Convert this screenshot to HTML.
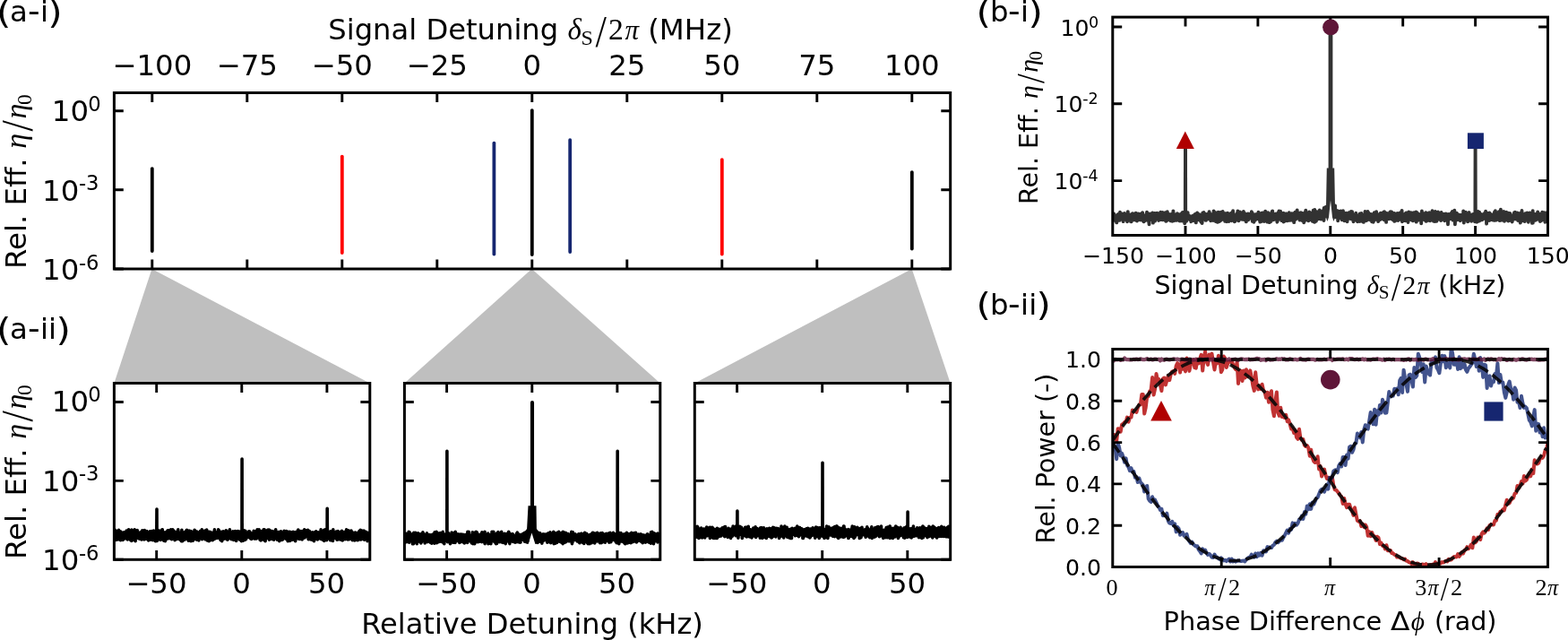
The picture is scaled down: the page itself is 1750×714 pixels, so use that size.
<!DOCTYPE html>
<html><head><meta charset="utf-8"><title>Figure</title><style>html,body{margin:0;padding:0;background:#fff}svg{display:block}</style></head><body>
<svg width="1750" height="714" viewBox="0 0 1750 714">
<rect width="1750" height="714" fill="#fff"/>
<defs><filter id="soft" x="0" y="0" width="1750" height="714" filterUnits="userSpaceOnUse"><feGaussianBlur stdDeviation="0.75"/></filter></defs>
<g filter="url(#soft)">
<rect width="1750" height="714" fill="#fff"/>
<polygon points="169.5,300 127.4,427.5 412.8,427.5" fill="#bfbfbf"/>
<polygon points="593.5,300 451.4,427.5 736.8,427.5" fill="#bfbfbf"/>
<polygon points="1017.7,300 775.3,427.5 1060.7,427.5" fill="#bfbfbf"/>
<path d="M169.8 188.1V280" stroke="#000" stroke-width="3.8" stroke-linecap="round" fill="none"/>
<path d="M381.8 174.6V282" stroke="#ff0000" stroke-width="3.8" stroke-linecap="round" fill="none"/>
<path d="M551.4 159.6V283.5" stroke="#142870" stroke-width="3.8" stroke-linecap="round" fill="none"/>
<path d="M593.8 123.1V284" stroke="#000" stroke-width="3.8" stroke-linecap="round" fill="none"/>
<path d="M636.2 156.1V281" stroke="#142870" stroke-width="3.8" stroke-linecap="round" fill="none"/>
<path d="M805.8 178.1V283.5" stroke="#ff0000" stroke-width="3.8" stroke-linecap="round" fill="none"/>
<path d="M1017.8 192.1V277.5" stroke="#000" stroke-width="3.8" stroke-linecap="round" fill="none"/>
<path d="M169.8 103.5v10.4M169.8 300v-10.4M275.8 103.5v10.4M275.8 300v-10.4M381.8 103.5v10.4M381.8 300v-10.4M487.8 103.5v10.4M487.8 300v-10.4M593.8 103.5v10.4M593.8 300v-10.4M699.8 103.5v10.4M699.8 300v-10.4M805.8 103.5v10.4M805.8 300v-10.4M911.8 103.5v10.4M911.8 300v-10.4M1017.8 103.5v10.4M1017.8 300v-10.4M127.4 123.7h10.4M1060.7 123.7h-10.4M127.4 211.7h10.4M1060.7 211.7h-10.4M127.4 300h10.4M1060.7 300h-10.4" fill="none" stroke="#000" stroke-width="2.9"/>
<rect x="127.4" y="103.5" width="933.3" height="196.5" fill="none" stroke="#000" stroke-width="3.0"/>
<text x="169.8" y="84" font-size="32.4" text-anchor="middle" font-family='"DejaVu Sans","Liberation Sans",sans-serif'>−100</text>
<text x="275.8" y="84" font-size="32.4" text-anchor="middle" font-family='"DejaVu Sans","Liberation Sans",sans-serif'>−75</text>
<text x="381.8" y="84" font-size="32.4" text-anchor="middle" font-family='"DejaVu Sans","Liberation Sans",sans-serif'>−50</text>
<text x="487.8" y="84" font-size="32.4" text-anchor="middle" font-family='"DejaVu Sans","Liberation Sans",sans-serif'>−25</text>
<text x="593.8" y="84" font-size="32.4" text-anchor="middle" font-family='"DejaVu Sans","Liberation Sans",sans-serif'>0</text>
<text x="699.8" y="84" font-size="32.4" text-anchor="middle" font-family='"DejaVu Sans","Liberation Sans",sans-serif'>25</text>
<text x="805.8" y="84" font-size="32.4" text-anchor="middle" font-family='"DejaVu Sans","Liberation Sans",sans-serif'>50</text>
<text x="911.8" y="84" font-size="32.4" text-anchor="middle" font-family='"DejaVu Sans","Liberation Sans",sans-serif'>75</text>
<text x="1017.8" y="84" font-size="32.4" text-anchor="middle" font-family='"DejaVu Sans","Liberation Sans",sans-serif'>100</text>
<text><tspan x="57.8" y="135" font-size="32.4" font-family='"DejaVu Sans","Liberation Sans",sans-serif'>10</tspan><tspan x="98.3" y="123.8" font-size="22.7" font-family='"DejaVu Sans","Liberation Sans",sans-serif'>0</tspan></text>
<text><tspan x="47.1" y="223.9" font-size="32.4" font-family='"DejaVu Sans","Liberation Sans",sans-serif'>10</tspan><tspan x="87.9" y="212.2" font-size="22.7" font-family='"DejaVu Sans","Liberation Sans",sans-serif'>-3</tspan></text>
<text><tspan x="47.1" y="312.2" font-size="32.4" font-family='"DejaVu Sans","Liberation Sans",sans-serif'>10</tspan><tspan x="87.9" y="300.5" font-size="22.7" font-family='"DejaVu Sans","Liberation Sans",sans-serif'>-6</tspan></text>
<text><tspan x="366.3" y="44.3" font-size="32.2" font-family='"DejaVu Sans","Liberation Sans",sans-serif'>Signal Detuning </tspan><tspan x="633.6" y="44.3" font-size="33" font-family='"Liberation Serif","DejaVu Serif",serif' font-style="italic">δ</tspan><tspan x="648.6" y="49.6" font-size="24" font-family='"Liberation Serif","DejaVu Serif",serif'>S</tspan><tspan x="664" y="48.9" font-size="40" font-family='"DejaVu Sans Light","DejaVu Sans","Liberation Sans",sans-serif' font-weight="200">/</tspan><tspan x="679" y="44.3" font-size="33.7" font-family='"Liberation Serif","DejaVu Serif",serif'>2</tspan><tspan x="697.6" y="44.3" font-size="31.1" font-family='"Liberation Serif","DejaVu Serif",serif' font-style="italic">π </tspan><tspan x="723.2" y="44.3" font-size="32.4" font-family='"DejaVu Sans","Liberation Sans",sans-serif'>(MHz)</tspan></text>
<text transform="translate(28.6 297) rotate(-90)"><tspan x="-3" y="0" font-size="32.4" font-family='"DejaVu Sans","Liberation Sans",sans-serif'>Rel. Eff. </tspan><tspan x="131.3" y="0" font-size="34" font-family='"Liberation Serif","DejaVu Serif",serif' font-style="italic">η</tspan><tspan x="150" y="4.6" font-size="40" font-family='"DejaVu Sans Light","DejaVu Sans","Liberation Sans",sans-serif' font-weight="200">/</tspan><tspan x="164.4" y="0" font-size="34" font-family='"Liberation Serif","DejaVu Serif",serif' font-style="italic">η</tspan><tspan x="179.9" y="5.9" font-size="23.3" font-family='"Liberation Serif","DejaVu Serif",serif'>0</tspan></text>
<text><tspan x="-4" y="25.8" font-size="34.7" font-family='"DejaVu Sans","Liberation Sans",sans-serif' textLength="16.43" lengthAdjust="spacingAndGlyphs">(</tspan><tspan x="11" y="24.2" font-size="32.4" font-family='"DejaVu Sans","Liberation Sans",sans-serif'>a</tspan><tspan x="30.9" y="24.2" font-size="35" font-family='"DejaVu Sans","Liberation Sans",sans-serif' textLength="13.68" lengthAdjust="spacingAndGlyphs">-</tspan><tspan x="45" y="24.2" font-size="32.4" font-family='"DejaVu Sans","Liberation Sans",sans-serif'>i</tspan><tspan x="53.3" y="25.8" font-size="34.7" font-family='"DejaVu Sans","Liberation Sans",sans-serif' textLength="16.43" lengthAdjust="spacingAndGlyphs">)</tspan></text>
<text><tspan x="-4" y="379.6" font-size="34.7" font-family='"DejaVu Sans","Liberation Sans",sans-serif' textLength="16.43" lengthAdjust="spacingAndGlyphs">(</tspan><tspan x="11" y="378" font-size="32.4" font-family='"DejaVu Sans","Liberation Sans",sans-serif'>a</tspan><tspan x="30.9" y="378" font-size="35" font-family='"DejaVu Sans","Liberation Sans",sans-serif' textLength="13.68" lengthAdjust="spacingAndGlyphs">-</tspan><tspan x="45" y="378" font-size="32.4" font-family='"DejaVu Sans","Liberation Sans",sans-serif'>i</tspan><tspan x="54.1" y="378" font-size="32.4" font-family='"DejaVu Sans","Liberation Sans",sans-serif'>i</tspan><tspan x="62.4" y="379.6" font-size="34.7" font-family='"DejaVu Sans","Liberation Sans",sans-serif' textLength="16.43" lengthAdjust="spacingAndGlyphs">)</tspan></text>
<clipPath id="c0"><rect x="127.4" y="427.5" width="285.4" height="196.8"/></clipPath>
<polyline points="127.4,600.5 127.5,596.6 127.6,595.2 127.8,595.9 127.9,599.9 128,594.5 128.1,595.5 128.2,595.4 128.4,595.3 128.5,594.4 128.6,591.3 128.7,599 128.8,597.2 128.9,592.6 129.1,601 129.2,596.5 129.3,599.2 129.4,597.4 129.5,596.1 129.7,602.5 129.8,600 129.9,601.1 130,598 130.1,599.2 130.3,593.3 130.4,599 130.5,592.7 130.6,598.4 130.7,596.6 130.8,597.2 131,597.3 131.1,600.4 131.2,596.4 131.3,596.3 131.4,596.7 131.6,595.7 131.7,599.6 131.8,598.1 131.9,599.1 132,601.9 132.2,596.4 132.3,599.1 132.4,597.6 132.5,591.3 132.6,596.7 132.8,597.1 132.9,594.4 133,594 133.1,592.5 133.2,598.7 133.3,592.5 133.5,597.7 133.6,600.5 133.7,599.8 133.8,594.4 133.9,595.3 134.1,593.9 134.2,599.8 134.3,598.3 134.4,600.6 134.5,602.7 134.7,597.4 134.8,593.1 134.9,594.3 135,599.4 135.1,594.2 135.2,598.9 135.4,596.5 135.5,595.1 135.6,598.4 135.7,599.7 135.8,595.6 136,597.8 136.1,598.8 136.2,595.6 136.3,597.9 136.4,596.3 136.6,599.9 136.7,595.4 136.8,599.9 136.9,598.4 137,602.4 137.2,594.2 137.3,597.1 137.4,596.1 137.5,601.9 137.6,596.9 137.7,598.4 137.9,594.1 138,601.6 138.1,596.4 138.2,594.5 138.3,600.6 138.5,597 138.6,600.3 138.7,597.2 138.8,596.4 138.9,593.8 139.1,596.9 139.2,599.2 139.3,595.8 139.4,597.3 139.5,594.4 139.6,599 139.8,593.7 139.9,596.9 140,596.7 140.1,594.6 140.2,598.8 140.4,598.7 140.5,596 140.6,597.6 140.7,597.2 140.8,598.4 141,598.2 141.1,595 141.2,592.1 141.3,601.1 141.4,593.3 141.6,595.4 141.7,594.1 141.8,596.9 141.9,599.3 142,597.9 142.1,599.8 142.3,601.9 142.4,597.6 142.5,596.6 142.6,598.1 142.7,596.8 142.9,601.5 143,594.5 143.1,597.8 143.2,597.2 143.3,595.4 143.5,598.9 143.6,590.9 143.7,594 143.8,594 143.9,596.9 144,599.3 144.2,596 144.3,599.3 144.4,596.7 144.5,596.7 144.6,594 144.8,596.2 144.9,596.9 145,593.6 145.1,597.7 145.2,598.8 145.4,598.7 145.5,593.4 145.6,597.3 145.7,598.9 145.8,602.6 146,600.2 146.1,596.5 146.2,595.8 146.3,592.9 146.4,599.2 146.5,596 146.7,593.9 146.8,603.5 146.9,591.1 147,600.4 147.1,600.4 147.3,594.8 147.4,596.2 147.5,594.1 147.6,595.6 147.7,596.5 147.9,597.7 148,599.4 148.1,595.8 148.2,602.5 148.3,597.8 148.4,595.2 148.6,600.4 148.7,595.1 148.8,594.7 148.9,597.1 149,597.8 149.2,595.8 149.3,595.6 149.4,598 149.5,591.8 149.6,593.2 149.8,594.6 149.9,593.6 150,593.8 150.1,601.1 150.2,590.9 150.4,601.2 150.5,596.8 150.6,600.3 150.7,595.6 150.8,596.1 150.9,596.7 151.1,603.8 151.2,595.2 151.3,596.7 151.4,602.9 151.5,593.3 151.7,597.7 151.8,599.4 151.9,596.2 152,598.8 152.1,596.3 152.3,598.3 152.4,599.8 152.5,600.4 152.6,595.2 152.7,597.1 152.8,599.4 153,598.9 153.1,599.7 153.2,591.5 153.3,596.3 153.4,596.8 153.6,593.2 153.7,599.1 153.8,600.3 153.9,598.7 154,596.9 154.2,597.9 154.3,598.3 154.4,596.9 154.5,598.6 154.6,600.3 154.8,595.4 154.9,598.1 155,598.2 155.1,596 155.2,596.3 155.3,600.4 155.5,599.4 155.6,601.2 155.7,600.7 155.8,596.6 155.9,598.7 156.1,600 156.2,601 156.3,594 156.4,598.6 156.5,596.8 156.7,597.7 156.8,600 156.9,596.3 157,597.1 157.1,593.9 157.2,595.8 157.4,600.9 157.5,597.8 157.6,597.8 157.7,597.7 157.8,600.8 158,602 158.1,597.8 158.2,596.5 158.3,600.7 158.4,592.5 158.6,595.7 158.7,598.8 158.8,591.9 158.9,601.6 159,600.2 159.2,600.4 159.3,594.3 159.4,599.5 159.5,595.5 159.6,596.8 159.7,599.1 159.9,597.1 160,600.7 160.1,595.2 160.2,600.1 160.3,599.8 160.5,595.6 160.6,598.8 160.7,592.4 160.8,593.7 160.9,601.9 161.1,597 161.2,597.8 161.3,591.6 161.4,598.9 161.5,599.1 161.6,598 161.8,598 161.9,599.9 162,596.7 162.1,598.9 162.2,599.7 162.4,593.3 162.5,597 162.6,600.3 162.7,601.2 162.8,598.3 163,600.8 163.1,600.9 163.2,594.4 163.3,597.8 163.4,598.9 163.6,596.9 163.7,598.9 163.8,597.2 163.9,592.5 164,597.5 164.1,599.1 164.3,600.5 164.4,595.7 164.5,597.9 164.6,596.3 164.7,601.8 164.9,598.4 165,597.1 165.1,596 165.2,596.7 165.3,598.1 165.5,594 165.6,597.5 165.7,603 165.8,600.8 165.9,597.5 166,596.8 166.2,601 166.3,600.7 166.4,596.4 166.5,596.7 166.6,596.4 166.8,595.5 166.9,597.2 167,599.5 167.1,594 167.2,594.6 167.4,592.7 167.5,596.1 167.6,596.9 167.7,596.6 167.8,596.4 168,602.2 168.1,597.6 168.2,598.1 168.3,596.2 168.4,596.3 168.5,598 168.7,598.3 168.8,600.7 168.9,596.4 169,598.4 169.1,598.1 169.3,594.2 169.4,594.3 169.5,598 169.6,592.6 169.7,595.2 169.9,597.1 170,599.6 170.1,599.6 170.2,594.7 170.3,602.6 170.4,592.6 170.6,595.4 170.7,598.3 170.8,592.9 170.9,596.7 171,600.7 171.2,599.2 171.3,600.3 171.4,600.7 171.5,592.1 171.6,597.2 171.8,597.9 171.9,595.3 172,595.9 172.1,599.3 172.2,600.2 172.4,602.8 172.5,595 172.6,598.2 172.7,595.1 172.8,597.5 172.9,601.2 173.1,599.2 173.2,593.5 173.3,599.2 173.4,596.2 173.5,603.8 173.7,599.7 173.8,594.9 173.9,602.6 174,594.6 174.1,598.8 174.3,599.1 174.4,593.5 174.5,598.8 174.6,594.4 174.7,598.4 174.8,596.3 175,568 175.1,594.3 175.2,597.9 175.3,603.5 175.4,592.5 175.6,598.7 175.7,593.7 175.8,599.4 175.9,598.4 176,596.9 176.2,597.3 176.3,591.9 176.4,601.9 176.5,598.7 176.6,596.4 176.8,596 176.9,597.1 177,596.6 177.1,594.4 177.2,598.7 177.3,598.7 177.5,597.5 177.6,595.3 177.7,601.1 177.8,592.1 177.9,598.2 178.1,598.9 178.2,598.2 178.3,600.2 178.4,599.8 178.5,598.1 178.7,596 178.8,595.3 178.9,598.3 179,598.1 179.1,596 179.2,602.4 179.4,597.7 179.5,594.4 179.6,592.8 179.7,597.8 179.8,601 180,598.9 180.1,593.9 180.2,591.8 180.3,597.7 180.4,601.4 180.6,596.9 180.7,595.2 180.8,594.8 180.9,596.3 181,590.9 181.2,597.3 181.3,590.9 181.4,600.2 181.5,593.3 181.6,594.2 181.7,595 181.9,599.4 182,597.6 182.1,600.5 182.2,597.2 182.3,596.5 182.5,595.7 182.6,600.6 182.7,599.3 182.8,603.2 182.9,597.1 183.1,600.1 183.2,594.5 183.3,598.8 183.4,595.9 183.5,598.4 183.6,597.4 183.8,597.9 183.9,600.6 184,595 184.1,599.7 184.2,593.9 184.4,603.8 184.5,598.7 184.6,595.1 184.7,595.1 184.8,602.7 185,596.9 185.1,596.9 185.2,596.7 185.3,598.4 185.4,599.6 185.6,596.9 185.7,595.9 185.8,594.8 185.9,597.7 186,599.7 186.1,595.5 186.3,601.2 186.4,599.4 186.5,599.2 186.6,597.5 186.7,597 186.9,592.1 187,595.7 187.1,594.8 187.2,598.5 187.3,600.3 187.5,598.4 187.6,598.8 187.7,591.7 187.8,593.4 187.9,595 188,597.6 188.2,600.8 188.3,598.2 188.4,599 188.5,599.4 188.6,596.2 188.8,592.5 188.9,591.7 189,597.8 189.1,597 189.2,596.4 189.4,599 189.5,593.6 189.6,595.8 189.7,597 189.8,595.7 190,598.4 190.1,597.8 190.2,593.8 190.3,594.5 190.4,596.7 190.5,601 190.7,590.9 190.8,595.9 190.9,594.5 191,599.7 191.1,595.5 191.3,595.5 191.4,596.2 191.5,593.8 191.6,601.7 191.7,593.7 191.9,598.1 192,598.4 192.1,597.1 192.2,595.9 192.3,596.5 192.4,598 192.6,595.4 192.7,590.9 192.8,595.2 192.9,598 193,593.7 193.2,594.6 193.3,599.1 193.4,593.6 193.5,600.7 193.6,595.7 193.8,592 193.9,600.3 194,598.3 194.1,599.2 194.2,593.4 194.4,599 194.5,597.4 194.6,596 194.7,594.5 194.8,595.2 194.9,599.7 195.1,602.6 195.2,594.6 195.3,597.1 195.4,595.6 195.5,599 195.7,597.4 195.8,593.6 195.9,601.3 196,597.9 196.1,601.5 196.3,593.8 196.4,596.9 196.5,599.9 196.6,601.8 196.7,597.1 196.8,597 197,597.8 197.1,593.7 197.2,600 197.3,595.3 197.4,593.2 197.6,598.9 197.7,595 197.8,593.2 197.9,601 198,599 198.2,600.7 198.3,595.9 198.4,592.3 198.5,601.1 198.6,597.3 198.8,590.9 198.9,599 199,595.6 199.1,595.7 199.2,598.7 199.3,594.9 199.5,596.3 199.6,597.6 199.7,598.1 199.8,593.8 199.9,596.9 200.1,599.4 200.2,598.7 200.3,596.5 200.4,596.1 200.5,601.1 200.7,594.9 200.8,600.6 200.9,602.2 201,598.2 201.1,596.4 201.2,594.7 201.4,600.4 201.5,598.3 201.6,594.5 201.7,597.5 201.8,594.3 202,595.5 202.1,601.4 202.2,599.5 202.3,594.9 202.4,603.8 202.6,595 202.7,597.7 202.8,599.7 202.9,591.2 203,599.7 203.1,599.1 203.3,598.1 203.4,598.2 203.5,595.8 203.6,596.2 203.7,603.8 203.9,594.1 204,594.4 204.1,594.8 204.2,596 204.3,601.4 204.5,595.3 204.6,598.5 204.7,600.2 204.8,597.2 204.9,595.5 205.1,600 205.2,600.2 205.3,595.7 205.4,594.5 205.5,598.8 205.6,596.8 205.8,597.3 205.9,593.7 206,596.6 206.1,602.2 206.2,599.6 206.4,594 206.5,593.7 206.6,593.8 206.7,597.9 206.8,599.7 207,595.4 207.1,597.7 207.2,598 207.3,599.2 207.4,596.4 207.5,599.8 207.7,598.4 207.8,592 207.9,597.6 208,594 208.1,596.7 208.3,596.2 208.4,596.8 208.5,591.3 208.6,596.3 208.7,596.6 208.9,596.9 209,598.7 209.1,594.1 209.2,599.5 209.3,601.5 209.5,596.6 209.6,596.1 209.7,600.5 209.8,596.6 209.9,597.4 210,601.7 210.2,603.1 210.3,596.4 210.4,597.3 210.5,595.1 210.6,601 210.8,594.2 210.9,597 211,596.1 211.1,592.1 211.2,597.4 211.4,597.8 211.5,598.5 211.6,601.2 211.7,597.6 211.8,601.3 211.9,600.2 212.1,602.2 212.2,595.2 212.3,597.6 212.4,594 212.5,598.9 212.7,598.4 212.8,599.3 212.9,599.9 213,592.6 213.1,603.8 213.3,593.9 213.4,594.2 213.5,598.6 213.6,597 213.7,593.1 213.9,597.3 214,602.9 214.1,599.2 214.2,593.9 214.3,600 214.4,594 214.6,598.5 214.7,595.3 214.8,598.8 214.9,599.2 215,598.2 215.2,603.1 215.3,595.8 215.4,603.2 215.5,597.5 215.6,600.4 215.8,596.4 215.9,593.9 216,597.3 216.1,598.2 216.2,596.6 216.3,596.1 216.5,595 216.6,598.6 216.7,594.1 216.8,600.1 216.9,597.8 217.1,591.3 217.2,596.7 217.3,595.3 217.4,596.2 217.5,596.5 217.7,592 217.8,597.1 217.9,601.5 218,597.9 218.1,596.8 218.3,598.8 218.4,598.9 218.5,593.9 218.6,595.8 218.7,593 218.8,596.6 219,600.3 219.1,597.9 219.2,598.1 219.3,598.2 219.4,595.2 219.6,602.1 219.7,597.7 219.8,593 219.9,600.4 220,595.3 220.2,597.2 220.3,601.8 220.4,599.8 220.5,593.6 220.6,599.2 220.7,597.1 220.9,597.5 221,600.4 221.1,594.2 221.2,594.8 221.3,596.2 221.5,597.7 221.6,599.6 221.7,599.9 221.8,594.8 221.9,603 222.1,594.6 222.2,596.4 222.3,596 222.4,597.3 222.5,600 222.7,599.6 222.8,597.7 222.9,596.1 223,594 223.1,596.6 223.2,595.9 223.4,599.4 223.5,595 223.6,595.9 223.7,592.4 223.8,594.6 224,597.2 224.1,600.3 224.2,593 224.3,599.7 224.4,596.4 224.6,594.5 224.7,595.1 224.8,600.2 224.9,599.9 225,594.1 225.1,595.4 225.3,590.9 225.4,599.4 225.5,601.7 225.6,600.5 225.7,599.6 225.9,598.4 226,596.5 226.1,596.5 226.2,598.1 226.3,599.3 226.5,596.5 226.6,598.7 226.7,594.8 226.8,598.2 226.9,598.9 227.1,594 227.2,594 227.3,592.9 227.4,599.8 227.5,594.6 227.6,593.5 227.8,596.6 227.9,599.8 228,597.6 228.1,595.6 228.2,597 228.4,597 228.5,594.6 228.6,592.1 228.7,593.1 228.8,599.7 229,601.7 229.1,592.8 229.2,593.5 229.3,597.5 229.4,601.7 229.5,593.3 229.7,598.6 229.8,599.5 229.9,597.9 230,597 230.1,601.6 230.3,600.7 230.4,597.4 230.5,597.2 230.6,601.4 230.7,591.1 230.9,594.2 231,595.9 231.1,595.6 231.2,602.9 231.3,597.1 231.5,595.9 231.6,597 231.7,596.4 231.8,595.7 231.9,593.2 232,594.4 232.2,598.8 232.3,594.4 232.4,598.6 232.5,596.8 232.6,596.4 232.8,597.4 232.9,597.8 233,596.6 233.1,596.4 233.2,603.8 233.4,597.6 233.5,599.5 233.6,593.2 233.7,596.9 233.8,599.4 233.9,596.1 234.1,597 234.2,595.8 234.3,602.9 234.4,598.3 234.5,600 234.7,593.5 234.8,595.3 234.9,598 235,597.6 235.1,597.6 235.3,598.7 235.4,599.9 235.5,600.9 235.6,594.3 235.7,600.1 235.9,596.2 236,595.1 236.1,595.9 236.2,597.5 236.3,595.8 236.4,599 236.6,600.1 236.7,594.9 236.8,595.7 236.9,594.3 237,597.4 237.2,602.6 237.3,598.6 237.4,599.2 237.5,594.6 237.6,599.6 237.8,594.8 237.9,596.7 238,596.6 238.1,596.6 238.2,595.7 238.3,600.2 238.5,594.1 238.6,601.7 238.7,599.3 238.8,599.3 238.9,595.3 239.1,599.6 239.2,592.6 239.3,599.9 239.4,590.9 239.5,595.5 239.7,594.9 239.8,596.3 239.9,594.8 240,599.2 240.1,601 240.3,594.9 240.4,595.5 240.5,597.7 240.6,598 240.7,597.7 240.8,596.8 241,594.8 241.1,598.2 241.2,596.4 241.3,594 241.4,597.7 241.6,595.6 241.7,598.9 241.8,597.1 241.9,597.9 242,594.1 242.2,598.2 242.3,600.3 242.4,596.6 242.5,598.7 242.6,593.6 242.7,596.1 242.9,598.4 243,600.2 243.1,597.2 243.2,597.9 243.3,597.6 243.5,597 243.6,590.9 243.7,599.4 243.8,596.7 243.9,595 244.1,594 244.2,597.6 244.3,596.5 244.4,597.9 244.5,591.7 244.7,598.9 244.8,596.5 244.9,599.3 245,595.3 245.1,599.1 245.2,593 245.4,598.8 245.5,597.6 245.6,597.5 245.7,596.4 245.8,599 246,602.1 246.1,602.4 246.2,598 246.3,594.4 246.4,594.4 246.6,596.1 246.7,594.6 246.8,597.3 246.9,597.7 247,595.9 247.1,593.6 247.3,593.5 247.4,596.1 247.5,600.9 247.6,598.9 247.7,603.7 247.9,594.4 248,597.4 248.1,593.7 248.2,593.6 248.3,597.7 248.5,595.5 248.6,597.4 248.7,601.2 248.8,596.1 248.9,596.7 249.1,596.7 249.2,592.9 249.3,599.8 249.4,601.4 249.5,594.7 249.6,594 249.8,595.5 249.9,596.9 250,596.4 250.1,596.6 250.2,596.9 250.4,598 250.5,593.9 250.6,598.7 250.7,600.7 250.8,597.2 251,599.1 251.1,599.7 251.2,595.7 251.3,600.4 251.4,599.9 251.5,598.9 251.7,599.7 251.8,598.4 251.9,598.2 252,600.7 252.1,601 252.3,591.8 252.4,596.8 252.5,598.4 252.6,595.9 252.7,596.8 252.9,597 253,598.3 253.1,598 253.2,598.5 253.3,592.8 253.5,598.1 253.6,596.1 253.7,595.9 253.8,602.2 253.9,594.3 254,596.7 254.2,602.1 254.3,593.4 254.4,594.8 254.5,596.6 254.6,599.1 254.8,599.7 254.9,597.8 255,598.6 255.1,594.7 255.2,595.7 255.4,594.4 255.5,596.8 255.6,597.7 255.7,598 255.8,598.1 255.9,597.8 256.1,596.4 256.2,596.8 256.3,597.4 256.4,590.9 256.5,597 256.7,596.4 256.8,597.9 256.9,594.7 257,595 257.1,597.1 257.3,594.6 257.4,595.6 257.5,600.8 257.6,600.7 257.7,599.9 257.9,597 258,599.4 258.1,601.6 258.2,599 258.3,597.5 258.4,597.6 258.6,597 258.7,597.9 258.8,596.9 258.9,598 259,599.6 259.2,601 259.3,597.6 259.4,596 259.5,599.1 259.6,599 259.8,595.3 259.9,592.9 260,593.6 260.1,598.9 260.2,599.4 260.3,598.2 260.5,597 260.6,596.6 260.7,602.4 260.8,594.1 260.9,595.2 261.1,598.6 261.2,596.1 261.3,599.2 261.4,597.6 261.5,593.6 261.7,600.9 261.8,598.9 261.9,598.7 262,598.3 262.1,596.7 262.3,597.7 262.4,592.6 262.5,599.8 262.6,595.4 262.7,598.4 262.8,596.4 263,597.8 263.1,598.3 263.2,599 263.3,598.2 263.4,600.2 263.6,599.1 263.7,603.5 263.8,598.3 263.9,599.8 264,598.2 264.2,599.7 264.3,594.6 264.4,597.9 264.5,597.8 264.6,594.1 264.7,600.2 264.9,597 265,601 265.1,599.7 265.2,599.5 265.3,592.6 265.5,599.3 265.6,595.4 265.7,595.9 265.8,593.5 265.9,597.9 266.1,600.8 266.2,600.4 266.3,593.4 266.4,595.5 266.5,593.2 266.7,593 266.8,596.3 266.9,597.3 267,595.6 267.1,600.7 267.2,598.1 267.4,597.3 267.5,595.2 267.6,601.8 267.7,602.1 267.8,594.1 268,595.7 268.1,598.4 268.2,598.7 268.3,597.3 268.4,601.6 268.6,599.5 268.7,594.6 268.8,594.6 268.9,592.9 269,596 269.1,594 269.3,601.2 269.4,601.1 269.5,603.8 269.6,601.2 269.7,602.4 269.9,595.6 270,595.4 270.1,512.1 270.2,601.8 270.3,594.8 270.5,593.9 270.6,600.7 270.7,596.7 270.8,593.5 270.9,596.6 271.1,593.1 271.2,597.1 271.3,596.7 271.4,598.4 271.5,603.1 271.6,598.8 271.8,600.1 271.9,594.5 272,601.2 272.1,597.7 272.2,597.2 272.4,595.8 272.5,597.2 272.6,591.7 272.7,595.9 272.8,596.7 273,596.8 273.1,594.7 273.2,601.5 273.3,599.4 273.4,597.2 273.5,599.4 273.7,597 273.8,602.3 273.9,592.2 274,596.5 274.1,597.1 274.3,600.1 274.4,595.1 274.5,594.8 274.6,598.7 274.7,597.5 274.9,601.2 275,596.7 275.1,597.1 275.2,594.5 275.3,596 275.5,594 275.6,597.7 275.7,596.8 275.8,597.8 275.9,597.3 276,599.1 276.2,597.6 276.3,598.9 276.4,594.4 276.5,596.2 276.6,596.9 276.8,598.4 276.9,594.5 277,597 277.1,595.9 277.2,598.6 277.4,596.5 277.5,599.1 277.6,599.1 277.7,598.8 277.8,592.9 277.9,597 278.1,593.4 278.2,599.8 278.3,596.4 278.4,598.8 278.5,596.5 278.7,593 278.8,593.3 278.9,599.5 279,595.3 279.1,595.1 279.3,597.8 279.4,598.4 279.5,599.7 279.6,596.9 279.7,601 279.9,598 280,597.1 280.1,599.3 280.2,600.5 280.3,595.4 280.4,597.9 280.6,601.5 280.7,598 280.8,596.6 280.9,599.1 281,596.3 281.2,596.9 281.3,596.5 281.4,598.4 281.5,598.8 281.6,594.7 281.8,596.7 281.9,596.3 282,595.8 282.1,596.4 282.2,596.4 282.3,596.5 282.5,597.2 282.6,598.9 282.7,595.3 282.8,596.6 282.9,598.2 283.1,595.1 283.2,592.4 283.3,599.8 283.4,596.8 283.5,593.9 283.7,600.9 283.8,597.2 283.9,597.5 284,598.8 284.1,593 284.3,595.1 284.4,597.5 284.5,600.9 284.6,596.9 284.7,599.5 284.8,596 285,598.1 285.1,596.5 285.2,593.4 285.3,595.2 285.4,597.9 285.6,597.5 285.7,599.5 285.8,595.2 285.9,599.6 286,598.7 286.2,601 286.3,597 286.4,592.2 286.5,598.4 286.6,598.4 286.7,598.6 286.9,596.9 287,596.2 287.1,590.9 287.2,594 287.3,596.6 287.5,599.9 287.6,593.7 287.7,595.9 287.8,599.1 287.9,596.4 288.1,597 288.2,594.1 288.3,596 288.4,599.1 288.5,596.2 288.7,592.9 288.8,596.1 288.9,598.1 289,598.6 289.1,590.9 289.2,593.8 289.4,599.5 289.5,595.6 289.6,593.7 289.7,594.9 289.8,598.4 290,597.5 290.1,602.3 290.2,597.8 290.3,597.7 290.4,595 290.6,597.9 290.7,598.7 290.8,593.1 290.9,594.7 291,598.8 291.1,603 291.3,602 291.4,597.8 291.5,597.4 291.6,597.7 291.7,595.1 291.9,592.6 292,595.3 292.1,596.6 292.2,596.7 292.3,601.2 292.5,594.8 292.6,597.9 292.7,594.7 292.8,600.5 292.9,598.1 293.1,601.7 293.2,598.2 293.3,592.7 293.4,599.3 293.5,598.6 293.6,598.7 293.8,596.5 293.9,600.1 294,598.8 294.1,601.1 294.2,590.9 294.4,599.1 294.5,598 294.6,600.7 294.7,597.3 294.8,598.2 295,602.7 295.1,590.9 295.2,598.6 295.3,598.5 295.4,595.4 295.5,603.1 295.7,598 295.8,600.9 295.9,599.4 296,598.8 296.1,603.8 296.3,599 296.4,596.8 296.5,600.2 296.6,597 296.7,598.2 296.9,593.8 297,597.9 297.1,596.6 297.2,597.2 297.3,598.2 297.5,593 297.6,596.2 297.7,596.5 297.8,595.4 297.9,591.7 298,599.6 298.2,593.6 298.3,600.1 298.4,597.7 298.5,595.4 298.6,594 298.8,599.5 298.9,594.1 299,595.5 299.1,591 299.2,600.7 299.4,595.8 299.5,598.5 299.6,598.3 299.7,597.3 299.8,598.7 299.9,596 300.1,597 300.2,600 300.3,591.1 300.4,597.2 300.5,602.1 300.7,598 300.8,597.2 300.9,598.1 301,598.1 301.1,593.9 301.3,598.8 301.4,598.5 301.5,598.8 301.6,598.4 301.7,599.1 301.9,597 302,594.3 302.1,596.9 302.2,596.9 302.3,598.6 302.4,598.7 302.6,601.3 302.7,592.3 302.8,598 302.9,599.9 303,597.2 303.2,597.9 303.3,594.2 303.4,596.3 303.5,600.3 303.6,598.8 303.8,599.7 303.9,597.8 304,601.5 304.1,592.8 304.2,596.3 304.3,596.8 304.5,596.6 304.6,595.7 304.7,599.6 304.8,597 304.9,593 305.1,593.5 305.2,600.3 305.3,598.6 305.4,598.1 305.5,602.3 305.7,599 305.8,597.4 305.9,596 306,597.8 306.1,601.2 306.3,598 306.4,599.4 306.5,594.8 306.6,595 306.7,598.6 306.8,593.8 307,598.2 307.1,596.5 307.2,593.4 307.3,595.4 307.4,597.8 307.6,596.8 307.7,590.9 307.8,597.8 307.9,596.1 308,600 308.2,595.7 308.3,598.4 308.4,594.9 308.5,599.4 308.6,595.4 308.7,597 308.9,596.2 309,595.8 309.1,595 309.2,599.5 309.3,602.2 309.5,597.5 309.6,595.2 309.7,600.2 309.8,594.3 309.9,599.6 310.1,596.7 310.2,597.1 310.3,596.9 310.4,593.5 310.5,600.3 310.7,599.7 310.8,598.5 310.9,596.5 311,599.5 311.1,593.7 311.2,597.1 311.4,597.3 311.5,598.4 311.6,594.7 311.7,593.5 311.8,603.8 312,595.8 312.1,600.2 312.2,596.2 312.3,596.8 312.4,596.4 312.6,597.6 312.7,598.5 312.8,595.1 312.9,599.8 313,593.4 313.1,595.3 313.3,600.7 313.4,601.6 313.5,592.9 313.6,597.6 313.7,600.1 313.9,594.8 314,597 314.1,596 314.2,597.2 314.3,597 314.5,595.6 314.6,595 314.7,602.4 314.8,597.5 314.9,595.4 315.1,594.5 315.2,598.2 315.3,597.5 315.4,599.4 315.5,601.9 315.6,598.8 315.8,595.9 315.9,597.6 316,594.3 316.1,598.9 316.2,596.1 316.4,597.9 316.5,596.3 316.6,599.4 316.7,597.7 316.8,597.6 317,596.8 317.1,592.2 317.2,600.7 317.3,595.1 317.4,599.2 317.5,597.1 317.7,598.1 317.8,597.4 317.9,593.3 318,598.1 318.1,592.7 318.3,600.3 318.4,597.2 318.5,598.4 318.6,600.4 318.7,596.4 318.9,599.1 319,595.2 319.1,599.5 319.2,596.7 319.3,596.7 319.5,592.6 319.6,596.2 319.7,599 319.8,601.7 319.9,597.7 320,594.1 320.2,595.9 320.3,599.4 320.4,597 320.5,595.8 320.6,598 320.8,597.2 320.9,597.6 321,597.1 321.1,594.7 321.2,603.8 321.4,603.8 321.5,594.5 321.6,598.5 321.7,594.3 321.8,593.4 321.9,598.5 322.1,597.9 322.2,594.5 322.3,594.4 322.4,596.4 322.5,595.2 322.7,598.2 322.8,596.2 322.9,598.5 323,595.3 323.1,599.2 323.3,597.4 323.4,596.7 323.5,603.5 323.6,593.2 323.7,601.7 323.9,598.2 324,598.4 324.1,597.8 324.2,602.9 324.3,595.6 324.4,596.4 324.6,596.7 324.7,596.1 324.8,593.8 324.9,598.1 325,599 325.2,594.9 325.3,600.3 325.4,598.4 325.5,599.8 325.6,594.3 325.8,597.5 325.9,594.7 326,595.8 326.1,600.1 326.2,597.6 326.3,600.1 326.5,602.2 326.6,597.3 326.7,600.2 326.8,597.7 326.9,598 327.1,593.3 327.2,598.4 327.3,599 327.4,597.8 327.5,600.4 327.7,597 327.8,596 327.9,598.9 328,600.7 328.1,599.5 328.3,595.3 328.4,599.4 328.5,597.6 328.6,599.6 328.7,599.7 328.8,595.6 329,602.3 329.1,593.8 329.2,596.8 329.3,595.4 329.4,599.1 329.6,600.6 329.7,603.8 329.8,599.2 329.9,595.8 330,596.9 330.2,596.6 330.3,600.1 330.4,599.2 330.5,594.7 330.6,601.1 330.7,600.7 330.9,593.2 331,595.7 331.1,594.9 331.2,598.3 331.3,600.2 331.5,597.9 331.6,596.6 331.7,594.1 331.8,592.9 331.9,598.4 332.1,595.8 332.2,599.2 332.3,598.7 332.4,598.4 332.5,600.6 332.7,600.3 332.8,591.1 332.9,600 333,592.9 333.1,598.9 333.2,596.2 333.4,601.3 333.5,592 333.6,595.8 333.7,601 333.8,597.3 334,595.3 334.1,601 334.2,593.6 334.3,598.1 334.4,597.4 334.6,601.4 334.7,598.2 334.8,594.2 334.9,597.3 335,598.9 335.1,600.1 335.3,599.2 335.4,594.5 335.5,597.9 335.6,600.2 335.7,594.4 335.9,597.4 336,592.9 336.1,592.7 336.2,596.6 336.3,600.2 336.5,599 336.6,594.9 336.7,595.3 336.8,597.7 336.9,595.4 337.1,597.2 337.2,601.9 337.3,595.9 337.4,597.8 337.5,597.3 337.6,598.7 337.8,592.7 337.9,597 338,600.5 338.1,597.8 338.2,592.3 338.4,598.4 338.5,599.8 338.6,597 338.7,596.2 338.8,596.3 339,598.8 339.1,597.9 339.2,598.1 339.3,595.3 339.4,597.7 339.5,595.8 339.7,590.9 339.8,596.6 339.9,596.7 340,596.9 340.1,600 340.3,594.7 340.4,599 340.5,592.4 340.6,598.6 340.7,592.8 340.9,598.3 341,594.8 341.1,597.7 341.2,593.1 341.3,591.9 341.4,597.1 341.6,597.4 341.7,597.8 341.8,597.3 341.9,596.8 342,595.9 342.2,595.3 342.3,598.1 342.4,596.8 342.5,597.6 342.6,598.6 342.8,593.9 342.9,598.3 343,597.6 343.1,597.5 343.2,597.7 343.4,598.9 343.5,597.4 343.6,591.2 343.7,599.2 343.8,599.4 343.9,595.2 344.1,601.4 344.2,596.4 344.3,599.7 344.4,600.3 344.5,601.8 344.7,595.7 344.8,600.7 344.9,597.1 345,598.6 345.1,595.3 345.3,598.7 345.4,592.6 345.5,595.2 345.6,593.5 345.7,600.8 345.8,596.3 346,594.1 346.1,595.5 346.2,601 346.3,601.3 346.4,599.6 346.6,599.5 346.7,595.2 346.8,596.6 346.9,601.9 347,596.5 347.2,596.3 347.3,595.9 347.4,598.5 347.5,600.1 347.6,600.8 347.8,596.7 347.9,601.9 348,600.3 348.1,594.8 348.2,594.6 348.3,595.8 348.5,599.1 348.6,593.9 348.7,602.5 348.8,600.6 348.9,598.3 349.1,596.1 349.2,601.5 349.3,595.4 349.4,598.2 349.5,598.1 349.7,599.1 349.8,594.2 349.9,599.8 350,601.8 350.1,596.5 350.2,595.8 350.4,596.9 350.5,603.8 350.6,596.1 350.7,598.8 350.8,600.4 351,595.7 351.1,593.8 351.2,600.4 351.3,597.6 351.4,599.8 351.6,597.2 351.7,597.8 351.8,595.6 351.9,598.7 352,601.5 352.2,596.3 352.3,596.7 352.4,594.1 352.5,600.6 352.6,597.3 352.7,592.7 352.9,598 353,595.1 353.1,596.4 353.2,595.8 353.3,599.3 353.5,600.4 353.6,601.3 353.7,599.6 353.8,596.1 353.9,594.1 354.1,599.1 354.2,596.8 354.3,595.2 354.4,601.9 354.5,598.1 354.6,594.1 354.8,596.3 354.9,597.3 355,596.7 355.1,597.7 355.2,594.1 355.4,596.2 355.5,597.9 355.6,594.4 355.7,594.1 355.8,596.4 356,595.8 356.1,598.3 356.2,598.5 356.3,595.7 356.4,594.8 356.6,600.8 356.7,596.8 356.8,598.6 356.9,599.3 357,600.5 357.1,600.7 357.3,600.2 357.4,597 357.5,596.4 357.6,595.3 357.7,599 357.9,600.4 358,598.1 358.1,590.9 358.2,598.5 358.3,600.4 358.5,601.5 358.6,596.9 358.7,593.8 358.8,598.4 358.9,593.2 359,599.2 359.2,599.9 359.3,598.3 359.4,594.2 359.5,598.5 359.6,598.8 359.8,597.5 359.9,593.9 360,596.2 360.1,596.5 360.2,602.2 360.4,598.1 360.5,596.4 360.6,595.4 360.7,595.2 360.8,600.9 361,594.2 361.1,599.5 361.2,593.7 361.3,602.9 361.4,595.4 361.5,597 361.7,591.2 361.8,597.4 361.9,603.4 362,595.8 362.1,598.5 362.3,599.2 362.4,593.4 362.5,595.1 362.6,596.5 362.7,596.9 362.9,595.9 363,592 363.1,590.9 363.2,598.1 363.3,600.2 363.4,601.9 363.6,600.1 363.7,596.8 363.8,600.4 363.9,597.6 364,598 364.2,591.8 364.3,597.3 364.4,595.9 364.5,594.6 364.6,602.6 364.8,594.5 364.9,596.7 365,595.6 365.1,597.9 365.2,567.2 365.4,597.9 365.5,596.4 365.6,592.6 365.7,593.4 365.8,600.6 365.9,598.8 366.1,597.3 366.2,598 366.3,597.2 366.4,594.7 366.5,595.3 366.7,595.5 366.8,594.6 366.9,600.3 367,598.6 367.1,593.8 367.3,599.9 367.4,600.7 367.5,598.5 367.6,600.4 367.7,598.4 367.8,594 368,597 368.1,597.2 368.2,600 368.3,601 368.4,594.1 368.6,602.6 368.7,600.3 368.8,592.9 368.9,597.4 369,600.6 369.2,593.8 369.3,598.3 369.4,597.1 369.5,594.3 369.6,598.8 369.8,602.6 369.9,597.2 370,593.3 370.1,596.2 370.2,596.1 370.3,599.5 370.5,596.5 370.6,592.7 370.7,593.8 370.8,597.6 370.9,594.1 371.1,597.9 371.2,593.2 371.3,600.9 371.4,596.9 371.5,603.5 371.7,598.1 371.8,590.9 371.9,597.9 372,593.1 372.1,595.8 372.2,593 372.4,598.6 372.5,598.6 372.6,597.5 372.7,597 372.8,597.2 373,595.9 373.1,599.5 373.2,595.6 373.3,593.7 373.4,599.6 373.6,600 373.7,595 373.8,596.8 373.9,594.9 374,600.1 374.2,598.4 374.3,596 374.4,599 374.5,596.5 374.6,597.1 374.7,599.5 374.9,598.1 375,599.8 375.1,600.6 375.2,599.1 375.3,593.1 375.5,597.5 375.6,596.4 375.7,598.8 375.8,598.5 375.9,597.3 376.1,602.3 376.2,601.4 376.3,600.3 376.4,593.9 376.5,595.5 376.6,600.8 376.8,599.3 376.9,595.6 377,598.2 377.1,592.5 377.2,596.1 377.4,598.1 377.5,596.4 377.6,594.7 377.7,596.3 377.8,598.5 378,594.4 378.1,594.4 378.2,596.6 378.3,594.4 378.4,594.4 378.6,595.2 378.7,600.8 378.8,601.8 378.9,596.8 379,595.3 379.1,597.4 379.3,599.7 379.4,596.3 379.5,599.9 379.6,599.4 379.7,597.3 379.9,595.4 380,595.4 380.1,598 380.2,597.4 380.3,593.2 380.5,602.2 380.6,596.6 380.7,595.6 380.8,594.6 380.9,597 381,598.3 381.2,593.3 381.3,598 381.4,597.1 381.5,592.3 381.6,596.3 381.8,597.9 381.9,598.6 382,595 382.1,602.9 382.2,598.7 382.4,597.2 382.5,596.7 382.6,602.8 382.7,598.5 382.8,596.2 383,600.1 383.1,599.6 383.2,601.7 383.3,593.9 383.4,593.7 383.5,593.7 383.7,599.2 383.8,597.1 383.9,595.8 384,593.6 384.1,599.6 384.3,594.7 384.4,596.1 384.5,594.7 384.6,594.9 384.7,598.5 384.9,596.2 385,598.5 385.1,601 385.2,596.6 385.3,601.8 385.4,593.3 385.6,595.3 385.7,598.3 385.8,595.6 385.9,598.2 386,596.7 386.2,600 386.3,594.5 386.4,600.4 386.5,599.5 386.6,590.9 386.8,595.2 386.9,599.4 387,595.1 387.1,600.7 387.2,597.6 387.4,599.6 387.5,599.1 387.6,597.3 387.7,595.7 387.8,594.4 387.9,597.8 388.1,601.9 388.2,596.5 388.3,596.9 388.4,593.7 388.5,596.2 388.7,591.9 388.8,594.3 388.9,597.7 389,595.9 389.1,597.1 389.3,592 389.4,599.9 389.5,597.7 389.6,595.4 389.7,600.1 389.8,594.6 390,601.6 390.1,594 390.2,596.2 390.3,597.7 390.4,597.3 390.6,600.4 390.7,594.8 390.8,595.1 390.9,600.3 391,596.2 391.2,597.4 391.3,597.2 391.4,600.6 391.5,592.4 391.6,594.3 391.8,598.6 391.9,597 392,592 392.1,597.1 392.2,597.5 392.3,595.8 392.5,595.2 392.6,597.4 392.7,596.9 392.8,594.4 392.9,598.5 393.1,598.9 393.2,597.2 393.3,602.7 393.4,600.2 393.5,596.3 393.7,599.7 393.8,596.6 393.9,598.3 394,597.5 394.1,601.7 394.2,601.8 394.4,602 394.5,594.2 394.6,598.5 394.7,597 394.8,595.4 395,595.1 395.1,599.1 395.2,601.9 395.3,599.5 395.4,598.1 395.6,598.7 395.7,597.9 395.8,602.9 395.9,599.4 396,600.8 396.2,594.7 396.3,600.3 396.4,602.7 396.5,596.6 396.6,594 396.7,595.2 396.9,595.4 397,595.9 397.1,597.4 397.2,597.9 397.3,600.4 397.5,596.7 397.6,594.5 397.7,594.9 397.8,600.9 397.9,594.5 398.1,598 398.2,596.3 398.3,595.5 398.4,600 398.5,598.1 398.6,595.8 398.8,600.2 398.9,599 399,596.7 399.1,602.8 399.2,601.9 399.4,599.1 399.5,601.4 399.6,599.6 399.7,594.2 399.8,596.6 400,595.2 400.1,600.4 400.2,595.4 400.3,597.9 400.4,594.2 400.6,599 400.7,596.7 400.8,596.2 400.9,592.6 401,596.1 401.1,599.8 401.3,596.8 401.4,592.3 401.5,599.4 401.6,601.6 401.7,599.1 401.9,595.2 402,602 402.1,600.3 402.2,591.3 402.3,598.3 402.5,598.1 402.6,596.9 402.7,597 402.8,599.3 402.9,598.3 403,602 403.2,596.2 403.3,597 403.4,591.8 403.5,599.4 403.6,598.9 403.8,599.4 403.9,598.4 404,595.8 404.1,594.7 404.2,598.6 404.4,597.9 404.5,599.4 404.6,595 404.7,600.4 404.8,599.7 405,597.8 405.1,597.3 405.2,601.1 405.3,599.1 405.4,598.3 405.5,596.1 405.7,599.5 405.8,599.3 405.9,592.5 406,595 406.1,592 406.3,592.9 406.4,595.8 406.5,594.9 406.6,602.3 406.7,600.9 406.9,598.4 407,595.2 407.1,597.2 407.2,599.3 407.3,600.9 407.4,594 407.6,600.6 407.7,597.2 407.8,597.4 407.9,598.5 408,597.2 408.2,597 408.3,593.4 408.4,600.1 408.5,598.4 408.6,600.4 408.8,594 408.9,595.6 409,596.8 409.1,597.2 409.2,598.1 409.4,596.5 409.5,595.1 409.6,595.5 409.7,597.4 409.8,595.1 409.9,597.6 410.1,603.7 410.2,594.4 410.3,598.6 410.4,599 410.5,596 410.7,597.5 410.8,598.3 410.9,597.7 411,595.6 411.1,597.3 411.3,597.8 411.4,600.5 411.5,594.8 411.6,600.5 411.7,599.4 411.8,596.2 412,598.5 412.1,596.4 412.2,600.5 412.3,597.8 412.4,595.5 412.6,594.1 412.7,598.3 412.8,596.8" fill="none" stroke="#000" stroke-width="3.6" stroke-linejoin="round" stroke-linecap="round" clip-path="url(#c0)"/>
<path d="M174.7 427.5v10.4M174.7 624.3v-10.4M269.8 427.5v10.4M269.8 624.3v-10.4M364.9 427.5v10.4M364.9 624.3v-10.4M127.4 448.5h10.4M412.8 448.5h-10.4M127.4 536.4h10.4M412.8 536.4h-10.4M127.4 624.3h10.4M412.8 624.3h-10.4" fill="none" stroke="#000" stroke-width="2.9"/>
<rect x="127.4" y="427.5" width="285.4" height="196.8" fill="none" stroke="#000" stroke-width="3.0"/>
<text x="174.4" y="662.2" font-size="32.4" text-anchor="middle" font-family='"DejaVu Sans","Liberation Sans",sans-serif'>−50</text>
<text x="269.5" y="662.2" font-size="32.4" text-anchor="middle" font-family='"DejaVu Sans","Liberation Sans",sans-serif'>0</text>
<text x="364.6" y="662.2" font-size="32.4" text-anchor="middle" font-family='"DejaVu Sans","Liberation Sans",sans-serif'>50</text>
<clipPath id="c1"><rect x="451.4" y="427.5" width="285.4" height="196.8"/></clipPath>
<polyline points="451.4,602.2 451.5,605.6 451.6,598.3 451.7,597.9 451.8,600.8 451.9,599 452.1,595.2 452.2,597 452.3,598 452.4,598.1 452.5,602.4 452.7,597.3 452.8,604.6 452.9,600.9 453,601.2 453.1,604.8 453.3,600.3 453.4,595.4 453.5,600.9 453.6,603.3 453.7,600.2 453.8,597.6 454,599.4 454.1,600 454.2,603.9 454.3,598.6 454.4,598.6 454.6,596.2 454.7,595.8 454.8,598.1 454.9,604.5 455,604 455.2,603 455.3,599.2 455.4,602.2 455.5,596.3 455.6,599.3 455.7,599 455.9,597.9 456,599 456.1,603.9 456.2,593.3 456.3,595.9 456.5,595.7 456.6,602.1 456.7,605.1 456.8,604.2 456.9,602.9 457.1,597.5 457.2,597.5 457.3,595.9 457.4,594 457.5,598.5 457.7,599 457.8,601 457.9,600.9 458,603.2 458.1,598.6 458.2,599.1 458.4,601.1 458.5,602.2 458.6,598.7 458.7,596.3 458.8,599.8 459,599.2 459.1,601.5 459.2,600.7 459.3,600.9 459.4,600.8 459.6,601.6 459.7,598.9 459.8,596.4 459.9,602.6 460,596.1 460.1,601.1 460.3,601 460.4,606 460.5,606.7 460.6,597.9 460.7,603 460.9,597.7 461,599.8 461.1,599.3 461.2,596.3 461.3,600.2 461.5,606.7 461.6,604.8 461.7,597.3 461.8,594.4 461.9,600.2 462.1,601.9 462.2,603.9 462.3,598.5 462.4,605 462.5,603.4 462.6,599.6 462.8,599.7 462.9,600.7 463,597 463.1,603.4 463.2,603.3 463.4,601.1 463.5,599.8 463.6,600.9 463.7,594.4 463.8,601.7 464,598.2 464.1,601.6 464.2,599.1 464.3,601.2 464.4,601.1 464.5,595.5 464.7,600.9 464.8,595.2 464.9,602 465,601.3 465.1,596.9 465.3,606.7 465.4,604.6 465.5,599.9 465.6,598.6 465.7,598.4 465.9,600.9 466,604 466.1,597.7 466.2,598.7 466.3,603.2 466.5,599.7 466.6,594.9 466.7,599.6 466.8,603.3 466.9,601.2 467,601 467.2,599 467.3,597.4 467.4,602.6 467.5,601.8 467.6,597.1 467.8,597.9 467.9,596.2 468,604.1 468.1,602.7 468.2,597.1 468.4,602.7 468.5,599.1 468.6,600.1 468.7,602.1 468.8,595.8 468.9,600 469.1,601.4 469.2,600.4 469.3,599.3 469.4,604.4 469.5,602.4 469.7,603.6 469.8,605.9 469.9,597.2 470,595.9 470.1,596.6 470.3,605 470.4,598.9 470.5,598.1 470.6,601.6 470.7,597.7 470.9,603.1 471,603 471.1,602.3 471.2,602 471.3,602.8 471.4,597.3 471.6,603 471.7,601.3 471.8,601.8 471.9,593.8 472,602.5 472.2,598.7 472.3,594.9 472.4,603.3 472.5,602.3 472.6,600.9 472.8,603.7 472.9,596.5 473,601.3 473.1,597 473.2,598.5 473.3,599.9 473.5,597.3 473.6,600.8 473.7,597 473.8,603.7 473.9,602.1 474.1,596.6 474.2,605.9 474.3,598.7 474.4,601.1 474.5,601.5 474.7,601.9 474.8,596.4 474.9,604.3 475,597.7 475.1,598.6 475.3,601.2 475.4,600.2 475.5,598 475.6,601.6 475.7,604.2 475.8,599.2 476,602.3 476.1,601.1 476.2,599.8 476.3,597.9 476.4,594.9 476.6,599 476.7,599.7 476.8,597.7 476.9,599.2 477,604.7 477.2,601.7 477.3,603.4 477.4,598 477.5,596.4 477.6,599 477.7,602.8 477.9,597.7 478,602.7 478.1,599.3 478.2,603.3 478.3,603.8 478.5,603.9 478.6,599.9 478.7,601.8 478.8,598.8 478.9,603.6 479.1,598.6 479.2,601.7 479.3,596.5 479.4,597.1 479.5,600.6 479.7,599.7 479.8,599.3 479.9,598.7 480,600.7 480.1,596.9 480.2,601.4 480.4,605.3 480.5,599.3 480.6,600.3 480.7,597.7 480.8,598.3 481,599.6 481.1,599.7 481.2,599.6 481.3,601.8 481.4,603.4 481.6,602.3 481.7,600.2 481.8,606.3 481.9,601.2 482,602.7 482.1,600.2 482.3,602.2 482.4,599.8 482.5,600.6 482.6,596.4 482.7,600.9 482.9,600.7 483,599.9 483.1,605 483.2,603 483.3,596 483.5,598.5 483.6,599.7 483.7,597 483.8,600.5 483.9,600.7 484.1,600.8 484.2,604.9 484.3,597.4 484.4,600.5 484.5,600.2 484.6,600.9 484.8,601.7 484.9,606.3 485,599.6 485.1,593.9 485.2,597.2 485.4,600.8 485.5,602.5 485.6,599.9 485.7,598.9 485.8,600.3 486,597.7 486.1,602.6 486.2,597 486.3,599.5 486.4,601.5 486.5,600.8 486.7,599 486.8,597.9 486.9,599.8 487,598.4 487.1,593.3 487.3,604.5 487.4,605.6 487.5,599.7 487.6,602.7 487.7,599.7 487.9,604.5 488,599.6 488.1,596.3 488.2,596.9 488.3,603 488.5,600.8 488.6,597.5 488.7,594.9 488.8,602.6 488.9,602.4 489,596.9 489.2,601 489.3,602.8 489.4,597 489.5,604.7 489.6,601.9 489.8,597.3 489.9,601.7 490,597.8 490.1,603.4 490.2,597.8 490.4,598.7 490.5,595.5 490.6,600.7 490.7,601 490.8,600.2 490.9,597.1 491.1,602 491.2,600.4 491.3,594.5 491.4,597.8 491.5,598 491.7,601.4 491.8,597.6 491.9,603.2 492,604.1 492.1,602.6 492.3,596 492.4,599.5 492.5,602.6 492.6,601 492.7,598.7 492.9,596.7 493,604.5 493.1,596.3 493.2,597.4 493.3,601.9 493.4,601.1 493.6,598.6 493.7,600.8 493.8,599.6 493.9,602.9 494,605 494.2,593.3 494.3,599.5 494.4,599.3 494.5,598.6 494.6,596.3 494.8,597.4 494.9,602.8 495,600.3 495.1,599.8 495.2,597.9 495.3,601.6 495.5,598.9 495.6,599.3 495.7,596.1 495.8,606.7 495.9,599.8 496.1,599 496.2,598.1 496.3,600 496.4,602.3 496.5,598.1 496.7,598.9 496.8,602.3 496.9,603.8 497,598.4 497.1,602.4 497.3,598.2 497.4,595.8 497.5,599.4 497.6,599.3 497.7,599.6 497.8,596.1 498,596.1 498.1,599.7 498.2,597.9 498.3,599.8 498.4,601.4 498.6,597.8 498.7,600.2 498.8,602.3 498.9,503.3 499,597.2 499.2,602.7 499.3,603.1 499.4,600.7 499.5,597.9 499.6,604.8 499.7,598.2 499.9,598.9 500,603.4 500.1,603.1 500.2,600.5 500.3,594.6 500.5,600.7 500.6,597 500.7,597.3 500.8,604.4 500.9,600 501.1,597.2 501.2,601.4 501.3,596.6 501.4,603 501.5,604.1 501.7,601.2 501.8,598.1 501.9,601 502,597.4 502.1,604.3 502.2,601.6 502.4,596.2 502.5,606.7 502.6,599.1 502.7,602.4 502.8,602 503,600.9 503.1,604.1 503.2,597.4 503.3,598.3 503.4,596.6 503.6,599.5 503.7,602.6 503.8,598.2 503.9,603.7 504,602.5 504.1,594.1 504.3,597 504.4,598.7 504.5,595.8 504.6,600.8 504.7,598.3 504.9,602.2 505,600.9 505.1,599.7 505.2,595.8 505.3,601.9 505.5,597 505.6,600 505.7,604.8 505.8,605.3 505.9,601.9 506.1,596.9 506.2,599.2 506.3,594.9 506.4,599.4 506.5,596 506.6,599.2 506.8,602.5 506.9,597.9 507,602 507.1,603.9 507.2,602 507.4,601 507.5,599.2 507.6,597.6 507.7,598.2 507.8,594.1 508,605.4 508.1,600.4 508.2,593.3 508.3,600.8 508.4,603.4 508.5,602 508.7,602.6 508.8,601.3 508.9,595.1 509,603.8 509.1,601.9 509.3,596 509.4,599.1 509.5,599 509.6,601 509.7,597.3 509.9,602.8 510,597.2 510.1,599.6 510.2,600.4 510.3,601.4 510.5,597.2 510.6,599 510.7,601 510.8,599.6 510.9,602.8 511,596.3 511.2,596 511.3,596.7 511.4,599.1 511.5,598.5 511.6,603.7 511.8,600.9 511.9,600.6 512,600.3 512.1,598.1 512.2,601.1 512.4,601.9 512.5,596.5 512.6,600.7 512.7,601.7 512.8,605.5 512.9,603.7 513.1,600.5 513.2,599.1 513.3,604.9 513.4,599.9 513.5,599 513.7,601.3 513.8,599.8 513.9,596 514,602 514.1,604.6 514.3,601 514.4,602.4 514.5,600.1 514.6,598 514.7,597.4 514.9,599 515,596 515.1,598.9 515.2,597.1 515.3,598.9 515.4,599.2 515.6,601.3 515.7,599.9 515.8,601.5 515.9,600.8 516,599.7 516.2,596.7 516.3,600.6 516.4,598.2 516.5,603.4 516.6,600.7 516.8,596.4 516.9,599 517,605 517.1,600 517.2,600.6 517.3,603.2 517.5,604.8 517.6,602.6 517.7,602.9 517.8,597.9 517.9,598.3 518.1,598.2 518.2,596.9 518.3,606 518.4,600.7 518.5,599 518.7,601.8 518.8,601.7 518.9,602.2 519,599.5 519.1,600.1 519.3,596.5 519.4,598.8 519.5,599.3 519.6,600 519.7,602.1 519.8,599.6 520,597.6 520.1,598.6 520.2,602.9 520.3,604.1 520.4,598 520.6,599.4 520.7,599.1 520.8,602.3 520.9,597.8 521,597.9 521.2,600.6 521.3,598.3 521.4,602.5 521.5,600.1 521.6,605.5 521.7,600.7 521.9,593.3 522,597.9 522.1,595.1 522.2,598.3 522.3,599.2 522.5,599.2 522.6,601 522.7,597.8 522.8,601.9 522.9,599.7 523.1,593.3 523.2,598.4 523.3,601.1 523.4,596.8 523.5,598.6 523.7,600.5 523.8,602.9 523.9,600.3 524,601 524.1,599.7 524.2,598.7 524.4,599 524.5,602.4 524.6,598.4 524.7,598.7 524.8,603.9 525,598.9 525.1,600.1 525.2,598.8 525.3,602.9 525.4,600.8 525.6,600.5 525.7,603.3 525.8,598.5 525.9,600.7 526,598.8 526.1,602.7 526.3,603.8 526.4,603.1 526.5,606 526.6,602.1 526.7,598.8 526.9,595.8 527,596.6 527.1,596.2 527.2,596.2 527.3,593.8 527.5,599.3 527.6,597.2 527.7,598 527.8,606.6 527.9,599.4 528.1,599.6 528.2,598.7 528.3,601.3 528.4,601.9 528.5,601.3 528.6,597.7 528.8,598.5 528.9,595.6 529,603.4 529.1,596.6 529.2,594.4 529.4,602.4 529.5,599.6 529.6,604.4 529.7,606.6 529.8,603.8 530,599.8 530.1,599.3 530.2,601.1 530.3,598.1 530.4,599 530.5,594.6 530.7,604 530.8,602.5 530.9,601.7 531,601.8 531.1,601.4 531.3,593.3 531.4,601 531.5,598.1 531.6,604.1 531.7,602 531.9,597.5 532,597.1 532.1,604.6 532.2,593.9 532.3,598.7 532.5,602.2 532.6,598.6 532.7,601.8 532.8,604.2 532.9,599.4 533,597.6 533.2,596.9 533.3,604.8 533.4,602.7 533.5,600.5 533.6,596.9 533.8,596.2 533.9,601.1 534,603.5 534.1,598.3 534.2,601.4 534.4,598.7 534.5,596.9 534.6,598.2 534.7,602.9 534.8,603.6 534.9,604.3 535.1,597.8 535.2,596.7 535.3,603 535.4,601.6 535.5,602.8 535.7,600.4 535.8,602.5 535.9,602.5 536,596.4 536.1,597.4 536.3,600 536.4,596.7 536.5,601.8 536.6,598.7 536.7,602.8 536.9,602.3 537,597.3 537.1,603.6 537.2,601.3 537.3,603.6 537.4,603.8 537.6,600.1 537.7,600 537.8,604.6 537.9,593.9 538,595.8 538.2,602.9 538.3,599.1 538.4,599.8 538.5,602.1 538.6,604 538.8,600.2 538.9,600.8 539,596.8 539.1,599.8 539.2,603.2 539.3,602.3 539.5,600.3 539.6,597.5 539.7,603.7 539.8,599.5 539.9,596.5 540.1,604.5 540.2,596.1 540.3,601.8 540.4,600.4 540.5,601.8 540.7,599.1 540.8,598.8 540.9,598.7 541,593.3 541.1,606.6 541.3,601.7 541.4,604 541.5,600.8 541.6,602.2 541.7,600.9 541.8,600.3 542,601.9 542.1,597.5 542.2,604.4 542.3,601.7 542.4,600.1 542.6,596.2 542.7,604 542.8,603.7 542.9,598.6 543,599.9 543.2,604.3 543.3,596.8 543.4,599.3 543.5,601 543.6,601 543.7,599.8 543.9,601.1 544,599.1 544.1,599.1 544.2,603.2 544.3,604.6 544.5,595.5 544.6,601.6 544.7,595.1 544.8,599.6 544.9,606.6 545.1,599.3 545.2,602.5 545.3,606.5 545.4,600.1 545.5,603.3 545.7,600.7 545.8,596.8 545.9,597.8 546,599.9 546.1,599.9 546.2,599.9 546.4,602 546.5,603 546.6,601.4 546.7,599.8 546.8,602.5 547,600.9 547.1,600.2 547.2,602.9 547.3,597.2 547.4,596.6 547.6,599.7 547.7,602.9 547.8,605.8 547.9,606.6 548,596.9 548.1,599.6 548.3,601.9 548.4,604.5 548.5,600.7 548.6,597.6 548.7,599.3 548.9,603.2 549,593.3 549.1,598.7 549.2,603.8 549.3,599.1 549.5,599.1 549.6,598.1 549.7,599.2 549.8,603.7 549.9,599.1 550.1,602.5 550.2,599.8 550.3,600.3 550.4,598.3 550.5,599.5 550.6,601.1 550.8,593.3 550.9,601.1 551,601.2 551.1,598.8 551.2,598.7 551.4,597.3 551.5,604.3 551.6,601.7 551.7,597 551.8,599.4 552,599.3 552.1,604.2 552.2,604.2 552.3,602.5 552.4,599.5 552.5,597.9 552.7,597.6 552.8,605.5 552.9,600.4 553,599.9 553.1,601.3 553.3,601.3 553.4,603.2 553.5,601.2 553.6,606.6 553.7,596.5 553.9,599.6 554,596 554.1,602.5 554.2,605.1 554.3,595.1 554.5,606.4 554.6,603.7 554.7,598 554.8,596.2 554.9,602.2 555,600.8 555.2,600.9 555.3,598.7 555.4,602.7 555.5,598.5 555.6,597.6 555.8,600.5 555.9,599.9 556,593.6 556.1,599.3 556.2,601.3 556.4,597 556.5,596.7 556.6,602.1 556.7,602.9 556.8,596 556.9,596.6 557.1,596.3 557.2,595.4 557.3,603.3 557.4,604.7 557.5,597.2 557.7,597.4 557.8,599.6 557.9,598 558,602.2 558.1,602.9 558.3,600.3 558.4,598.8 558.5,598.3 558.6,600.4 558.7,598.3 558.9,596.6 559,598.7 559.1,601.4 559.2,595.3 559.3,603.3 559.4,599.5 559.6,594.7 559.7,593.2 559.8,595.5 559.9,601.2 560,605 560.2,601.4 560.3,600.1 560.4,599.7 560.5,602.8 560.6,601.4 560.8,599.4 560.9,599.8 561,596.3 561.1,598.3 561.2,598.3 561.3,601.4 561.5,599.7 561.6,605.4 561.7,601.1 561.8,604.4 561.9,599.5 562.1,598.4 562.2,599.6 562.3,595.7 562.4,601.8 562.5,600.2 562.7,601.5 562.8,600.8 562.9,596.2 563,603.8 563.1,595.3 563.3,596.1 563.4,598.3 563.5,600.9 563.6,599.2 563.7,601 563.8,595.8 564,603.1 564.1,602.6 564.2,599.8 564.3,606.6 564.4,595.8 564.6,600.8 564.7,597.8 564.8,599.4 564.9,604.8 565,599.8 565.2,598.7 565.3,603.2 565.4,602.7 565.5,602.9 565.6,597.7 565.7,603.4 565.9,602.5 566,600.2 566.1,599.6 566.2,601.6 566.3,595.5 566.5,595.4 566.6,603.5 566.7,594.9 566.8,598.6 566.9,598.1 567.1,597.7 567.2,603.8 567.3,603.5 567.4,598.6 567.5,601.9 567.7,593.2 567.8,601.2 567.9,597.3 568,602.6 568.1,593.9 568.2,594.7 568.4,604.1 568.5,598.9 568.6,599.6 568.7,595.6 568.8,606.6 569,600.8 569.1,597.5 569.2,601 569.3,601.8 569.4,604.2 569.6,599.1 569.7,600.7 569.8,604.2 569.9,599.8 570,602.2 570.1,599.4 570.3,598.1 570.4,597 570.5,599.1 570.6,603 570.7,600.7 570.9,601.2 571,597.2 571.1,602.1 571.2,595.8 571.3,600.2 571.5,598.2 571.6,601.4 571.7,596.6 571.8,601.8 571.9,595.5 572.1,598.9 572.2,597.9 572.3,598.5 572.4,602.3 572.5,596.1 572.6,604.4 572.8,599.8 572.9,597.8 573,597.2 573.1,601.8 573.2,601.4 573.4,600.7 573.5,602.9 573.6,600.8 573.7,602.6 573.8,598.7 574,600.7 574.1,602.4 574.2,602.2 574.3,599.7 574.4,602.4 574.5,604 574.7,603.2 574.8,599.5 574.9,605.2 575,599.9 575.1,597.8 575.3,601.9 575.4,601 575.5,604.3 575.6,602.9 575.7,601.8 575.9,599.2 576,601.2 576.1,603.3 576.2,601.7 576.3,603.6 576.5,595.3 576.6,601.9 576.7,595.8 576.8,604.6 576.9,602.9 577,596.1 577.2,600.9 577.3,594.1 577.4,597.8 577.5,596.1 577.6,604.4 577.8,599.5 577.9,601 578,595.5 578.1,601.3 578.2,600 578.4,602.3 578.5,604.7 578.6,598.4 578.7,601.1 578.8,599.1 578.9,602.9 579.1,600.3 579.2,602.5 579.3,601.6 579.4,599.7 579.5,601.7 579.7,598.6 579.8,603.4 579.9,601.3 580,596.4 580.1,602.2 580.3,605.1 580.4,596.6 580.5,600.5 580.6,603 580.7,603.4 580.9,598.5 581,603.3 581.1,604.9 581.2,598.4 581.3,599.5 581.4,598.4 581.6,601.6 581.7,599 581.8,602.8 581.9,601.1 582,599.6 582.2,599.3 582.3,596.9 582.4,597.7 582.5,602.4 582.6,601.4 582.8,597.7 582.9,596.1 583,598.2 583.1,600.7 583.2,598.9 583.3,596.3 583.5,595.7 583.6,601.1 583.7,602.2 583.8,599.3 583.9,601.1 584.1,599.4 584.2,601.9 584.3,598.5 584.4,597.9 584.5,595.3 584.7,595.8 584.8,598.7 584.9,601.8 585,596.9 585.1,601.1 585.3,603.3 585.4,600.1 585.5,603.1 585.6,594.2 585.7,596.4 585.8,595.6 586,600.6 586.1,599.8 586.2,598.9 586.3,600.6 586.4,599.4 586.6,598.2 586.7,601.4 586.8,599.5 586.9,595.8 587,598.9 587.2,604.2 587.3,601.9 587.4,601.2 587.5,600.5 587.6,598.7 587.7,601.7 587.9,594.8 588,599.7 588.1,597.7 588.2,601.5 588.3,604.8 588.5,597.7 588.6,596.7 588.7,596.1 588.8,599.2 588.9,598.3 589.1,601.1 589.2,603.2 589.3,598.5 589.4,597.3 589.5,597.3 589.7,596.2 589.8,595.8" fill="none" stroke="#000" stroke-width="3.6" stroke-linejoin="round" stroke-linecap="round" clip-path="url(#c1)"/>
<polyline points="598.3,599.3 598.4,596.5 598.6,599 598.7,599.2 598.8,595.1 598.9,599.4 599,600.8 599.2,597.1 599.3,601.2 599.4,595.5 599.5,598.4 599.6,595.9 599.8,598.7 599.9,601.6 600,605.5 600.1,601.4 600.2,595.7 600.4,600.3 600.5,596.5 600.6,596 600.7,603.7 600.8,600.2 600.9,599.5 601.1,595.1 601.2,594.7 601.3,601.2 601.4,597.3 601.5,598.3 601.7,602.3 601.8,596.2 601.9,594.5 602,602.2 602.1,597.5 602.3,601.2 602.4,596.4 602.5,596.3 602.6,600.3 602.7,599.9 602.8,594.9 603,600 603.1,596.4 603.2,604.3 603.3,603.6 603.4,596.5 603.6,598.8 603.7,600.4 603.8,602.7 603.9,599 604,603.4 604.2,600.1 604.3,597.9 604.4,600.5 604.5,604.2 604.6,604.5 604.8,601.1 604.9,606.1 605,597.7 605.1,601.9 605.2,601.6 605.3,600.9 605.5,602.1 605.6,596.2 605.7,601.8 605.8,603.3 605.9,597 606.1,601.9 606.2,595.8 606.3,597.9 606.4,601.2 606.5,599.7 606.7,602.8 606.8,603.1 606.9,596.8 607,600.9 607.1,600.4 607.2,601.3 607.4,599.6 607.5,600.7 607.6,599.7 607.7,599.7 607.8,596.1 608,601.2 608.1,600.1 608.2,599.5 608.3,602.4 608.4,598.4 608.6,600.1 608.7,601.4 608.8,602 608.9,600.1 609,599.2 609.2,598.7 609.3,597.8 609.4,600.7 609.5,596.1 609.6,599.5 609.7,596.8 609.9,600.7 610,596.7 610.1,599.6 610.2,601.7 610.3,600.9 610.5,599.1 610.6,604.3 610.7,599.1 610.8,605.2 610.9,599.2 611.1,602.1 611.2,603.2 611.3,601.3 611.4,596.2 611.5,595.1 611.6,600.8 611.8,595.8 611.9,598.9 612,595 612.1,599.5 612.2,597.7 612.4,602.5 612.5,596.3 612.6,597.3 612.7,596.4 612.8,595.2 613,600.5 613.1,598.4 613.2,604.8 613.3,602.1 613.4,603 613.6,597.3 613.7,598 613.8,598.5 613.9,599.1 614,593.9 614.1,597.1 614.3,601 614.4,594.7 614.5,594.7 614.6,597.1 614.7,605.7 614.9,602.1 615,598.2 615.1,600.4 615.2,604 615.3,599.1 615.5,601.6 615.6,598.7 615.7,598.7 615.8,595.4 615.9,602 616,596.5 616.2,602.2 616.3,596.6 616.4,598.1 616.5,598.3 616.6,599.1 616.8,601.4 616.9,598.4 617,598 617.1,596.1 617.2,598.5 617.4,598.3 617.5,602.6 617.6,604.5 617.7,599.2 617.8,593.2 618,600.1 618.1,602.3 618.2,606.6 618.3,598.1 618.4,602.6 618.5,601.6 618.7,599.1 618.8,598 618.9,594.5 619,596.3 619.1,597.9 619.3,599.9 619.4,603.2 619.5,600.6 619.6,597.2 619.7,606.2 619.9,600.1 620,595.6 620.1,597.3 620.2,600.6 620.3,600.8 620.4,598.1 620.6,600.6 620.7,598.3 620.8,595.1 620.9,600.6 621,601.5 621.2,596.9 621.3,598.9 621.4,602.1 621.5,605.5 621.6,594.9 621.8,594.5 621.9,600.2 622,598.4 622.1,599.2 622.2,598.4 622.4,595 622.5,598.4 622.6,600 622.7,598.7 622.8,599.2 622.9,597.6 623.1,600.3 623.2,601.4 623.3,594.3 623.4,597.5 623.5,597.2 623.7,593.4 623.8,599.5 623.9,600.2 624,598.5 624.1,602.4 624.3,602.3 624.4,602.6 624.5,597.9 624.6,604.1 624.7,599.5 624.8,600.1 625,595.5 625.1,600.8 625.2,597.1 625.3,597.4 625.4,597.6 625.6,595.5 625.7,604.7 625.8,598.5 625.9,600.7 626,600.7 626.2,596 626.3,601.3 626.4,601.6 626.5,596.2 626.6,605.2 626.8,595.9 626.9,602.7 627,594.4 627.1,601.8 627.2,598 627.3,598.8 627.5,599.3 627.6,598.1 627.7,599.6 627.8,596.5 627.9,597.8 628.1,604.6 628.2,606.6 628.3,593.2 628.4,606.1 628.5,599.5 628.7,601.4 628.8,601.5 628.9,602.3 629,593.7 629.1,597 629.2,602.8 629.4,597.8 629.5,599.1 629.6,594.1 629.7,599.5 629.8,604.6 630,594.8 630.1,594.6 630.2,594.3 630.3,597.5 630.4,605.2 630.6,603 630.7,600.8 630.8,599.5 630.9,601.2 631,598.5 631.2,603.4 631.3,601.8 631.4,602.5 631.5,600.8 631.6,604.8 631.7,594.5 631.9,603.3 632,602.2 632.1,599 632.2,602.6 632.3,597.5 632.5,597.6 632.6,597.3 632.7,602.5 632.8,602.7 632.9,601.4 633.1,601.7 633.2,600.4 633.3,599.6 633.4,600.4 633.5,601.7 633.6,597 633.8,596.7 633.9,597.8 634,598.5 634.1,598.9 634.2,595.5 634.4,601.8 634.5,603.7 634.6,600.7 634.7,600.3 634.8,601.1 635,600.9 635.1,600.8 635.2,599.3 635.3,602.1 635.4,603 635.6,600.4 635.7,598.7 635.8,600.6 635.9,603.7 636,600.2 636.1,601.7 636.3,598.7 636.4,601.4 636.5,600.1 636.6,597.3 636.7,599.6 636.9,600.2 637,600.7 637.1,602.2 637.2,598.3 637.3,603.9 637.5,601.8 637.6,602.8 637.7,598.6 637.8,593.4 637.9,603.5 638,598 638.2,600 638.3,594.1 638.4,606.6 638.5,602.4 638.6,598.2 638.8,599.7 638.9,598.5 639,604.9 639.1,600.6 639.2,601.6 639.4,593.7 639.5,598.6 639.6,598.5 639.7,600.5 639.8,595.5 640,599.3 640.1,598.6 640.2,602.5 640.3,596.9 640.4,597.1 640.5,602.9 640.7,602.1 640.8,598.8 640.9,600.4 641,602.5 641.1,599.4 641.3,597.9 641.4,599.9 641.5,601.2 641.6,598.8 641.7,600.5 641.9,600.8 642,598.7 642.1,595.9 642.2,596 642.3,599.2 642.4,600.6 642.6,599.7 642.7,599 642.8,597.8 642.9,600.3 643,599.9 643.2,598.8 643.3,602.6 643.4,599.9 643.5,599 643.6,597.6 643.8,599 643.9,601.5 644,603.4 644.1,602.2 644.2,603.9 644.4,603.3 644.5,602.2 644.6,601.7 644.7,598.6 644.8,600.8 644.9,600.6 645.1,599.7 645.2,602.4 645.3,603.8 645.4,602 645.5,603.1 645.7,595.9 645.8,595.9 645.9,600.3 646,599 646.1,595.8 646.3,595.9 646.4,597 646.5,597.8 646.6,596.6 646.7,603 646.8,605.8 647,602.3 647.1,598.7 647.2,602.6 647.3,601.2 647.4,600 647.6,600.2 647.7,603.1 647.8,600.6 647.9,597.4 648,598.3 648.2,600 648.3,600.5 648.4,595.9 648.5,595.3 648.6,602.8 648.8,601.7 648.9,601.4 649,598.3 649.1,600 649.2,600.9 649.3,595.4 649.5,598.7 649.6,602.4 649.7,600 649.8,600.3 649.9,595.8 650.1,605.3 650.2,600.1 650.3,599.5 650.4,596.6 650.5,600 650.7,597.9 650.8,597.8 650.9,604.8 651,601.6 651.1,601.8 651.2,599.8 651.4,603.7 651.5,599 651.6,601.1 651.7,599.5 651.8,606.5 652,599.3 652.1,599.4 652.2,604.2 652.3,600.9 652.4,598.7 652.6,594.4 652.7,602 652.8,600.1 652.9,602.6 653,598.8 653.2,604.2 653.3,602.1 653.4,600 653.5,600.3 653.6,601.4 653.7,601.5 653.9,602.3 654,597.8 654.1,600.4 654.2,604.2 654.3,599.1 654.5,598.9 654.6,596.7 654.7,595.4 654.8,600.2 654.9,596.3 655.1,599.3 655.2,598.4 655.3,601.4 655.4,600.1 655.5,601.1 655.6,605.7 655.8,600.9 655.9,604.4 656,599.3 656.1,606.6 656.2,599.7 656.4,604.9 656.5,602.6 656.6,600.9 656.7,599.1 656.8,603.1 657,600.5 657.1,597.3 657.2,600.5 657.3,598.7 657.4,600.3 657.6,596.9 657.7,597.9 657.8,596.7 657.9,600.4 658,600.7 658.1,606.6 658.3,603.3 658.4,603.2 658.5,597.6 658.6,601.4 658.7,603.1 658.9,600.9 659,602.2 659.1,603.3 659.2,603.7 659.3,597.5 659.5,596.1 659.6,600.6 659.7,599.4 659.8,597.8 659.9,601.4 660,599.4 660.2,603.8 660.3,605.8 660.4,602.5 660.5,597.2 660.6,600.6 660.8,603.9 660.9,599.1 661,596.9 661.1,602.8 661.2,598.6 661.4,594.2 661.5,601.2 661.6,599.8 661.7,602.2 661.8,604.2 662,604 662.1,597.5 662.2,598.8 662.3,600.7 662.4,594.6 662.5,601.1 662.7,599.7 662.8,597.9 662.9,601.9 663,602.9 663.1,601.5 663.3,603.1 663.4,599.7 663.5,599.4 663.6,601.8 663.7,606 663.9,601.7 664,603.9 664.1,601.4 664.2,599.3 664.3,595.9 664.4,596.3 664.6,603.9 664.7,599.7 664.8,601.7 664.9,599.5 665,595.1 665.2,598.1 665.3,598.8 665.4,601.2 665.5,601.9 665.6,600.8 665.8,598.2 665.9,595.5 666,598.2 666.1,600.4 666.2,600.1 666.4,597.8 666.5,595.1 666.6,594.2 666.7,602.5 666.8,603.9 666.9,597.2 667.1,597.5 667.2,596.9 667.3,595 667.4,600.4 667.5,597.5 667.7,602.8 667.8,596.3 667.9,600.2 668,600.3 668.1,603 668.3,596 668.4,597.2 668.5,598.1 668.6,603.7 668.7,602.1 668.8,596.9 669,600.3 669.1,599.4 669.2,599 669.3,601.2 669.4,596.9 669.6,605.6 669.7,595.4 669.8,595.6 669.9,598.7 670,597.8 670.2,600.3 670.3,594.8 670.4,601.6 670.5,602.7 670.6,598.8 670.8,601.4 670.9,600.9 671,595.4 671.1,605.7 671.2,598.1 671.3,603 671.5,599.5 671.6,598.7 671.7,599.1 671.8,604.4 671.9,599.9 672.1,598.4 672.2,594.5 672.3,599.1 672.4,603.4 672.5,602.3 672.7,602.7 672.8,596.4 672.9,597.7 673,604.6 673.1,601.6 673.2,596.2 673.4,602.5 673.5,598.5 673.6,600.9 673.7,599.4 673.8,601.4 674,603.9 674.1,602.8 674.2,598.8 674.3,596 674.4,600.6 674.6,598.8 674.7,598.5 674.8,603.1 674.9,602.8 675,598.2 675.2,598.7 675.3,602.3 675.4,605.3 675.5,601.9 675.6,601.8 675.7,598.9 675.9,601.3 676,600.4 676.1,597.6 676.2,598.7 676.3,601.4 676.5,597.1 676.6,598.7 676.7,595.3 676.8,601.9 676.9,599.6 677.1,601.2 677.2,603.3 677.3,603 677.4,599.6 677.5,598.3 677.6,601.3 677.8,600.6 677.9,596.5 678,600.4 678.1,601.3 678.2,597.5 678.4,601.4 678.5,598.4 678.6,601.3 678.7,599.9 678.8,600.8 679,601.5 679.1,599.7 679.2,595 679.3,598.1 679.4,600.1 679.6,596.4 679.7,605.1 679.8,599.6 679.9,602.1 680,603.3 680.1,601.5 680.3,600.4 680.4,603 680.5,599.7 680.6,604.5 680.7,598.6 680.9,598.5 681,594.3 681.1,598.2 681.2,601.1 681.3,601.5 681.5,598.8 681.6,598.8 681.7,603.9 681.8,604.8 681.9,598 682,598.9 682.2,603.3 682.3,596.2 682.4,599.3 682.5,601 682.6,600.7 682.8,598.6 682.9,600.4 683,600.6 683.1,597.6 683.2,602.8 683.4,599.3 683.5,599.2 683.6,596.8 683.7,598.9 683.8,597.6 684,597.2 684.1,596.5 684.2,601.9 684.3,600.5 684.4,600.2 684.5,594.4 684.7,596.7 684.8,598.4 684.9,598.2 685,599.6 685.1,596 685.3,600.2 685.4,597.6 685.5,598.7 685.6,602.1 685.7,596.5 685.9,598 686,599.6 686.1,602.3 686.2,597.7 686.3,601.5 686.4,603 686.6,596.4 686.7,599.9 686.8,598.9 686.9,597.7 687,595.9 687.2,602.8 687.3,604.5 687.4,596.8 687.5,600.8 687.6,599.2 687.8,597.6 687.9,595.7 688,601.9 688.1,601.2 688.2,605.6 688.4,599 688.5,599.9 688.6,599.7 688.7,594.9 688.8,602.9 688.9,604.3 689.1,602.7 689.2,503.3 689.3,604.2 689.4,603 689.5,598.7 689.7,603.2 689.8,602.1 689.9,603.2 690,598.5 690.1,602.2 690.3,598 690.4,601.8 690.5,599.4 690.6,602.5 690.7,598 690.8,606.7 691,594.2 691.1,599.2 691.2,603.6 691.3,602.4 691.4,600.4 691.6,599.8 691.7,602.1 691.8,596.7 691.9,600.5 692,602.1 692.2,600 692.3,597.4 692.4,604 692.5,602.3 692.6,596.8 692.8,598.9 692.9,599.7 693,594.5 693.1,595.4 693.2,603.4 693.3,603.9 693.5,598.7 693.6,597.3 693.7,600.6 693.8,598.6 693.9,601.8 694.1,597.6 694.2,603.4 694.3,599.2 694.4,598.1 694.5,600.5 694.7,599.8 694.8,599.7 694.9,597.3 695,602 695.1,596.5 695.2,604.4 695.4,596.3 695.5,598.9 695.6,597.5 695.7,596.5 695.8,598.6 696,596.1 696.1,598 696.2,599.7 696.3,597 696.4,596 696.6,604.8 696.7,599.2 696.8,605.7 696.9,599.6 697,599.7 697.2,600 697.3,596.5 697.4,596.6 697.5,597.5 697.6,606.7 697.7,595.7 697.9,601.6 698,606.7 698.1,599.3 698.2,600.4 698.3,600.8 698.5,595.7 698.6,600.6 698.7,602.4 698.8,597.2 698.9,602.6 699.1,597 699.2,602.6 699.3,597.8 699.4,594.4 699.5,597 699.6,601.7 699.8,604.4 699.9,601.1 700,604.2 700.1,595.8 700.2,596.9 700.4,606 700.5,601 700.6,598.4 700.7,597.1 700.8,603.1 701,599.7 701.1,603 701.2,600.8 701.3,597.6 701.4,605.5 701.6,599.8 701.7,597.5 701.8,604.6 701.9,602.2 702,595.5 702.1,599.8 702.3,597.2 702.4,598.1 702.5,596 702.6,597.1 702.7,599.6 702.9,601.7 703,597.8 703.1,602.5 703.2,601.6 703.3,601.1 703.5,600.7 703.6,603.1 703.7,600.1 703.8,597.6 703.9,604.6 704,605.7 704.2,601.6 704.3,599.7 704.4,598.7 704.5,599.1 704.6,600.1 704.8,594.2 704.9,597.9 705,599.6 705.1,598 705.2,599 705.4,600.4 705.5,599 705.6,600.9 705.7,601 705.8,596.2 706,604.6 706.1,601.4 706.2,601.8 706.3,598.2 706.4,603 706.5,599.3 706.7,598.9 706.8,598 706.9,597.5 707,599.7 707.1,601.6 707.3,599.9 707.4,604.3 707.5,596.9 707.6,602.5 707.7,600.6 707.9,601 708,594.5 708.1,601.5 708.2,600.5 708.3,596.2 708.4,598.9 708.6,601.7 708.7,597.2 708.8,600.6 708.9,597.7 709,596.3 709.2,601.9 709.3,602.9 709.4,601.6 709.5,598.3 709.6,594.4 709.8,598.2 709.9,597.9 710,601 710.1,599.7 710.2,599 710.4,604.9 710.5,600.9 710.6,601.2 710.7,599.7 710.8,597 710.9,599.3 711.1,597.4 711.2,598.2 711.3,598.3 711.4,600.9 711.5,600.2 711.7,599.6 711.8,600.8 711.9,598.9 712,602.1 712.1,597.5 712.3,599.8 712.4,603.5 712.5,596.6 712.6,596 712.7,596.5 712.8,601.8 713,602.2 713.1,600.4 713.2,601.7 713.3,597.8 713.4,601.7 713.6,600.8 713.7,598.7 713.8,600.2 713.9,602.6 714,599.1 714.2,601.2 714.3,599 714.4,599.2 714.5,599.4 714.6,602.4 714.8,601.5 714.9,599.1 715,603.4 715.1,595.9 715.2,599.5 715.3,599.4 715.5,602.6 715.6,601.1 715.7,601.3 715.8,604.4 715.9,603 716.1,596.6 716.2,602.8 716.3,599.7 716.4,597.5 716.5,601.3 716.7,599.2 716.8,600.7 716.9,601.1 717,597.3 717.1,601 717.2,605.6 717.4,603.1 717.5,600.7 717.6,598.1 717.7,602.1 717.8,596.7 718,605 718.1,601.8 718.2,600.2 718.3,601.2 718.4,602 718.6,598.1 718.7,603.5 718.8,602 718.9,601 719,604.8 719.2,600.4 719.3,599.8 719.4,599.5 719.5,597.3 719.6,601.9 719.7,598 719.9,599.6 720,601.7 720.1,603.2 720.2,597.5 720.3,605.1 720.5,598.3 720.6,600 720.7,597.4 720.8,602.5 720.9,604.7 721.1,599.6 721.2,598.8 721.3,598.2 721.4,600.1 721.5,600.9 721.6,601 721.8,599.1 721.9,603.5 722,600.4 722.1,599.6 722.2,596 722.4,601.2 722.5,603 722.6,595.8 722.7,599.5 722.8,597.8 723,602.2 723.1,604.5 723.2,601.3 723.3,599.1 723.4,598.4 723.6,597.9 723.7,602.4 723.8,600.2 723.9,604.9 724,603.5 724.1,601.8 724.3,600.8 724.4,597.3 724.5,598.9 724.6,597 724.7,605.3 724.9,599.9 725,603.7 725.1,598.2 725.2,601.6 725.3,599.9 725.5,598.5 725.6,600.4 725.7,603.4 725.8,602.6 725.9,603.4 726,602.7 726.2,602.1 726.3,598.8 726.4,606.2 726.5,593.7 726.6,600.9 726.8,600.2 726.9,602.2 727,601.6 727.1,601.4 727.2,602.6 727.4,597.3 727.5,601.1 727.6,600.4 727.7,601.7 727.8,593.3 728,601.8 728.1,598.8 728.2,597 728.3,603.1 728.4,602.5 728.5,603.1 728.7,599.1 728.8,598.7 728.9,597.4 729,602.5 729.1,599.8 729.3,601.3 729.4,598.8 729.5,606.7 729.6,594.9 729.7,601.8 729.9,597.8 730,602.6 730.1,599.3 730.2,601.6 730.3,601.5 730.4,595.9 730.6,595.2 730.7,602.8 730.8,601 730.9,603.9 731,596.5 731.2,597.6 731.3,598.1 731.4,603.2 731.5,599.5 731.6,601.1 731.8,601.4 731.9,599.9 732,597.9 732.1,596.8 732.2,598.8 732.4,596.7 732.5,599.4 732.6,600.2 732.7,598.7 732.8,599.5 732.9,599.6 733.1,595.9 733.2,597.1 733.3,599.4 733.4,600.4 733.5,598.3 733.7,597.7 733.8,600.4 733.9,602.2 734,605 734.1,595 734.3,599.6 734.4,600.1 734.5,597.2 734.6,595.2 734.7,602.4 734.8,595.5 735,596.3 735.1,596.8 735.2,600.7 735.3,600 735.4,598.3 735.6,599.1 735.7,599.7 735.8,597.3 735.9,598.2 736,601.7 736.2,603.9 736.3,600.1 736.4,599.9 736.5,602.9 736.6,602.4 736.8,603.6" fill="none" stroke="#000" stroke-width="3.6" stroke-linejoin="round" stroke-linecap="round" clip-path="url(#c1)"/>
<path d="M594 449V580" stroke="#000" stroke-width="4.1" stroke-linecap="round" fill="none"/>
<polygon points="589.5,564.2 598.5,564.2 598.9,590 603,595 603,605.5 597.4,607 593.5,594.6 589.6,607 584,605.5 584,595 588.1,590" fill="#000"/>
<path d="M498.6 427.5v10.4M498.6 624.3v-10.4M593.8 427.5v10.4M593.8 624.3v-10.4M688.9 427.5v10.4M688.9 624.3v-10.4M451.4 448.5h10.4M736.8 448.5h-10.4M451.4 536.4h10.4M736.8 536.4h-10.4M451.4 624.3h10.4M736.8 624.3h-10.4" fill="none" stroke="#000" stroke-width="2.9"/>
<rect x="451.4" y="427.5" width="285.4" height="196.8" fill="none" stroke="#000" stroke-width="3.0"/>
<text x="498.3" y="662.2" font-size="32.4" text-anchor="middle" font-family='"DejaVu Sans","Liberation Sans",sans-serif'>−50</text>
<text x="593.5" y="662.2" font-size="32.4" text-anchor="middle" font-family='"DejaVu Sans","Liberation Sans",sans-serif'>0</text>
<text x="688.6" y="662.2" font-size="32.4" text-anchor="middle" font-family='"DejaVu Sans","Liberation Sans",sans-serif'>50</text>
<clipPath id="c2"><rect x="775.3" y="427.5" width="285.4" height="196.8"/></clipPath>
<polyline points="775.3,592.1 775.4,587.8 775.5,591.2 775.7,596.8 775.8,595.5 775.9,591.4 776,594 776.1,590.5 776.3,599.2 776.4,587.9 776.5,588.6 776.6,597.9 776.7,594.7 776.8,595.5 777,594.9 777.1,591.1 777.2,595.2 777.3,596.3 777.4,591.7 777.6,589.9 777.7,594.9 777.8,592.8 777.9,597.7 778,590.8 778.2,587.2 778.3,591.9 778.4,593.8 778.5,599.4 778.6,594.5 778.7,599.5 778.9,591.4 779,588.5 779.1,589.6 779.2,593.1 779.3,592.2 779.5,595.5 779.6,593 779.7,593 779.8,593.7 779.9,600.5 780.1,592.9 780.2,592.4 780.3,595.9 780.4,592.5 780.5,591.4 780.7,599.9 780.8,591.2 780.9,595.3 781,597.2 781.1,593.5 781.2,596.2 781.4,595.3 781.5,596.9 781.6,595.9 781.7,597.5 781.8,595.7 782,597.1 782.1,597.9 782.2,590.9 782.3,593.9 782.4,592.7 782.6,589 782.7,592 782.8,593.9 782.9,597.1 783,591.6 783.1,592.5 783.3,590.9 783.4,594.3 783.5,595 783.6,599.9 783.7,592.3 783.9,598.4 784,595.4 784.1,592.5 784.2,593.8 784.3,594.3 784.5,592.7 784.6,599.1 784.7,593.9 784.8,590.4 784.9,590.7 785.1,598.3 785.2,591.3 785.3,592.7 785.4,596.8 785.5,597.9 785.6,594.4 785.8,590 785.9,592.6 786,596.7 786.1,593.7 786.2,591 786.4,594.3 786.5,595.3 786.6,592.7 786.7,600 786.8,592.7 787,597.9 787.1,594.3 787.2,593 787.3,594.4 787.4,596.2 787.5,595.1 787.7,591.7 787.8,597.9 787.9,596.6 788,593.1 788.1,591.7 788.3,594.1 788.4,595.5 788.5,592 788.6,595.1 788.7,588.1 788.9,590.2 789,588.6 789.1,596.7 789.2,595.4 789.3,594.8 789.5,597.6 789.6,595.5 789.7,591.2 789.8,596.9 789.9,594.8 790,589.6 790.2,593.1 790.3,592.5 790.4,593.9 790.5,595.8 790.6,595 790.8,593.2 790.9,595.6 791,593.8 791.1,595.3 791.2,594.2 791.4,589.4 791.5,592.2 791.6,597.7 791.7,594.5 791.8,588.6 791.9,588.7 792.1,597.3 792.2,592.7 792.3,593.9 792.4,600.5 792.5,593.1 792.7,588.2 792.8,596 792.9,594.8 793,591.2 793.1,595.2 793.3,595.2 793.4,593.1 793.5,598.1 793.6,592.5 793.7,597.7 793.9,593.8 794,591.6 794.1,589.2 794.2,596.2 794.3,593.3 794.4,593.2 794.6,599.1 794.7,594.2 794.8,593.3 794.9,592.3 795,588.2 795.2,593.6 795.3,594.1 795.4,594.1 795.5,593.9 795.6,592.5 795.8,589.4 795.9,596.9 796,593.8 796.1,600.5 796.2,598.7 796.3,593.5 796.5,600 796.6,593 796.7,590.2 796.8,596.4 796.9,596 797.1,593.9 797.2,595.5 797.3,594.1 797.4,596 797.5,591.5 797.7,593.1 797.8,594.2 797.9,600.4 798,596 798.1,593.9 798.3,592 798.4,595.9 798.5,592.3 798.6,591.6 798.7,595.7 798.8,591.9 799,594.5 799.1,597.1 799.2,594.1 799.3,590.2 799.4,592.9 799.6,593.9 799.7,591.6 799.8,591.9 799.9,593.4 800,599.2 800.2,600.5 800.3,598.6 800.4,589.3 800.5,592.1 800.6,598.5 800.7,591.9 800.9,598.1 801,593.6 801.1,591.5 801.2,594.5 801.3,591.9 801.5,591.7 801.6,599 801.7,594.4 801.8,592.9 801.9,595.7 802.1,598.1 802.2,590.2 802.3,593.6 802.4,595.9 802.5,596.8 802.7,594.5 802.8,591 802.9,595.7 803,592.9 803.1,593.4 803.2,594.9 803.4,594.2 803.5,594.1 803.6,596.9 803.7,598.2 803.8,592.3 804,590.2 804.1,592.6 804.2,596.6 804.3,594.1 804.4,595.7 804.6,598 804.7,597 804.8,595.7 804.9,592.6 805,597.3 805.1,591 805.3,594.1 805.4,590.8 805.5,591.4 805.6,593.6 805.7,593.8 805.9,593.2 806,593.2 806.1,592.1 806.2,588.9 806.3,592.3 806.5,589.6 806.6,591.4 806.7,595 806.8,592.6 806.9,592.2 807.1,591.5 807.2,595 807.3,591 807.4,595.6 807.5,594.5 807.6,592.2 807.8,593.5 807.9,596.4 808,597.6 808.1,595.4 808.2,596 808.4,588.1 808.5,596.9 808.6,598 808.7,587.9 808.8,598.7 809,595.7 809.1,592.6 809.2,594 809.3,593.2 809.4,589.7 809.5,587.5 809.7,593.4 809.8,593 809.9,594.9 810,595.5 810.1,595.3 810.3,593.5 810.4,595.5 810.5,593.3 810.6,595.4 810.7,597.2 810.9,595.1 811,594.9 811.1,595.6 811.2,595.4 811.3,592.8 811.5,597.9 811.6,591.7 811.7,596 811.8,594.7 811.9,590.8 812,591.7 812.2,599.4 812.3,593.3 812.4,590.5 812.5,596.9 812.6,595.5 812.8,590.5 812.9,597.8 813,589.4 813.1,598 813.2,596.3 813.4,595.8 813.5,595.5 813.6,592.1 813.7,593.1 813.8,593.8 813.9,593.7 814.1,598.8 814.2,596 814.3,591.3 814.4,597.6 814.5,590.4 814.7,594.8 814.8,597.1 814.9,592.1 815,592.2 815.1,596.1 815.3,595.9 815.4,596.7 815.5,596 815.6,600.5 815.7,596.2 815.9,590.7 816,595.7 816.1,593.2 816.2,591.9 816.3,593.8 816.4,595.6 816.6,595.8 816.7,595.8 816.8,593.3 816.9,595.3 817,592.1 817.2,589.2 817.3,592.8 817.4,598.2 817.5,593.2 817.6,594.7 817.8,595.3 817.9,596.2 818,594.9 818.1,587.1 818.2,587.1 818.3,589.2 818.5,596.7 818.6,593.7 818.7,591.1 818.8,595 818.9,592.4 819.1,591 819.2,589.8 819.3,592.9 819.4,593.2 819.5,594.8 819.7,595.1 819.8,593.7 819.9,594.5 820,591.9 820.1,593.2 820.3,594.8 820.4,590 820.5,595.1 820.6,592.5 820.7,592.7 820.8,595.8 821,594.2 821.1,593.5 821.2,595.7 821.3,597.8 821.4,587.1 821.6,596 821.7,595.1 821.8,594.9 821.9,594.2 822,591.8 822.2,591.9 822.3,595.8 822.4,593.2 822.5,592.3 822.6,594.7 822.7,591.1 822.9,570.1 823,591.6 823.1,597 823.2,589.2 823.3,594.5 823.5,596.8 823.6,596.5 823.7,596.1 823.8,593.1 823.9,600.2 824.1,596.6 824.2,590.9 824.3,590.4 824.4,596.8 824.5,593.4 824.7,593.1 824.8,594.4 824.9,595.3 825,591.4 825.1,594.4 825.2,593.1 825.4,591.5 825.5,596.3 825.6,596.2 825.7,587.4 825.8,596.4 826,590.5 826.1,590.3 826.2,593.3 826.3,594.5 826.4,593.8 826.6,595.6 826.7,593.5 826.8,594.2 826.9,595.1 827,594.6 827.1,591.3 827.3,593.6 827.4,594.2 827.5,588.3 827.6,593.7 827.7,591.9 827.9,596 828,596.5 828.1,592.3 828.2,590.9 828.3,600.5 828.5,591.7 828.6,591.5 828.7,593.6 828.8,591.9 828.9,596.6 829.1,592.6 829.2,596.8 829.3,594.4 829.4,594.8 829.5,593.3 829.6,597.5 829.8,593 829.9,592.8 830,590.6 830.1,595.4 830.2,592.4 830.4,595.6 830.5,592.4 830.6,595.6 830.7,596.8 830.8,595.5 831,589.5 831.1,589.8 831.2,593.6 831.3,593.5 831.4,592.8 831.5,597.9 831.7,588.3 831.8,596.4 831.9,597.1 832,594.3 832.1,596.5 832.3,592.9 832.4,592 832.5,594.7 832.6,593.4 832.7,595.5 832.9,598.5 833,597.3 833.1,588.3 833.2,594.1 833.3,598.9 833.5,596.9 833.6,596.2 833.7,591.8 833.8,593.5 833.9,589.9 834,588.6 834.2,592.1 834.3,592.3 834.4,590.4 834.5,594.9 834.6,594.5 834.8,598.4 834.9,591.6 835,596.2 835.1,593 835.2,587.2 835.4,597.5 835.5,595.2 835.6,596.6 835.7,597 835.8,591.9 835.9,598.3 836.1,593.1 836.2,593.6 836.3,591 836.4,598.8 836.5,597.4 836.7,591.2 836.8,599 836.9,593.5 837,590.8 837.1,598.2 837.3,596.9 837.4,591.5 837.5,597.5 837.6,591.7 837.7,590.7 837.9,593.9 838,594.2 838.1,594.1 838.2,595.9 838.3,591.8 838.4,592 838.6,594 838.7,593.2 838.8,597.9 838.9,596.7 839,600 839.2,595.7 839.3,591.7 839.4,593.3 839.5,595.5 839.6,595.2 839.8,595.2 839.9,591.2 840,597.3 840.1,590.7 840.2,592.6 840.3,598.2 840.5,592.3 840.6,592 840.7,595.1 840.8,589 840.9,596.2 841.1,595.1 841.2,593.4 841.3,592.6 841.4,594.5 841.5,591.4 841.7,595.7 841.8,592.6 841.9,594.4 842,593.9 842.1,596.7 842.3,594.3 842.4,598.2 842.5,598 842.6,594.5 842.7,591.8 842.8,596.9 843,592.7 843.1,587.8 843.2,592.5 843.3,592.3 843.4,594.5 843.6,599.4 843.7,595.2 843.8,593.9 843.9,597.1 844,593.5 844.2,596.1 844.3,591.7 844.4,593.7 844.5,593.3 844.6,592.9 844.7,594.4 844.9,589.6 845,597.1 845.1,596.3 845.2,594.1 845.3,593.6 845.5,597.7 845.6,591.3 845.7,594.5 845.8,592.2 845.9,595.6 846.1,595.4 846.2,593.2 846.3,595.2 846.4,595.8 846.5,593.1 846.7,591.8 846.8,594.6 846.9,592.8 847,596.2 847.1,592.8 847.2,596.3 847.4,593.1 847.5,596.8 847.6,593.3 847.7,591.3 847.8,593.7 848,598.5 848.1,590 848.2,595.8 848.3,600.1 848.4,589 848.6,595.8 848.7,592.2 848.8,593.4 848.9,588.8 849,589.7 849.1,598.9 849.3,592.8 849.4,597 849.5,594.3 849.6,594.6 849.7,594.6 849.9,597.5 850,592.4 850.1,591.8 850.2,591.9 850.3,588.9 850.5,594.6 850.6,596.6 850.7,593.8 850.8,600.5 850.9,594.9 851,597.5 851.2,597.3 851.3,597.8 851.4,597.6 851.5,593.5 851.6,599 851.8,597.1 851.9,594.2 852,595.1 852.1,590.7 852.2,594.1 852.4,588.8 852.5,592 852.6,597.3 852.7,594.8 852.8,590.1 853,598 853.1,597 853.2,599.4 853.3,594.6 853.4,591.7 853.5,591.2 853.7,594.8 853.8,598 853.9,593.7 854,594.8 854.1,592.1 854.3,593.7 854.4,591 854.5,595.9 854.6,594.1 854.7,594.5 854.9,595.4 855,593 855.1,598.9 855.2,598.4 855.3,600.5 855.4,594.1 855.6,592 855.7,593 855.8,589.8 855.9,593.8 856,596.6 856.2,593.2 856.3,593.6 856.4,593.6 856.5,591 856.6,596.4 856.8,596.2 856.9,594.2 857,590.7 857.1,596.1 857.2,590.3 857.4,590.2 857.5,595 857.6,595.7 857.7,594.2 857.8,598.2 857.9,589.7 858.1,593.4 858.2,590.9 858.3,595.7 858.4,593.4 858.5,594.3 858.7,589.4 858.8,596.9 858.9,590.6 859,593.8 859.1,594 859.3,598.7 859.4,594.3 859.5,595.1 859.6,592.3 859.7,595.3 859.8,595.7 860,591.4 860.1,593.3 860.2,595.2 860.3,593.4 860.4,592.5 860.6,594.4 860.7,594.2 860.8,589.7 860.9,594.1 861,599.9 861.2,591.7 861.3,590.3 861.4,591.1 861.5,591.3 861.6,599.6 861.8,596.5 861.9,593.8 862,593.6 862.1,594.1 862.2,597.6 862.3,596 862.5,595.1 862.6,591.5 862.7,588.2 862.8,598.5 862.9,593.9 863.1,596.7 863.2,591.5 863.3,593.5 863.4,592.9 863.5,593.9 863.7,596 863.8,596.1 863.9,594.9 864,591.6 864.1,588.7 864.2,591.3 864.4,594.7 864.5,589.8 864.6,593.1 864.7,593.9 864.8,593.9 865,596.7 865.1,598.1 865.2,596.1 865.3,594.7 865.4,593.6 865.6,597.5 865.7,594.7 865.8,599 865.9,590.6 866,595.6 866.2,596.9 866.3,592.2 866.4,594 866.5,596.9 866.6,589.3 866.7,596.3 866.9,592.8 867,595.6 867.1,591.9 867.2,591.9 867.3,595.9 867.5,595.9 867.6,590.8 867.7,593.3 867.8,591.4 867.9,593 868.1,590.9 868.2,592.2 868.3,595.2 868.4,589.5 868.5,593.9 868.6,593.5 868.8,593 868.9,590.4 869,595.9 869.1,593.6 869.2,594.1 869.4,594.5 869.5,596.7 869.6,600.5 869.7,595.9 869.8,591.2 870,594.2 870.1,595.1 870.2,594.5 870.3,591.5 870.4,594.3 870.6,594.8 870.7,592.6 870.8,591 870.9,592.9 871,593.4 871.1,598.5 871.3,598.4 871.4,593.9 871.5,595.5 871.6,595.5 871.7,593.4 871.9,592.1 872,587.1 872.1,596.5 872.2,593.5 872.3,587.6 872.5,596.1 872.6,592.4 872.7,596.9 872.8,590.6 872.9,596 873,592.3 873.2,591.7 873.3,595.2 873.4,597.9 873.5,596.2 873.6,593.5 873.8,592.5 873.9,591.8 874,596.4 874.1,590.2 874.2,592.6 874.4,594 874.5,595.7 874.6,596.6 874.7,600 874.8,595.5 875,594.2 875.1,589.8 875.2,591.9 875.3,597.2 875.4,592.2 875.5,596.9 875.7,588.2 875.8,587.1 875.9,592.8 876,595.3 876.1,590.1 876.3,592.6 876.4,592.3 876.5,593 876.6,595.6 876.7,592 876.9,590.3 877,593.1 877.1,594.6 877.2,594.7 877.3,591.7 877.4,590.9 877.6,594.5 877.7,597.1 877.8,592.7 877.9,594.6 878,593.2 878.2,588.4 878.3,590 878.4,599.1 878.5,596.3 878.6,593.7 878.8,598.4 878.9,599.2 879,594.9 879.1,595.2 879.2,594.8 879.4,593.3 879.5,595.9 879.6,594.6 879.7,594.5 879.8,591.3 879.9,599.6 880.1,592.9 880.2,599.3 880.3,598.3 880.4,593.3 880.5,593.2 880.7,593.3 880.8,594.4 880.9,594.1 881,596.3 881.1,593.7 881.3,590.5 881.4,599.9 881.5,594.9 881.6,596.3 881.7,598.6 881.8,595.1 882,594.6 882.1,600.5 882.2,600.5 882.3,594.3 882.4,594.8 882.6,590.3 882.7,595.3 882.8,590.8 882.9,595.3 883,597.3 883.2,593.4 883.3,595 883.4,594.3 883.5,600.5 883.6,592.9 883.8,594.3 883.9,593.3 884,592.8 884.1,589.4 884.2,594.1 884.3,594.3 884.5,591.3 884.6,590.8 884.7,593 884.8,594.7 884.9,595.2 885.1,595.7 885.2,595.9 885.3,591.6 885.4,595.3 885.5,592.3 885.7,596.1 885.8,591.3 885.9,594.1 886,590.2 886.1,592.3 886.2,592.9 886.4,595.6 886.5,595.3 886.6,594.8 886.7,594.4 886.8,595.9 887,592.3 887.1,592.2 887.2,594.6 887.3,589.4 887.4,593.9 887.6,597.8 887.7,594.5 887.8,593.6 887.9,594.8 888,593.2 888.2,596.4 888.3,594.3 888.4,594.2 888.5,593 888.6,595.3 888.7,595.9 888.9,594.2 889,593.2 889.1,594.8 889.2,594.5 889.3,597.3 889.5,590 889.6,596.9 889.7,587.1 889.8,594.5 889.9,590.3 890.1,595.2 890.2,592.6 890.3,593.4 890.4,594.8 890.5,597.3 890.6,595.2 890.8,597.8 890.9,589.9 891,596.5 891.1,589 891.2,594.4 891.4,598.7 891.5,588.5 891.6,590.8 891.7,594.9 891.8,595.4 892,595.5 892.1,591 892.2,597.6 892.3,595.3 892.4,591 892.6,588.5 892.7,595.6 892.8,595.2 892.9,596 893,591.3 893.1,596.1 893.3,594.5 893.4,592.6 893.5,592.1 893.6,591.7 893.7,596.1 893.9,593.5 894,592.8 894.1,591.6 894.2,589.8 894.3,591.2 894.5,595.8 894.6,593.2 894.7,596.8 894.8,589.9 894.9,594.3 895,594.1 895.2,592.9 895.3,595.2 895.4,591.8 895.5,591.7 895.6,593.1 895.8,593.6 895.9,600.5 896,594.9 896.1,592.4 896.2,593 896.4,600.5 896.5,592.1 896.6,591.3 896.7,595.9 896.8,596.6 897,593.8 897.1,596.9 897.2,597 897.3,597.9 897.4,590.7 897.5,594.1 897.7,596 897.8,597.4 897.9,592.6 898,595.5 898.1,595.2 898.3,594.7 898.4,595.3 898.5,593.2 898.6,591.3 898.7,597.9 898.9,596.9 899,593 899.1,596.6 899.2,594.3 899.3,590.2 899.4,592.7 899.6,591 899.7,590.8 899.8,590.9 899.9,593.2 900,589.7 900.2,595.5 900.3,595.5 900.4,592.2 900.5,596.2 900.6,593.5 900.8,595.2 900.9,590.9 901,592.2 901.1,590.8 901.2,595.2 901.4,598.7 901.5,590.5 901.6,589.3 901.7,596.1 901.8,596.9 901.9,598.8 902.1,590.6 902.2,597.3 902.3,593.2 902.4,593.3 902.5,595.5 902.7,594.6 902.8,595.3 902.9,591.8 903,590.1 903.1,590.3 903.3,598 903.4,597.5 903.5,595.4 903.6,592.9 903.7,592 903.8,599.9 904,593.7 904.1,591.7 904.2,594 904.3,594.4 904.4,599.1 904.6,590 904.7,592.7 904.8,595.1 904.9,595.4 905,591.7 905.2,590.6 905.3,594.6 905.4,597.7 905.5,592.6 905.6,596 905.8,594.4 905.9,594.8 906,597.1 906.1,590.4 906.2,597.4 906.3,590.1 906.5,596.4 906.6,594.6 906.7,594 906.8,592.8 906.9,596.7 907.1,588.9 907.2,594.3 907.3,589.2 907.4,591.4 907.5,593.8 907.7,595.8 907.8,592.4 907.9,592.5 908,595.8 908.1,594 908.2,591.8 908.4,590.6 908.5,593.9 908.6,594.1 908.7,595.9 908.8,597.1 909,591.1 909.1,593.1 909.2,594.5 909.3,590.3 909.4,591.3 909.6,598.4 909.7,600.2 909.8,593.6 909.9,595.4 910,591.3 910.2,597.2 910.3,592.1 910.4,592.3 910.5,597 910.6,588 910.7,596 910.9,593.6 911,595.1 911.1,595 911.2,596.4 911.3,595.9 911.5,592.7 911.6,598.5 911.7,594.3 911.8,593.9 911.9,593.7 912.1,593.9 912.2,588.5 912.3,593.8 912.4,594.2 912.5,595.8 912.6,590.1 912.8,590.3 912.9,596.5 913,596.7 913.1,596.7 913.2,591.2 913.4,593.2 913.5,591.8 913.6,596.5 913.7,594 913.8,593.8 914,590.8 914.1,596.1 914.2,600.5 914.3,594.6 914.4,590.8 914.6,588.9 914.7,599.7 914.8,592.4 914.9,591.6 915,593.2 915.1,595.1 915.3,592.5 915.4,593.9 915.5,589.5 915.6,595.5 915.7,588.7 915.9,593.8 916,595.4 916.1,590.9 916.2,593.7 916.3,591.4 916.5,592.2 916.6,595 916.7,594.4 916.8,588.3 916.9,596.8 917,592.6 917.2,590.4 917.3,591.9 917.4,590.2 917.5,596.1 917.6,591.5 917.8,590.6 917.9,598.3 918,516.2 918.1,595 918.2,595.5 918.4,591.5 918.5,592.8 918.6,590.1 918.7,592.6 918.8,598.7 919,595.4 919.1,592.8 919.2,591.7 919.3,595.4 919.4,592.3 919.5,595.7 919.7,590.4 919.8,593.1 919.9,592.7 920,600.5 920.1,593.7 920.3,593.3 920.4,596 920.5,595.5 920.6,591.9 920.7,595.7 920.9,593.4 921,599.6 921.1,592.2 921.2,599.3 921.3,599.4 921.4,594 921.6,596.2 921.7,597.6 921.8,593.1 921.9,595 922,590.2 922.2,593.8 922.3,590.8 922.4,596.5 922.5,593.3 922.6,587.1 922.8,592.6 922.9,596.2 923,595.2 923.1,594.9 923.2,592.4 923.4,599.7 923.5,591.6 923.6,592.9 923.7,594.8 923.8,591.6 923.9,600.4 924.1,589.1 924.2,593.5 924.3,591.2 924.4,596.4 924.5,592.7 924.7,593.8 924.8,591.1 924.9,597.3 925,587.7 925.1,592.9 925.3,589.2 925.4,593.2 925.5,593.5 925.6,593.5 925.7,590.9 925.8,591.7 926,596.1 926.1,595.3 926.2,592.3 926.3,596.9 926.4,592.4 926.6,595.6 926.7,591.1 926.8,592.3 926.9,592.2 927,594.3 927.2,590.6 927.3,594.5 927.4,589.6 927.5,596.9 927.6,592.8 927.8,594.9 927.9,589.5 928,591.4 928.1,591.4 928.2,595.3 928.3,593.7 928.5,596.5 928.6,595.8 928.7,589.8 928.8,596.8 928.9,592.7 929.1,591 929.2,591.7 929.3,589.1 929.4,598.3 929.5,590.7 929.7,588.9 929.8,596.5 929.9,593.8 930,594.4 930.1,595.7 930.2,591.7 930.4,595.9 930.5,592.9 930.6,592.4 930.7,598.1 930.8,596.1 931,594.5 931.1,590 931.2,593.9 931.3,593.1 931.4,598.6 931.6,587.5 931.7,593.1 931.8,591.6 931.9,589.9 932,592.1 932.2,595.4 932.3,596 932.4,589.3 932.5,597.8 932.6,590.6 932.7,588.2 932.9,594.8 933,594.6 933.1,591.5 933.2,591.7 933.3,592.6 933.5,587.1 933.6,594.3 933.7,589.5 933.8,587.1 933.9,592.5 934.1,595.2 934.2,587.1 934.3,594.1 934.4,589.6 934.5,597.2 934.6,592.5 934.8,599.5 934.9,597.7 935,597.4 935.1,594 935.2,591.5 935.4,590.4 935.5,595 935.6,598.8 935.7,600.5 935.8,593.1 936,594.8 936.1,595.4 936.2,591.1 936.3,591.4 936.4,589.1 936.6,589.4 936.7,589.2 936.8,593.5 936.9,595.7 937,596.3 937.1,594.3 937.3,592.8 937.4,598.5 937.5,594.4 937.6,592.8 937.7,589.4 937.9,594.7 938,594.7 938.1,594.9 938.2,590.1 938.3,598.9 938.5,591.7 938.6,597.5 938.7,594.5 938.8,590.7 938.9,594.7 939,593.7 939.2,596.4 939.3,598.2 939.4,589.6 939.5,594.4 939.6,593 939.8,594.8 939.9,593.8 940,593.3 940.1,592.3 940.2,596.5 940.4,595 940.5,592.6 940.6,594.2 940.7,593.3 940.8,595 941,592.7 941.1,594.4 941.2,599.5 941.3,596.3 941.4,592 941.5,587.1 941.7,595.6 941.8,599 941.9,591.6 942,587.1 942.1,595.5 942.3,594.1 942.4,594.1 942.5,589.6 942.6,599 942.7,591 942.9,593.2 943,593.5 943.1,593.9 943.2,591.4 943.3,590.5 943.4,597.4 943.6,594.2 943.7,591.1 943.8,597.2 943.9,590.7 944,591 944.2,593.5 944.3,597.8 944.4,596.3 944.5,594.9 944.6,592.3 944.8,593.5 944.9,593.6 945,591.4 945.1,593.7 945.2,594.1 945.4,593.6 945.5,593 945.6,595 945.7,596.2 945.8,594.7 945.9,593.4 946.1,598.3 946.2,594.8 946.3,595.5 946.4,597.8 946.5,590.9 946.7,595 946.8,600.5 946.9,590.5 947,592.8 947.1,600.5 947.3,592.3 947.4,592.7 947.5,594 947.6,591.5 947.7,595.5 947.8,591.1 948,596 948.1,593.6 948.2,594.7 948.3,593.8 948.4,594.6 948.6,597.1 948.7,593.4 948.8,595.1 948.9,593.4 949,598.2 949.2,591.9 949.3,598 949.4,597.9 949.5,596 949.6,591.2 949.8,594 949.9,594.5 950,593.2 950.1,596.1 950.2,594.1 950.3,592.3 950.5,594.3 950.6,597.8 950.7,589.4 950.8,593.7 950.9,598.5 951.1,596.3 951.2,587.1 951.3,593.2 951.4,596.8 951.5,598.8 951.7,598 951.8,594 951.9,591.2 952,591.8 952.1,593.1 952.2,592.7 952.4,593.1 952.5,593.8 952.6,591.4 952.7,594.6 952.8,591.9 953,600.5 953.1,598.9 953.2,592.3 953.3,594.4 953.4,598.2 953.6,589.1 953.7,587.9 953.8,594 953.9,593.4 954,596.5 954.2,599.2 954.3,594.8 954.4,596.6 954.5,594.4 954.6,595 954.7,595.7 954.9,594.2 955,590 955.1,597.4 955.2,594.1 955.3,590.7 955.5,592.9 955.6,593.9 955.7,594.9 955.8,596.8 955.9,596.2 956.1,591.6 956.2,595.2 956.3,589.8 956.4,590.9 956.5,592.4 956.6,590.8 956.8,594.1 956.9,588.4 957,594.9 957.1,591.5 957.2,593.1 957.4,593.3 957.5,595.5 957.6,592.9 957.7,595.7 957.8,590.5 958,593.3 958.1,591.6 958.2,594.5 958.3,593.7 958.4,593.6 958.6,595.4 958.7,593.9 958.8,597.4 958.9,595.9 959,592.2 959.1,598.1 959.3,600.5 959.4,593.6 959.5,589.7 959.6,595.6 959.7,594.6 959.9,594.6 960,591.5 960.1,597.5 960.2,594.3 960.3,594.3 960.5,589.2 960.6,593.6 960.7,595.3 960.8,596.8 960.9,597.2 961,599.6 961.2,597.9 961.3,595.8 961.4,594.3 961.5,596.7 961.6,592.5 961.8,594.7 961.9,593.8 962,588.2 962.1,595.6 962.2,593.1 962.4,591 962.5,596.5 962.6,595.7 962.7,594 962.8,594.2 963,593.5 963.1,593.5 963.2,592.2 963.3,595.4 963.4,596.6 963.5,594 963.7,592.2 963.8,596.7 963.9,593.2 964,593.9 964.1,594.6 964.3,594.7 964.4,592.6 964.5,592.9 964.6,592.5 964.7,595 964.9,593.5 965,593.1 965.1,593.7 965.2,596.9 965.3,590.9 965.4,591.2 965.6,594.2 965.7,590.6 965.8,596.7 965.9,593.9 966,596.8 966.2,599.3 966.3,594.1 966.4,595.6 966.5,594.5 966.6,591.4 966.8,590.4 966.9,593.4 967,592.9 967.1,591.8 967.2,593.4 967.4,596.2 967.5,592.7 967.6,593.6 967.7,587.7 967.8,595.6 967.9,590.9 968.1,590.8 968.2,594.8 968.3,589.1 968.4,589.9 968.5,589.4 968.7,589.6 968.8,593.1 968.9,597.3 969,590.7 969.1,592 969.3,598.1 969.4,598.2 969.5,596.4 969.6,595.5 969.7,596.5 969.8,597.2 970,596.6 970.1,593.5 970.2,592.7 970.3,596.1 970.4,592.7 970.6,597.3 970.7,599.8 970.8,593.9 970.9,595.6 971,596.2 971.2,594.9 971.3,591.7 971.4,590.9 971.5,594.2 971.6,594.4 971.8,590.6 971.9,593.1 972,595.1 972.1,596.1 972.2,595.6 972.3,595.4 972.5,595 972.6,597.1 972.7,590.4 972.8,587.9 972.9,594.2 973.1,596.6 973.2,592.5 973.3,600.5 973.4,597.4 973.5,595.3 973.7,592.2 973.8,591.2 973.9,593.8 974,591.6 974.1,596.1 974.2,595.8 974.4,594.7 974.5,591.8 974.6,594 974.7,590.9 974.8,596.6 975,592.7 975.1,591.3 975.2,595.8 975.3,590.7 975.4,594 975.6,595.6 975.7,592 975.8,594.8 975.9,591.6 976,599.2 976.2,593.8 976.3,591.3 976.4,598.4 976.5,588.8 976.6,594.8 976.7,589.8 976.9,594.8 977,591.3 977.1,591.6 977.2,592.4 977.3,598 977.5,592.1 977.6,598.3 977.7,593 977.8,593.2 977.9,594.5 978.1,593.9 978.2,596.4 978.3,590.4 978.4,594.1 978.5,590.4 978.6,588 978.8,591 978.9,590 979,596.2 979.1,596.9 979.2,591.7 979.4,596.9 979.5,590.3 979.6,594.4 979.7,588.4 979.8,592.9 980,592.9 980.1,587.5 980.2,590.7 980.3,591.4 980.4,590.6 980.6,595.4 980.7,597.3 980.8,588.6 980.9,595.4 981,593.8 981.1,597.1 981.3,591.7 981.4,598.8 981.5,593.8 981.6,591.6 981.7,591 981.9,590.9 982,594.6 982.1,592.4 982.2,595.9 982.3,591.7 982.5,589.9 982.6,593.8 982.7,590.3 982.8,592.6 982.9,594.3 983,592.7 983.2,593.9 983.3,594.1 983.4,594.2 983.5,587.1 983.6,595.1 983.8,593.6 983.9,590.4 984,595.6 984.1,594.2 984.2,591.7 984.4,594.9 984.5,593.8 984.6,595.5 984.7,595.2 984.8,596 985,598.8 985.1,591.9 985.2,594.3 985.3,595.4 985.4,597.2 985.5,595.8 985.7,595.3 985.8,600.5 985.9,591.9 986,594.7 986.1,597 986.3,595.1 986.4,594.7 986.5,592.9 986.6,595 986.7,591.3 986.9,595.9 987,592.1 987.1,595.4 987.2,595 987.3,592.1 987.4,592.9 987.6,594.5 987.7,592.6 987.8,595.1 987.9,596.7 988,591.1 988.2,594 988.3,599.7 988.4,593.6 988.5,594.8 988.6,591.7 988.8,593.9 988.9,590.5 989,591.7 989.1,599.3 989.2,588.6 989.4,592.6 989.5,592.5 989.6,589.4 989.7,595.5 989.8,593.9 989.9,596.7 990.1,590.2 990.2,591.2 990.3,590.7 990.4,598.8 990.5,599.7 990.7,592.7 990.8,588.1 990.9,591.8 991,593.8 991.1,593.7 991.3,597.8 991.4,590.5 991.5,594.6 991.6,595.1 991.7,594.2 991.8,595.8 992,597.7 992.1,595.4 992.2,593.2 992.3,595.6 992.4,595.3 992.6,590.5 992.7,591 992.8,593.9 992.9,593.3 993,587.1 993.2,600.4 993.3,587.1 993.4,591.7 993.5,594.9 993.6,595.5 993.7,596.6 993.9,596 994,594.6 994.1,590 994.2,591.5 994.3,593.8 994.5,589.7 994.6,595.7 994.7,591.4 994.8,594.2 994.9,590.5 995.1,597.2 995.2,595.9 995.3,589.5 995.4,594.5 995.5,591.9 995.7,592.8 995.8,591.9 995.9,598.9 996,597.9 996.1,600.3 996.2,594.2 996.4,600.4 996.5,592.1 996.6,597.6 996.7,597.2 996.8,593 997,589.3 997.1,593 997.2,595.4 997.3,589.9 997.4,594.9 997.6,595.7 997.7,597 997.8,595.7 997.9,592 998,597 998.1,593.5 998.3,597.3 998.4,592.7 998.5,598.9 998.6,593.7 998.7,591.9 998.9,598.9 999,595.6 999.1,596.6 999.2,594.4 999.3,591.6 999.5,595.7 999.6,597.9 999.7,587.1 999.8,594.7 999.9,594.4 1000.1,593.3 1000.2,590.9 1000.3,596.2 1000.4,593.2 1000.5,593.8 1000.6,591.8 1000.8,596.2 1000.9,595.9 1001,597.2 1001.1,591.8 1001.2,594.3 1001.4,589.7 1001.5,596.8 1001.6,588.4 1001.7,596.8 1001.8,593.7 1002,590.6 1002.1,595.8 1002.2,592 1002.3,589.8 1002.4,600.5 1002.5,597.8 1002.7,594.2 1002.8,594.8 1002.9,593 1003,592.1 1003.1,599.3 1003.3,591.7 1003.4,592.7 1003.5,596.2 1003.6,592.5 1003.7,591.5 1003.9,595.4 1004,595.8 1004.1,593 1004.2,593.1 1004.3,589.1 1004.5,596.6 1004.6,596.9 1004.7,595.6 1004.8,589.9 1004.9,591.7 1005,588.3 1005.2,597.4 1005.3,596 1005.4,594.2 1005.5,590.9 1005.6,596.9 1005.8,593.5 1005.9,593.8 1006,594.4 1006.1,594.3 1006.2,592.2 1006.4,591.4 1006.5,595.7 1006.6,591.2 1006.7,591.7 1006.8,592.8 1006.9,596.5 1007.1,591.6 1007.2,595.9 1007.3,595.2 1007.4,590.2 1007.5,590.8 1007.7,591.9 1007.8,592.6 1007.9,590.4 1008,592.8 1008.1,591.4 1008.3,597.4 1008.4,599.6 1008.5,594 1008.6,594.6 1008.7,596.5 1008.9,591.7 1009,595.8 1009.1,591.6 1009.2,588.8 1009.3,595.2 1009.4,594.3 1009.6,595.2 1009.7,600.1 1009.8,595.1 1009.9,595.9 1010,595.4 1010.2,596 1010.3,595.8 1010.4,591.4 1010.5,594.7 1010.6,599.4 1010.8,591.4 1010.9,591.6 1011,590.4 1011.1,593.5 1011.2,594.1 1011.3,591.7 1011.5,591.9 1011.6,594.2 1011.7,592.2 1011.8,591.3 1011.9,587.4 1012.1,592.7 1012.2,592 1012.3,598.3 1012.4,595.1 1012.5,596.1 1012.7,597.1 1012.8,599.4 1012.9,590 1013,589.8 1013.1,571 1013.3,595.4 1013.4,594.6 1013.5,591.7 1013.6,594 1013.7,597.5 1013.8,594.6 1014,596.5 1014.1,594 1014.2,594.3 1014.3,591.9 1014.4,592.1 1014.6,595.4 1014.7,593.5 1014.8,594.8 1014.9,589.7 1015,591.6 1015.2,592.9 1015.3,593.6 1015.4,596.4 1015.5,595.6 1015.6,597.3 1015.7,589.9 1015.9,589.8 1016,590.6 1016.1,595.1 1016.2,599.5 1016.3,590 1016.5,592.8 1016.6,594.4 1016.7,595.1 1016.8,591.1 1016.9,594 1017.1,592 1017.2,599.9 1017.3,593.1 1017.4,595.8 1017.5,592.8 1017.7,591.4 1017.8,589.5 1017.9,594.8 1018,593.3 1018.1,591.1 1018.2,595.2 1018.4,592.8 1018.5,595.4 1018.6,596.7 1018.7,590.2 1018.8,595 1019,594.7 1019.1,592.5 1019.2,594 1019.3,595.9 1019.4,587.1 1019.6,590.4 1019.7,594.9 1019.8,592.2 1019.9,598.5 1020,597.9 1020.1,590.8 1020.3,591.4 1020.4,592.7 1020.5,593.8 1020.6,592.5 1020.7,594.5 1020.9,591.6 1021,590.8 1021.1,595.4 1021.2,591.4 1021.3,593.8 1021.5,594.2 1021.6,594.9 1021.7,591.9 1021.8,594.4 1021.9,593 1022.1,593.6 1022.2,597.3 1022.3,597.7 1022.4,590.5 1022.5,594.8 1022.6,591.8 1022.8,594.5 1022.9,591.8 1023,593.9 1023.1,592.5 1023.2,592.6 1023.4,590.8 1023.5,590.3 1023.6,588.7 1023.7,597.4 1023.8,590.9 1024,597.4 1024.1,594.9 1024.2,595 1024.3,591.7 1024.4,590.1 1024.5,593.5 1024.7,590.4 1024.8,593.3 1024.9,591.9 1025,595.3 1025.1,592.9 1025.3,594.3 1025.4,599.4 1025.5,591.8 1025.6,590.9 1025.7,599.7 1025.9,593.1 1026,592.1 1026.1,589.5 1026.2,594.9 1026.3,589.9 1026.5,591.9 1026.6,588.8 1026.7,593.9 1026.8,596.6 1026.9,592.7 1027,593.5 1027.2,597 1027.3,596.1 1027.4,592.3 1027.5,593.4 1027.6,591.9 1027.8,590.2 1027.9,594.8 1028,596.9 1028.1,597.4 1028.2,593.2 1028.4,591.7 1028.5,594.3 1028.6,593.7 1028.7,596.5 1028.8,600.5 1028.9,597 1029.1,591.7 1029.2,591.8 1029.3,595 1029.4,591.5 1029.5,587.9 1029.7,590.3 1029.8,591.6 1029.9,587.1 1030,595 1030.1,593.1 1030.3,590.9 1030.4,599.6 1030.5,597.1 1030.6,593.3 1030.7,587.8 1030.9,591.4 1031,593.4 1031.1,592 1031.2,594.6 1031.3,595.1 1031.4,595.6 1031.6,588.9 1031.7,593.7 1031.8,592.6 1031.9,597.6 1032,595.2 1032.2,596 1032.3,592.7 1032.4,592.3 1032.5,595.3 1032.6,593.3 1032.8,593.6 1032.9,597.3 1033,595.5 1033.1,592.8 1033.2,589.8 1033.3,595.1 1033.5,596.4 1033.6,591.3 1033.7,593.6 1033.8,589.5 1033.9,594.8 1034.1,589.7 1034.2,591.5 1034.3,595.8 1034.4,591.8 1034.5,593.2 1034.7,593.1 1034.8,589.7 1034.9,599.6 1035,597.2 1035.1,593.8 1035.3,597 1035.4,594 1035.5,596.5 1035.6,591.1 1035.7,597.6 1035.8,592.4 1036,591.7 1036.1,593.3 1036.2,589.9 1036.3,595.9 1036.4,596.1 1036.6,594 1036.7,597.8 1036.8,587.4 1036.9,595.2 1037,594.1 1037.2,596.8 1037.3,598.5 1037.4,591.3 1037.5,594.4 1037.6,595.6 1037.7,588.5 1037.9,592.6 1038,590.9 1038.1,596.9 1038.2,588.2 1038.3,594.3 1038.5,593.1 1038.6,592.3 1038.7,596 1038.8,593.9 1038.9,592 1039.1,595.6 1039.2,591.3 1039.3,589.5 1039.4,597.7 1039.5,592.5 1039.7,597.6 1039.8,593.1 1039.9,593.5 1040,589.3 1040.1,592.1 1040.2,591.2 1040.4,589.7 1040.5,592.4 1040.6,594.3 1040.7,589.7 1040.8,600 1041,596.3 1041.1,594.1 1041.2,587.1 1041.3,587.3 1041.4,594.1 1041.6,594 1041.7,595.3 1041.8,590.9 1041.9,594.8 1042,593 1042.1,594.6 1042.3,594 1042.4,597.5 1042.5,591.3 1042.6,595.3 1042.7,589.6 1042.9,591.2 1043,588.3 1043.1,591.2 1043.2,594.4 1043.3,595.9 1043.5,598.1 1043.6,595 1043.7,592.3 1043.8,591.1 1043.9,592.5 1044.1,592.1 1044.2,597.9 1044.3,596.7 1044.4,594.4 1044.5,593.9 1044.6,592.8 1044.8,592.5 1044.9,592.8 1045,593.5 1045.1,590.2 1045.2,591.2 1045.4,596.8 1045.5,599.9 1045.6,591.5 1045.7,599.9 1045.8,592 1046,589.6 1046.1,592.2 1046.2,594.9 1046.3,593.3 1046.4,591.4 1046.5,595 1046.7,590.9 1046.8,594.8 1046.9,596.4 1047,597.7 1047.1,595.7 1047.3,590 1047.4,594.7 1047.5,591.9 1047.6,588.5 1047.7,598.2 1047.9,595.6 1048,594.6 1048.1,592.7 1048.2,591.5 1048.3,597.8 1048.5,592.7 1048.6,596.8 1048.7,593 1048.8,598.4 1048.9,596.5 1049,591.4 1049.2,594.2 1049.3,593.4 1049.4,596.1 1049.5,589.4 1049.6,595.3 1049.8,596.7 1049.9,593.1 1050,588.5 1050.1,595.2 1050.2,594.6 1050.4,598.2 1050.5,595.2 1050.6,591.6 1050.7,598.5 1050.8,587.3 1050.9,590.3 1051.1,596.6 1051.2,594.6 1051.3,591.9 1051.4,593.5 1051.5,591.6 1051.7,594 1051.8,597.4 1051.9,593.1 1052,592 1052.1,593.4 1052.3,593 1052.4,589.8 1052.5,592.6 1052.6,595.1 1052.7,590.4 1052.9,589.8 1053,591 1053.1,598.4 1053.2,598.1 1053.3,591.3 1053.4,596.4 1053.6,590.7 1053.7,594.9 1053.8,588.2 1053.9,594.7 1054,594.7 1054.2,595.6 1054.3,594.7 1054.4,595.1 1054.5,593.1 1054.6,593.2 1054.8,594.1 1054.9,591.8 1055,591.8 1055.1,590.7 1055.2,591.1 1055.3,591.2 1055.5,595.4 1055.6,594.1 1055.7,598.7 1055.8,594.1 1055.9,594.1 1056.1,590.8 1056.2,594.4 1056.3,595 1056.4,594.1 1056.5,595.1 1056.7,595.8 1056.8,598.8 1056.9,594.8 1057,589.3 1057.1,592.2 1057.3,596.9 1057.4,588.2 1057.5,594.6 1057.6,594.6 1057.7,593.6 1057.8,590.6 1058,595.9 1058.1,588.6 1058.2,589.9 1058.3,598.9 1058.4,593.9 1058.6,591.3 1058.7,587.3 1058.8,591.7 1058.9,595.9 1059,598.5 1059.2,599 1059.3,588.3 1059.4,598.3 1059.5,592.9 1059.6,593.1 1059.7,591.2 1059.9,594.9 1060,593.8 1060.1,596.3 1060.2,598.2 1060.3,595.8 1060.5,597.6 1060.6,590.9 1060.7,592.2" fill="none" stroke="#000" stroke-width="3.6" stroke-linejoin="round" stroke-linecap="round" clip-path="url(#c2)"/>
<path d="M822.6 427.5v10.4M822.6 624.3v-10.4M917.7 427.5v10.4M917.7 624.3v-10.4M1012.8 427.5v10.4M1012.8 624.3v-10.4M775.3 448.5h10.4M1060.7 448.5h-10.4M775.3 536.4h10.4M1060.7 536.4h-10.4M775.3 624.3h10.4M1060.7 624.3h-10.4" fill="none" stroke="#000" stroke-width="2.9"/>
<rect x="775.3" y="427.5" width="285.4" height="196.8" fill="none" stroke="#000" stroke-width="3.0"/>
<text x="822.3" y="662.2" font-size="32.4" text-anchor="middle" font-family='"DejaVu Sans","Liberation Sans",sans-serif'>−50</text>
<text x="917.4" y="662.2" font-size="32.4" text-anchor="middle" font-family='"DejaVu Sans","Liberation Sans",sans-serif'>0</text>
<text x="1012.5" y="662.2" font-size="32.4" text-anchor="middle" font-family='"DejaVu Sans","Liberation Sans",sans-serif'>50</text>
<text><tspan x="57.8" y="459" font-size="32.4" font-family='"DejaVu Sans","Liberation Sans",sans-serif'>10</tspan><tspan x="98.3" y="447.8" font-size="22.7" font-family='"DejaVu Sans","Liberation Sans",sans-serif'>0</tspan></text>
<text><tspan x="47.1" y="547.9" font-size="32.4" font-family='"DejaVu Sans","Liberation Sans",sans-serif'>10</tspan><tspan x="87.9" y="536.2" font-size="22.7" font-family='"DejaVu Sans","Liberation Sans",sans-serif'>-3</tspan></text>
<text><tspan x="47.1" y="636.2" font-size="32.4" font-family='"DejaVu Sans","Liberation Sans",sans-serif'>10</tspan><tspan x="87.9" y="624.5" font-size="22.7" font-family='"DejaVu Sans","Liberation Sans",sans-serif'>-6</tspan></text>
<text transform="translate(28.6 621) rotate(-90)"><tspan x="-3" y="0" font-size="32.4" font-family='"DejaVu Sans","Liberation Sans",sans-serif'>Rel. Eff. </tspan><tspan x="131.3" y="0" font-size="34" font-family='"Liberation Serif","DejaVu Serif",serif' font-style="italic">η</tspan><tspan x="150" y="4.6" font-size="40" font-family='"DejaVu Sans Light","DejaVu Sans","Liberation Sans",sans-serif' font-weight="200">/</tspan><tspan x="164.4" y="0" font-size="34" font-family='"Liberation Serif","DejaVu Serif",serif' font-style="italic">η</tspan><tspan x="179.9" y="5.9" font-size="23.3" font-family='"Liberation Serif","DejaVu Serif",serif'>0</tspan></text>
<text x="403.2" y="706.8" font-size="32.1" font-family='"DejaVu Sans","Liberation Sans",sans-serif'>Relative Detuning (kHz)</text>
<clipPath id="cb1"><rect x="1241.8" y="19.1" width="485.7" height="243.4"/></clipPath>
<polyline points="1242.1,241.9 1242.3,241.2 1242.4,242.6 1242.6,244.2 1242.7,243.1 1242.9,244.5 1243.1,241.8 1243.2,238.5 1243.4,243.2 1243.6,243.5 1243.7,240.7 1243.9,241 1244,241.7 1244.2,244.3 1244.4,242 1244.5,240.1 1244.7,245.4 1244.9,243.1 1245,246.8 1245.2,245.2 1245.3,246.7 1245.5,242.5 1245.7,245.2 1245.8,241.2 1246,241.5 1246.1,242.4 1246.3,248.4 1246.5,243.3 1246.6,242 1246.8,241.6 1247,245.9 1247.1,243.2 1247.3,244.4 1247.4,244 1247.6,239.2 1247.8,244 1247.9,242 1248.1,239.6 1248.2,243.4 1248.4,242.2 1248.6,241.6 1248.7,241.8 1248.9,245.1 1249.1,241.7 1249.2,238.4 1249.4,245.9 1249.5,239.7 1249.7,241.6 1249.9,243.6 1250,236.8 1250.2,240 1250.4,245 1250.5,241.7 1250.7,240.4 1250.8,242.4 1251,240.2 1251.2,242.1 1251.3,240.2 1251.5,238.2 1251.6,243.7 1251.8,241.4 1252,243.1 1252.1,241.6 1252.3,245 1252.5,243.4 1252.6,242.4 1252.8,239.6 1252.9,239 1253.1,245.3 1253.3,244 1253.4,240.3 1253.6,247.1 1253.7,243.1 1253.9,242.2 1254.1,238.7 1254.2,240.1 1254.4,242.8 1254.6,242.9 1254.7,242.6 1254.9,238 1255,243 1255.2,242.7 1255.4,241 1255.5,242.2 1255.7,242.4 1255.9,244.8 1256,242 1256.2,243.1 1256.3,238.9 1256.5,240.2 1256.7,242 1256.8,240.2 1257,242.8 1257.1,239.2 1257.3,241.9 1257.5,240.4 1257.6,245.2 1257.8,241 1258,246.3 1258.1,247.2 1258.3,242.7 1258.4,244.2 1258.6,241.5 1258.8,236.1 1258.9,244.1 1259.1,243.5 1259.3,241.4 1259.4,240.7 1259.6,242.4 1259.7,242.5 1259.9,240.1 1260.1,240.6 1260.2,244.6 1260.4,242.1 1260.5,241.8 1260.7,244.6 1260.9,241.3 1261,244.1 1261.2,239.4 1261.4,241.4 1261.5,241.7 1261.7,243.4 1261.8,242.2 1262,247.1 1262.2,244.8 1262.3,241 1262.5,247.4 1262.6,239.7 1262.8,246.4 1263,240 1263.1,244.1 1263.3,239.9 1263.5,241.6 1263.6,245.9 1263.8,238.7 1263.9,238.2 1264.1,242.1 1264.3,242.6 1264.4,242.3 1264.6,244.4 1264.8,239.1 1264.9,243.3 1265.1,242.1 1265.2,244 1265.4,243.5 1265.6,245.2 1265.7,238.7 1265.9,242.3 1266,239.4 1266.2,241.9 1266.4,243.7 1266.5,242.8 1266.7,243.4 1266.9,241.9 1267,242.9 1267.2,242.7 1267.3,245.5 1267.5,244 1267.7,237.7 1267.8,243.6 1268,244.6 1268.1,241.1 1268.3,238.3 1268.5,245.7 1268.6,242.5 1268.8,243.5 1269,246.5 1269.1,240 1269.3,242 1269.4,241.7 1269.6,243.9 1269.8,240.8 1269.9,243.3 1270.1,242.3 1270.3,244.8 1270.4,245.1 1270.6,238.5 1270.7,243.2 1270.9,241.2 1271.1,242 1271.2,243.1 1271.4,243.2 1271.5,240.3 1271.7,242.7 1271.9,242.3 1272,241.9 1272.2,238.9 1272.4,240.2 1272.5,240.9 1272.7,243.4 1272.8,245.5 1273,239.5 1273.2,239.4 1273.3,242.3 1273.5,240.5 1273.7,239.9 1273.8,239.8 1274,239.5 1274.1,243.1 1274.3,238 1274.5,245.1 1274.6,239.7 1274.8,240.6 1274.9,239.7 1275.1,237.1 1275.3,238.1 1275.4,244.9 1275.6,246.3 1275.8,239.8 1275.9,244.5 1276.1,242 1276.2,239.8 1276.4,246.2 1276.6,247.4 1276.7,241.3 1276.9,241.8 1277,242.6 1277.2,241.8 1277.4,244.1 1277.5,245.8 1277.7,242.4 1277.9,244.4 1278,246.2 1278.2,240.6 1278.3,242.1 1278.5,240.9 1278.7,244.5 1278.8,243.6 1279,244.5 1279.2,244.2 1279.3,241.4 1279.5,243.9 1279.6,241 1279.8,241 1280,236.7 1280.1,245.5 1280.3,239.6 1280.4,242.2 1280.6,242 1280.8,245.7 1280.9,243.1 1281.1,240 1281.3,242.1 1281.4,241.7 1281.6,242.7 1281.7,238.9 1281.9,242 1282.1,247.6 1282.2,243.7 1282.4,247 1282.5,250.2 1282.7,243.3 1282.9,238.5 1283,241.8 1283.2,244.9 1283.4,244.3 1283.5,239 1283.7,241.5 1283.8,241.8 1284,242.1 1284.2,241.8 1284.3,239.8 1284.5,240.5 1284.7,241.4 1284.8,244.6 1285,240.6 1285.1,243.7 1285.3,239.1 1285.5,245.2 1285.6,242.3 1285.8,241.9 1285.9,245.3 1286.1,237.5 1286.3,238.2 1286.4,243.1 1286.6,239.9 1286.8,240.9 1286.9,248.6 1287.1,241.3 1287.2,242.1 1287.4,241.7 1287.6,244.7 1287.7,242.6 1287.9,242.4 1288.1,238.9 1288.2,241.1 1288.4,241.9 1288.5,238 1288.7,243.3 1288.9,242.9 1289,246.6 1289.2,237.9 1289.3,239.4 1289.5,239.6 1289.7,240.2 1289.8,241.6 1290,241.4 1290.2,242.6 1290.3,242.4 1290.5,241.8 1290.6,238 1290.8,240.5 1291,242.1 1291.1,243.4 1291.3,243.6 1291.4,237.8 1291.6,240.6 1291.8,241.7 1291.9,242.8 1292.1,244.8 1292.3,242.1 1292.4,239.7 1292.6,242.9 1292.7,242.5 1292.9,242.5 1293.1,241.6 1293.2,246 1293.4,242.5 1293.6,244.1 1293.7,239.6 1293.9,243.9 1294,240.4 1294.2,238 1294.4,242.7 1294.5,243.5 1294.7,241.4 1294.8,241.9 1295,244.5 1295.2,240.7 1295.3,236.7 1295.5,242.6 1295.7,242.4 1295.8,244.6 1296,241.1 1296.1,245.1 1296.3,244.8 1296.5,238.6 1296.6,244.3 1296.8,239.1 1297,238 1297.1,241.3 1297.3,240.5 1297.4,236.9 1297.6,242.4 1297.8,243.4 1297.9,245.4 1298.1,241.8 1298.2,238.1 1298.4,239.4 1298.6,244.3 1298.7,244.1 1298.9,243.2 1299.1,241.2 1299.2,242.4 1299.4,241.4 1299.5,241.2 1299.7,242.7 1299.9,242 1300,241.4 1300.2,242.1 1300.3,240.6 1300.5,237.1 1300.7,240.4 1300.8,241.8 1301,246.3 1301.2,240.9 1301.3,246.9 1301.5,245.5 1301.6,239.7 1301.8,240.1 1302,242.3 1302.1,246.3 1302.3,242.9 1302.5,243.7 1302.6,240.3 1302.8,236.1 1302.9,241.4 1303.1,243.9 1303.3,244.9 1303.4,242.1 1303.6,242.4 1303.7,244.9 1303.9,241.6 1304.1,244.9 1304.2,239.1 1304.4,239.2 1304.6,239.1 1304.7,243.1 1304.9,240.6 1305,242.3 1305.2,242.9 1305.4,242.8 1305.5,245.3 1305.7,245.6 1305.8,239.9 1306,242.4 1306.2,241.4 1306.3,239.3 1306.5,246.4 1306.7,243.9 1306.8,241.5 1307,240.9 1307.1,242.9 1307.3,239.3 1307.5,241.4 1307.6,245 1307.8,244.3 1308,239.8 1308.1,240.7 1308.3,246.8 1308.4,238.5 1308.6,240.4 1308.8,238.5 1308.9,242.9 1309.1,242.7 1309.2,244.8 1309.4,235.4 1309.6,242.4 1309.7,237.8 1309.9,243.6 1310.1,241.5 1310.2,246.2 1310.4,242.9 1310.5,239.4 1310.7,245.1 1310.9,239.2 1311,241.1 1311.2,244.6 1311.4,243.2 1311.5,243.1 1311.7,242 1311.8,243.3 1312,244 1312.2,242.7 1312.3,244.6 1312.5,245.2 1312.6,242 1312.8,239.6 1313,245.9 1313.1,241.9 1313.3,243.6 1313.5,244.4 1313.6,239.7 1313.8,243.3 1313.9,238.1 1314.1,243.9 1314.3,240.9 1314.4,242.5 1314.6,243.9 1314.7,240.4 1314.9,242.3 1315.1,240.4 1315.2,242 1315.4,244.7 1315.6,242.2 1315.7,241.8 1315.9,239.5 1316,244.3 1316.2,242 1316.4,246.4 1316.5,240.2 1316.7,244.7 1316.9,246.6 1317,242.1 1317.2,239.1 1317.3,245.8 1317.5,244.7 1317.7,243.8 1317.8,244.8 1318,240.9 1318.1,244 1318.3,243.8 1318.5,240.4 1318.6,243.9 1318.8,240.8 1319,244.4 1319.1,245 1319.3,246.6 1319.4,237.1 1319.6,242.7 1319.8,241.3 1319.9,242 1320.1,241.5 1320.2,241.8 1320.4,237 1320.6,244.6 1320.7,245.9 1320.9,244.5 1321.1,245.4 1321.2,240 1321.4,239.8 1321.5,244.4 1321.7,245.5 1321.9,242.8 1322,238.3 1322.2,249.2 1322.4,240.6 1322.5,244.7 1322.7,239.2 1322.8,244.7 1323,156.6 1323.2,245.8 1323.3,244.4 1323.5,238.4 1323.6,239.8 1323.8,243 1324,244.2 1324.1,246.8 1324.3,242.9 1324.5,242 1324.6,242.1 1324.8,242.2 1324.9,244.8 1325.1,242.1 1325.3,242 1325.4,238.6 1325.6,237.1 1325.8,242.3 1325.9,243.9 1326.1,242.1 1326.2,243.5 1326.4,243.8 1326.6,242.1 1326.7,244.6 1326.9,240.4 1327,242.2 1327.2,241.3 1327.4,242.4 1327.5,243.8 1327.7,244.4 1327.9,242.5 1328,243.3 1328.2,241.3 1328.3,241.9 1328.5,245.4 1328.7,241.7 1328.8,245.4 1329,243.5 1329.1,242.7 1329.3,247.3 1329.5,241.7 1329.6,241.5 1329.8,242.3 1330,243 1330.1,242.9 1330.3,244.4 1330.4,242.6 1330.6,243.3 1330.8,241.7 1330.9,245 1331.1,241.3 1331.3,241.5 1331.4,242.3 1331.6,243 1331.7,240.5 1331.9,246.2 1332.1,240.7 1332.2,241.3 1332.4,241.2 1332.5,240.9 1332.7,243.6 1332.9,242.6 1333,240.3 1333.2,240.8 1333.4,241.4 1333.5,245.8 1333.7,240.5 1333.8,238.9 1334,239.3 1334.2,241.3 1334.3,245.9 1334.5,239.5 1334.6,242.3 1334.8,248.4 1335,240.9 1335.1,245.8 1335.3,245.3 1335.5,243.6 1335.6,238.6 1335.8,242.9 1335.9,241.2 1336.1,237.4 1336.3,237.8 1336.4,242.2 1336.6,242.5 1336.8,245.2 1336.9,243.7 1337.1,240.8 1337.2,240.9 1337.4,241.6 1337.6,239.4 1337.7,243.9 1337.9,242.1 1338,240 1338.2,240.4 1338.4,239.2 1338.5,240.9 1338.7,242.7 1338.9,241 1339,244.5 1339.2,246.1 1339.3,240.4 1339.5,242.1 1339.7,241.1 1339.8,246.3 1340,242.9 1340.2,243.5 1340.3,244.1 1340.5,247.7 1340.6,242.8 1340.8,239.6 1341,240.9 1341.1,243.5 1341.3,242 1341.4,240 1341.6,249 1341.8,242.2 1341.9,240.5 1342.1,240.2 1342.3,237.5 1342.4,239 1342.6,241.1 1342.7,241.1 1342.9,239.9 1343.1,243.3 1343.2,242 1343.4,239.6 1343.5,236.9 1343.7,242.3 1343.9,242 1344,241.4 1344.2,238.5 1344.4,242 1344.5,238.1 1344.7,244.4 1344.8,242.4 1345,242.4 1345.2,239.9 1345.3,239.2 1345.5,245.8 1345.7,244.3 1345.8,241 1346,243.6 1346.1,245.8 1346.3,239.2 1346.5,240.6 1346.6,240.6 1346.8,243.1 1346.9,239.3 1347.1,242.5 1347.3,239.1 1347.4,244.3 1347.6,244.1 1347.8,241.4 1347.9,243.7 1348.1,240.2 1348.2,241.2 1348.4,244.3 1348.6,241.7 1348.7,242.8 1348.9,239.6 1349,243.5 1349.2,243 1349.4,238.8 1349.5,236.2 1349.7,236.8 1349.9,241.8 1350,241.4 1350.2,238 1350.3,242.2 1350.5,244.4 1350.7,241.6 1350.8,240.8 1351,244 1351.2,246.2 1351.3,245.6 1351.5,240.2 1351.6,243.9 1351.8,242.3 1352,241.4 1352.1,240.3 1352.3,242.8 1352.4,240.6 1352.6,244.2 1352.8,242.8 1352.9,244.6 1353.1,239 1353.3,242 1353.4,243.8 1353.6,242.8 1353.7,242.5 1353.9,240.1 1354.1,246 1354.2,244.6 1354.4,242.9 1354.6,235.4 1354.7,239.5 1354.9,242.2 1355,240.1 1355.2,236.6 1355.4,242.5 1355.5,242.9 1355.7,238.8 1355.8,240.6 1356,240.2 1356.2,243.2 1356.3,237 1356.5,237.5 1356.7,240.5 1356.8,240.2 1357,247.1 1357.1,240.3 1357.3,242.4 1357.5,240.8 1357.6,240.2 1357.8,242.8 1357.9,246.3 1358.1,241 1358.3,243.8 1358.4,242.8 1358.6,243.5 1358.8,242.8 1358.9,247.9 1359.1,238.8 1359.2,241.3 1359.4,239.1 1359.6,236.8 1359.7,241.9 1359.9,246.6 1360.1,244.2 1360.2,245 1360.4,243.2 1360.5,241.7 1360.7,247.1 1360.9,241 1361,245.8 1361.2,241.1 1361.3,242.2 1361.5,242.7 1361.7,242.1 1361.8,243.3 1362,243.5 1362.2,246.2 1362.3,242 1362.5,237.2 1362.6,236.8 1362.8,238.5 1363,240.1 1363.1,243.7 1363.3,238.2 1363.5,242.1 1363.6,242.1 1363.8,242.7 1363.9,241.7 1364.1,243 1364.3,242.1 1364.4,244.7 1364.6,242.9 1364.7,236 1364.9,242.1 1365.1,242.5 1365.2,240.5 1365.4,240.1 1365.6,244.8 1365.7,242.4 1365.9,239.5 1366,241.2 1366.2,241.6 1366.4,237.9 1366.5,243.7 1366.7,241.7 1366.8,243.2 1367,238.1 1367.2,246.9 1367.3,243.6 1367.5,243.3 1367.7,240.2 1367.8,240.4 1368,238.3 1368.1,246 1368.3,240 1368.5,242.7 1368.6,243.6 1368.8,240.5 1369,244.3 1369.1,247.3 1369.3,242.9 1369.4,245.8 1369.6,243.6 1369.8,241 1369.9,241.1 1370.1,237.8 1370.2,242.4 1370.4,245.9 1370.6,243.9 1370.7,244.3 1370.9,245 1371.1,240.8 1371.2,243.6 1371.4,247 1371.5,240.1 1371.7,242.2 1371.9,241 1372,241.6 1372.2,240.3 1372.3,241.8 1372.5,238.7 1372.7,240.8 1372.8,240.9 1373,240.9 1373.2,245.7 1373.3,242.3 1373.5,242.6 1373.6,241.4 1373.8,245.4 1374,237.7 1374.1,241.6 1374.3,245 1374.5,246.3 1374.6,242.6 1374.8,242.1 1374.9,243.8 1375.1,241.7 1375.3,243.6 1375.4,240.5 1375.6,243.8 1375.7,242 1375.9,239.4 1376.1,235.3 1376.2,244.5 1376.4,243.1 1376.6,244.1 1376.7,239.9 1376.9,244.9 1377,243.2 1377.2,242 1377.4,244.4 1377.5,244.4 1377.7,243.1 1377.9,247.3 1378,245.6 1378.2,243 1378.3,241.5 1378.5,242.4 1378.7,246.5 1378.8,243.1 1379,239.9 1379.1,240.5 1379.3,242.1 1379.5,244.2 1379.6,240.3 1379.8,243.4 1380,244.9 1380.1,244 1380.3,238.2 1380.4,241.3 1380.6,238.9 1380.8,243.1 1380.9,239.5 1381.1,243.5 1381.2,242.3 1381.4,235.5 1381.6,239.9 1381.7,243.2 1381.9,242.1 1382.1,241.1 1382.2,238.8 1382.4,243.2 1382.5,246.4 1382.7,242.6 1382.9,241.9 1383,241.6 1383.2,238.5 1383.4,241.1 1383.5,239.8 1383.7,244.7 1383.8,239.7 1384,236.5 1384.2,239.9 1384.3,241.3 1384.5,241.5 1384.6,237.3 1384.8,244.3 1385,242.2 1385.1,240.7 1385.3,240 1385.5,243 1385.6,241.1 1385.8,242.6 1385.9,241.6 1386.1,242.2 1386.3,244.8 1386.4,242 1386.6,239.6 1386.7,244.4 1386.9,242.5 1387.1,240.2 1387.2,244.7 1387.4,241.4 1387.6,244.6 1387.7,239 1387.9,236 1388,236.7 1388.2,242.5 1388.4,240 1388.5,241.6 1388.7,241.6 1388.9,237.9 1389,245.3 1389.2,239.2 1389.3,242 1389.5,238.3 1389.7,241.4 1389.8,243.6 1390,241.2 1390.1,240 1390.3,241.8 1390.5,240.6 1390.6,243.2 1390.8,247.4 1391,239.6 1391.1,240.1 1391.3,241.5 1391.4,241.7 1391.6,239.2 1391.8,243.1 1391.9,243.7 1392.1,242.4 1392.3,238.8 1392.4,245.5 1392.6,238.8 1392.7,243.5 1392.9,244.7 1393.1,238.7 1393.2,242.2 1393.4,245.2 1393.5,242.8 1393.7,239.5 1393.9,238.8 1394,243 1394.2,240.9 1394.4,240.1 1394.5,243.6 1394.7,241 1394.8,242 1395,243.3 1395.2,243.2 1395.3,241.7 1395.5,241.8 1395.6,243.4 1395.8,243 1396,239 1396.1,241.3 1396.3,239.6 1396.5,238.8 1396.6,240.4 1396.8,236.1 1396.9,244 1397.1,239.8 1397.3,242.7 1397.4,237.1 1397.6,237.5 1397.8,246.9 1397.9,244.4 1398.1,240.2 1398.2,239.9 1398.4,240 1398.6,242.1 1398.7,240.7 1398.9,240.2 1399,242.1 1399.2,239.3 1399.4,247.7 1399.5,240.3 1399.7,244.6 1399.9,239.4 1400,242.5 1400.2,244.2 1400.3,240.9 1400.5,244.2 1400.7,244.2 1400.8,245.9 1401,242 1401.1,240.6 1401.3,239.3 1401.5,242.3 1401.6,239.2 1401.8,241.8 1402,242.1 1402.1,240.4 1402.3,239.2 1402.4,242.8 1402.6,242.5 1402.8,242.3 1402.9,241.7 1403.1,244.2 1403.3,239.2 1403.4,242.9 1403.6,240.7 1403.7,244 1403.9,241 1404.1,240.9 1404.2,243 1404.4,236.7 1404.5,240.9 1404.7,237.3 1404.9,239.4 1405,243.6 1405.2,242.9 1405.4,240.8 1405.5,241.7 1405.7,241.8 1405.8,242.6 1406,246.5 1406.2,242.5 1406.3,247.6 1406.5,240.9 1406.7,243.8 1406.8,243.7 1407,242.5 1407.1,241.2 1407.3,245.6 1407.5,246.4 1407.6,244.6 1407.8,247.1 1407.9,244.4 1408.1,237.8 1408.3,244.6 1408.4,240.2 1408.6,245.4 1408.8,241.1 1408.9,242.7 1409.1,242 1409.2,240.4 1409.4,237.4 1409.6,241.4 1409.7,241.6 1409.9,244.4 1410,240.4 1410.2,242.5 1410.4,239.7 1410.5,242 1410.7,237.4 1410.9,247 1411,242.7 1411.2,239.6 1411.3,242.8 1411.5,243.9 1411.7,242.6 1411.8,245.4 1412,241.6 1412.2,235.6 1412.3,238.9 1412.5,244.7 1412.6,244.1 1412.8,242.9 1413,239.3 1413.1,244 1413.3,243.7 1413.4,239.6 1413.6,239.7 1413.8,242.8 1413.9,244.8 1414.1,245.9 1414.3,243.7 1414.4,247.6 1414.6,240 1414.7,243.5 1414.9,240.6 1415.1,237.1 1415.2,238.9 1415.4,244.8 1415.5,239.6 1415.7,238.9 1415.9,243.8 1416,244.3 1416.2,242.2 1416.4,246 1416.5,238.1 1416.7,248.1 1416.8,244.7 1417,242.6 1417.2,242.5 1417.3,241.5 1417.5,241.2 1417.7,242.4 1417.8,239 1418,247.4 1418.1,241.9 1418.3,243.7 1418.5,241.5 1418.6,241.3 1418.8,244.2 1418.9,243.5 1419.1,239.8 1419.3,241 1419.4,243.6 1419.6,236.6 1419.8,235.9 1419.9,245.6 1420.1,241.1 1420.2,235.4 1420.4,239.9 1420.6,241.3 1420.7,242.4 1420.9,243.3 1421.1,242.4 1421.2,243.3 1421.4,240 1421.5,242.9 1421.7,243 1421.9,245 1422,242 1422.2,244.2 1422.3,242.3 1422.5,239.2 1422.7,240.9 1422.8,240.6 1423,241 1423.2,241.7 1423.3,242.2 1423.5,242.7 1423.6,239.9 1423.8,244.7 1424,238.4 1424.1,241.8 1424.3,243.8 1424.4,243.1 1424.6,243.6 1424.8,241.5 1424.9,243.7 1425.1,238.9 1425.3,243.9 1425.4,247.7 1425.6,243.7 1425.7,247 1425.9,242 1426.1,239.1 1426.2,240.2 1426.4,245.3 1426.6,243.8 1426.7,237.3 1426.9,241 1427,241.9 1427.2,239.1 1427.4,235.5 1427.5,238.5 1427.7,241.5 1427.8,240.9 1428,240.3 1428.2,243.4 1428.3,244.6 1428.5,241.7 1428.7,244.3 1428.8,242 1429,241.6 1429.1,235.8 1429.3,244 1429.5,242.2 1429.6,242.3 1429.8,240.7 1429.9,239.2 1430.1,243.1 1430.3,244 1430.4,246.1 1430.6,244.2 1430.8,240.5 1430.9,241.7 1431.1,244.5 1431.2,242.8 1431.4,241.8 1431.6,240.6 1431.7,243.4 1431.9,242.5 1432.1,246.5 1432.2,244.8 1432.4,237.7 1432.5,247.5 1432.7,242.7 1432.9,241.3 1433,242.8 1433.2,243.9 1433.3,242 1433.5,241.9 1433.7,242.1 1433.8,246.7 1434,242.2 1434.2,244 1434.3,243.3 1434.5,241.3 1434.6,240.2 1434.8,239.5 1435,243.1 1435.1,239.5 1435.3,238.8 1435.5,238.9 1435.6,238.3 1435.8,242.2 1435.9,242.3 1436.1,239.7 1436.3,245.4 1436.4,241.3 1436.6,243.2 1436.7,242.8 1436.9,246.3 1437.1,244.1 1437.2,241.9 1437.4,239.5 1437.6,239.3 1437.7,242 1437.9,242.3 1438,244 1438.2,240.8 1438.4,242.5 1438.5,240.3 1438.7,237.3 1438.8,241.9 1439,245.7 1439.2,244 1439.3,245.6 1439.5,244.9 1439.7,238.5 1439.8,241.2 1440,245.7 1440.1,240.1 1440.3,238.6 1440.5,242.7 1440.6,243.6 1440.8,242.7 1441,241.1 1441.1,240.2 1441.3,238.8 1441.4,238.7 1441.6,238.8 1441.8,238.3 1441.9,240.1 1442.1,245.8 1442.2,242.1 1442.4,241 1442.6,242.8 1442.7,239.5 1442.9,242.7 1443.1,244.2 1443.2,238.1 1443.4,240.1 1443.5,241.2 1443.7,239.4 1443.9,239.1 1444,240.9 1444.2,248.1 1444.3,243.5 1444.5,243 1444.7,244.3 1444.8,241.3 1445,238.7 1445.2,243 1445.3,244.7 1445.5,236.6 1445.6,243 1445.8,245 1446,241.2 1446.1,240.7 1446.3,243.6 1446.5,239.7 1446.6,243 1446.8,244.2 1446.9,241.3 1447.1,239.8 1447.3,243.4 1447.4,240.9 1447.6,242 1447.7,234.5 1447.9,243.6 1448.1,238.2 1448.2,241.9 1448.4,242.1 1448.6,239.9 1448.7,239.5 1448.9,238.5 1449,240.9 1449.2,243.3 1449.4,243.1 1449.5,240.4 1449.7,240.3 1449.9,238.2 1450,240.7 1450.2,239 1450.3,237.8 1450.5,241.3 1450.7,245.6 1450.8,244.8 1451,245.4 1451.1,237.6 1451.3,243.9 1451.5,238.6 1451.6,240.2 1451.8,237.3 1452,239.2 1452.1,242 1452.3,242.2 1452.4,241.5 1452.6,241.3 1452.8,243.1 1452.9,241.8 1453.1,237.6 1453.2,246.1 1453.4,241.1 1453.6,244 1453.7,241.2 1453.9,239.5 1454.1,241.9 1454.2,239.7 1454.4,245.8 1454.5,238.9 1454.7,243.3 1454.9,240.1 1455,241.2 1455.2,248.3 1455.4,243.6 1455.5,241.1 1455.7,237.7 1455.8,240.9 1456,241 1456.2,245.3 1456.3,238 1456.5,237 1456.6,241.6 1456.8,242.2 1457,245.8 1457.1,239.4 1457.3,234.7 1457.5,239.8 1457.6,238.4 1457.8,240.2 1457.9,244.2 1458.1,238.2 1458.3,244.8 1458.4,242.2 1458.6,240.9 1458.8,239.4 1458.9,240.5 1459.1,240.6 1459.2,243.6 1459.4,244.9 1459.6,241.4 1459.7,243.4 1459.9,245 1460,244.8 1460.2,242.8 1460.4,246.4 1460.5,245 1460.7,245.8 1460.9,241.1 1461,240.5 1461.2,236.4 1461.3,245.4 1461.5,243.3 1461.7,239.2 1461.8,242.1 1462,242.4 1462.1,237.1 1462.3,242.4 1462.5,244.5 1462.6,244.9 1462.8,240.6 1463,240.7 1463.1,245 1463.3,244 1463.4,240.1 1463.6,240 1463.8,243.1 1463.9,239.9 1464.1,240 1464.3,246 1464.4,242.2 1464.6,240.4 1464.7,242.9 1464.9,246.9 1465.1,242.1 1465.2,239.5 1465.4,237.3 1465.5,247 1465.7,234.6 1465.9,244.3 1466,238.9 1466.2,238.2 1466.4,238.8 1466.5,240.9 1466.7,244.3 1466.8,239.7 1467,243.1 1467.2,247.8 1467.3,234 1467.5,239.4 1467.6,236.6 1467.8,243.6 1468,237.4 1468.1,237.1 1468.3,237.2 1468.5,241.2 1468.6,244.3 1468.8,241.6 1468.9,246.8 1469.1,245.5 1469.3,240.9 1469.4,243.6 1469.6,241.5 1469.8,241.3 1469.9,236.1 1470.1,237.7 1470.2,241.1 1470.4,237.9 1470.6,243 1470.7,241.8 1470.9,238.6 1471,244.1 1471.2,241.6 1471.4,244.3 1471.5,240.5 1471.7,236.6 1471.9,242.7 1472,240.2 1472.2,243 1472.3,243.7 1472.5,243.9 1472.7,236.9 1472.8,234.5 1473,239.3 1473.2,242.4 1473.3,238.7 1473.5,241.3 1473.6,238.4 1473.8,239.6 1474,239.6 1474.1,238.7 1474.3,241.8 1474.4,241.3 1474.6,244.6 1474.8,241.3 1474.9,243.7 1475.1,240.4 1475.3,242.4 1475.4,239.6 1475.6,238.7 1475.7,243.4 1475.9,241.8 1476.1,242.1 1476.2,237.7 1476.4,235.1 1476.5,237.2 1476.7,240.3 1476.9,235.5 1477,243.1 1477.2,235.2 1477.4,240.7 1477.5,246 1477.7,232 1477.8,234.6 1478,241.2 1478.2,238 1478.3,238.9 1478.5,237.9 1478.7,241.9 1478.8,239.6 1479,236.5 1479.1,237 1479.3,234.3 1479.5,237 1479.6,231 1479.8,238.7 1479.9,236 1480.1,241.4 1480.3,239.4 1480.4,232.6 1480.6,238.2 1480.8,234.1 1480.9,235.4" fill="none" stroke="#333" stroke-width="3.9" stroke-linejoin="round" stroke-linecap="round" clip-path="url(#cb1)"/>
<polyline points="1488.7,230 1488.8,232.4 1489,233.8 1489.2,236.9 1489.3,236.5 1489.5,235 1489.7,235.6 1489.8,241.3 1490,235.1 1490.1,229.5 1490.3,242.3 1490.5,235 1490.6,236.8 1490.8,238.2 1490.9,234.4 1491.1,241.3 1491.3,237.9 1491.4,234.6 1491.6,239.1 1491.8,239.8 1491.9,238.5 1492.1,240.1 1492.2,234.9 1492.4,241.5 1492.6,236.9 1492.7,242.6 1492.9,237.6 1493.1,239.7 1493.2,246.3 1493.4,239.6 1493.5,242.5 1493.7,240.9 1493.9,235.7 1494,242.8 1494.2,242.7 1494.3,236.2 1494.5,239.7 1494.7,236 1494.8,239.3 1495,242.5 1495.2,240.4 1495.3,237 1495.5,237.8 1495.6,240.4 1495.8,240.3 1496,240.7 1496.1,242 1496.3,235.4 1496.4,240.5 1496.6,243.6 1496.8,241.9 1496.9,238.7 1497.1,239 1497.3,241.1 1497.4,242.5 1497.6,240.7 1497.7,245.2 1497.9,244.3 1498.1,238.7 1498.2,242.1 1498.4,239.9 1498.6,237.7 1498.7,239.2 1498.9,240.9 1499,235.3 1499.2,239.2 1499.4,241.9 1499.5,239.1 1499.7,240 1499.8,243.3 1500,240.9 1500.2,241.5 1500.3,246.3 1500.5,241.6 1500.7,241.9 1500.8,242.3 1501,245.5 1501.1,242.1 1501.3,241.3 1501.5,240.9 1501.6,244.2 1501.8,239.6 1502,244.5 1502.1,241.9 1502.3,237.8 1502.4,243.1 1502.6,242.6 1502.8,238.5 1502.9,242.3 1503.1,242.1 1503.2,240.8 1503.4,238.6 1503.6,247.2 1503.7,243.6 1503.9,244 1504.1,244.3 1504.2,243.7 1504.4,243.6 1504.5,240.6 1504.7,243.8 1504.9,241.1 1505,240.4 1505.2,243.4 1505.3,241.1 1505.5,237.1 1505.7,240.6 1505.8,243.1 1506,241.6 1506.2,243.9 1506.3,240.8 1506.5,239.2 1506.6,243.7 1506.8,242.1 1507,238.6 1507.1,242.8 1507.3,241 1507.5,244.2 1507.6,243.7 1507.8,242.9 1507.9,235.9 1508.1,242.6 1508.3,242.9 1508.4,243 1508.6,242 1508.7,239.9 1508.9,241.1 1509.1,236.3 1509.2,241 1509.4,237.9 1509.6,240.9 1509.7,240 1509.9,245.3 1510,241.9 1510.2,241.8 1510.4,242.2 1510.5,247.2 1510.7,239.4 1510.8,242.6 1511,242.8 1511.2,242.3 1511.3,242.2 1511.5,240.6 1511.7,244.9 1511.8,244 1512,240.9 1512.1,241.3 1512.3,242.6 1512.5,243.1 1512.6,243.8 1512.8,241.8 1513,238.6 1513.1,244.4 1513.3,237.8 1513.4,239.5 1513.6,242.8 1513.8,239.7 1513.9,245.5 1514.1,246.1 1514.2,245 1514.4,242.7 1514.6,242.5 1514.7,243 1514.9,241.4 1515.1,247.2 1515.2,240.4 1515.4,245.4 1515.5,243.4 1515.7,242.8 1515.9,244.7 1516,245.2 1516.2,244.3 1516.4,241.7 1516.5,240.2 1516.7,240.3 1516.8,244.3 1517,243.8 1517.2,244.1 1517.3,240.6 1517.5,247 1517.6,238.5 1517.8,243 1518,243.8 1518.1,240.9 1518.3,239.1 1518.5,240.9 1518.6,239 1518.8,241.4 1518.9,238.6 1519.1,238.5 1519.3,242 1519.4,238 1519.6,241.3 1519.7,241.5 1519.9,244.1 1520.1,242.5 1520.2,239.8 1520.4,245.1 1520.6,240.1 1520.7,240.9 1520.9,241.1 1521,247.4 1521.2,242 1521.4,240.1 1521.5,243.7 1521.7,241.5 1521.9,247.9 1522,240 1522.2,243.5 1522.3,239.5 1522.5,246.5 1522.7,240 1522.8,242.4 1523,239.7 1523.1,244.2 1523.3,243.4 1523.5,236 1523.6,243.9 1523.8,243.6 1524,242.5 1524.1,244.4 1524.3,238.7 1524.4,237.4 1524.6,243.6 1524.8,246.2 1524.9,238.8 1525.1,238.9 1525.2,239.7 1525.4,238.8 1525.6,244 1525.7,242.2 1525.9,245.4 1526.1,245.5 1526.2,239.3 1526.4,243.5 1526.5,235.9 1526.7,241.6 1526.9,243.5 1527,239.8 1527.2,237.2 1527.4,240.6 1527.5,244.9 1527.7,240.9 1527.8,238.3 1528,243.1 1528.2,243.8 1528.3,239.2 1528.5,241.5 1528.6,244.7 1528.8,242.8 1529,243.8 1529.1,241.1 1529.3,241.5 1529.5,238.9 1529.6,240 1529.8,245.8 1529.9,240.8 1530.1,239.5 1530.3,240.7 1530.4,239.2 1530.6,243.2 1530.8,244.3 1530.9,239.4 1531.1,244.6 1531.2,247.4 1531.4,239.2 1531.6,243.7 1531.7,242.6 1531.9,245.4 1532,245.2 1532.2,244.8 1532.4,242.8 1532.5,240.9 1532.7,247.7 1532.9,239.9 1533,244.9 1533.2,244.6 1533.3,240.1 1533.5,242 1533.7,245.8 1533.8,237.1 1534,244.1 1534.1,241.2 1534.3,241.3 1534.5,238.2 1534.6,243 1534.8,239.2 1535,243.8 1535.1,239 1535.3,243.8 1535.4,242.8 1535.6,237 1535.8,241 1535.9,241.6 1536.1,236.1 1536.3,240.9 1536.4,243.9 1536.6,240 1536.7,244.9 1536.9,238.9 1537.1,238.7 1537.2,243.3 1537.4,243.5 1537.5,241.4 1537.7,241.8 1537.9,244.4 1538,240.4 1538.2,247.1 1538.4,243 1538.5,242.9 1538.7,242.6 1538.8,241.1 1539,245 1539.2,240.3 1539.3,242.3 1539.5,243.5 1539.7,245.4 1539.8,244.9 1540,240.9 1540.1,244.3 1540.3,241.7 1540.5,239.1 1540.6,239.2 1540.8,237.8 1540.9,242.6 1541.1,244.7 1541.3,239.2 1541.4,241.1 1541.6,239 1541.8,241.8 1541.9,238.8 1542.1,239.7 1542.2,240 1542.4,240.6 1542.6,240.8 1542.7,241.3 1542.9,241.3 1543,239.3 1543.2,243.2 1543.4,237.4 1543.5,242.1 1543.7,239.3 1543.9,242.1 1544,242.5 1544.2,236.6 1544.3,242.7 1544.5,245.2 1544.7,243.7 1544.8,242.7 1545,236.3 1545.2,241.3 1545.3,239.5 1545.5,244.4 1545.6,241 1545.8,240.1 1546,237.2 1546.1,243.7 1546.3,240.3 1546.4,241.1 1546.6,244.5 1546.8,241.9 1546.9,242.5 1547.1,247.9 1547.3,240.3 1547.4,240.5 1547.6,243 1547.7,245.3 1547.9,238.1 1548.1,241.2 1548.2,239.3 1548.4,238.2 1548.5,243.2 1548.7,239.8 1548.9,242.5 1549,242 1549.2,242.1 1549.4,241.9 1549.5,239 1549.7,241.6 1549.8,242.3 1550,242.6 1550.2,241 1550.3,244.2 1550.5,243.2 1550.7,242 1550.8,243.3 1551,242.2 1551.1,243.5 1551.3,236.7 1551.5,238.5 1551.6,240.7 1551.8,242 1551.9,236.2 1552.1,241 1552.3,242.1 1552.4,241.1 1552.6,241.1 1552.8,238.3 1552.9,241.9 1553.1,236.5 1553.2,244.2 1553.4,240.1 1553.6,244.5 1553.7,237.2 1553.9,242.7 1554.1,242 1554.2,239.5 1554.4,238.7 1554.5,244.7 1554.7,242.8 1554.9,245.5 1555,241.5 1555.2,242.1 1555.3,242.8 1555.5,243.6 1555.7,242.9 1555.8,243.8 1556,240.5 1556.2,238 1556.3,246.9 1556.5,242.2 1556.6,243 1556.8,240.6 1557,244.3 1557.1,242.3 1557.3,244.6 1557.4,240.1 1557.6,241.6 1557.8,242.3 1557.9,240.9 1558.1,242.5 1558.3,245.9 1558.4,240.4 1558.6,241.1 1558.7,242.3 1558.9,239.4 1559.1,238.8 1559.2,244.7 1559.4,243.9 1559.6,237.9 1559.7,238.2 1559.9,243.8 1560,244.9 1560.2,243.5 1560.4,243.2 1560.5,246 1560.7,241.8 1560.8,245.2 1561,245 1561.2,239.5 1561.3,243.6 1561.5,242.1 1561.7,240.3 1561.8,239.8 1562,242.8 1562.1,241.8 1562.3,244 1562.5,237.4 1562.6,240.2 1562.8,244.7 1562.9,241.9 1563.1,240.1 1563.3,240.7 1563.4,237.2 1563.6,238.4 1563.8,243.3 1563.9,242.1 1564.1,245.2 1564.2,241.3 1564.4,241.5 1564.6,234.9 1564.7,241.6 1564.9,247.3 1565.1,243.6 1565.2,241.6 1565.4,245.1 1565.5,244.1 1565.7,242.8 1565.9,241 1566,242.3 1566.2,244.2 1566.3,239.9 1566.5,243.3 1566.7,243.2 1566.8,245.4 1567,243.9 1567.2,240.2 1567.3,246.1 1567.5,242.1 1567.6,240 1567.8,242.9 1568,241.3 1568.1,244.8 1568.3,238.5 1568.5,239.1 1568.6,241.3 1568.8,246.4 1568.9,244.6 1569.1,239.4 1569.3,237.5 1569.4,241.1 1569.6,238.7 1569.7,243.5 1569.9,242.4 1570.1,241.9 1570.2,240.8 1570.4,245.8 1570.6,239.5 1570.7,238.5 1570.9,244.9 1571,245.4 1571.2,241 1571.4,243.6 1571.5,248 1571.7,239.8 1571.8,241.5 1572,243.1 1572.2,236.5 1572.3,241.5 1572.5,243.8 1572.7,241.6 1572.8,244.6 1573,243.9 1573.1,240.9 1573.3,243.3 1573.5,243.1 1573.6,237.6 1573.8,239.7 1574,239.8 1574.1,240.5 1574.3,240.7 1574.4,238.2 1574.6,242 1574.8,237.1 1574.9,244.3 1575.1,242.6 1575.2,245.4 1575.4,242.8 1575.6,240.6 1575.7,238.2 1575.9,243.6 1576.1,241.9 1576.2,242.8 1576.4,243.8 1576.5,245 1576.7,241.7 1576.9,246.4 1577,241.6 1577.2,241.8 1577.3,243.6 1577.5,244.5 1577.7,245.5 1577.8,237.1 1578,245.4 1578.2,237.9 1578.3,240.4 1578.5,242.8 1578.6,244.9 1578.8,239.2 1579,237.5 1579.1,244.3 1579.3,242.7 1579.5,239.2 1579.6,241 1579.8,236.8 1579.9,243.4 1580.1,240.5 1580.3,245.1 1580.4,236.5 1580.6,243.8 1580.7,247.6 1580.9,242.2 1581.1,242.3 1581.2,237 1581.4,242.8 1581.6,241.9 1581.7,240.4 1581.9,237.8 1582,242.1 1582.2,239.2 1582.4,240.6 1582.5,242.7 1582.7,241.7 1582.9,241.8 1583,244.3 1583.2,238.8 1583.3,245.5 1583.5,238.9 1583.7,239.4 1583.8,242.1 1584,243.9 1584.1,242.5 1584.3,240.7 1584.5,240 1584.6,241.2 1584.8,239.4 1585,243.3 1585.1,241.3 1585.3,245.9 1585.4,239.9 1585.6,241.5 1585.8,243 1585.9,238.9 1586.1,240.1 1586.2,249.2 1586.4,241.8 1586.6,245.7 1586.7,239.2 1586.9,235.5 1587.1,243.2 1587.2,241.7 1587.4,242.6 1587.5,241 1587.7,240.2 1587.9,238.6 1588,244.4 1588.2,237.9 1588.4,244.3 1588.5,241.2 1588.7,238.9 1588.8,240.1 1589,244.3 1589.2,243.7 1589.3,243.1 1589.5,242 1589.6,239 1589.8,245.2 1590,240.7 1590.1,240.3 1590.3,240.5 1590.5,240.7 1590.6,238 1590.8,240.7 1590.9,239.7 1591.1,240.5 1591.3,237.3 1591.4,246.8 1591.6,238.6 1591.7,242.6 1591.9,242.6 1592.1,244.4 1592.2,246.7 1592.4,242.9 1592.6,243.7 1592.7,240.6 1592.9,245.7 1593,238.2 1593.2,241.2 1593.4,242.5 1593.5,243.7 1593.7,243.9 1593.9,244.8 1594,243.3 1594.2,241.9 1594.3,242.4 1594.5,245.5 1594.7,242.6 1594.8,244.2 1595,241.5 1595.1,237.1 1595.3,240.3 1595.5,242.7 1595.6,246.1 1595.8,245.6 1596,246.3 1596.1,240 1596.3,243.9 1596.4,241.7 1596.6,243.5 1596.8,241.7 1596.9,238.3 1597.1,243.7 1597.3,242.8 1597.4,244 1597.6,239.7 1597.7,244.5 1597.9,244.8 1598.1,245.5 1598.2,245.5 1598.4,240.7 1598.5,235.3 1598.7,244.5 1598.9,239.5 1599,241.3 1599.2,244.7 1599.4,242.6 1599.5,242.5 1599.7,243.7 1599.8,236.9 1600,246.8 1600.2,240.9 1600.3,241.1 1600.5,243.4 1600.6,241.5 1600.8,239.7 1601,241.5 1601.1,240.8 1601.3,240.1 1601.5,247.1 1601.6,238.1 1601.8,236 1601.9,239.4 1602.1,239.3 1602.3,245.5 1602.4,242.2 1602.6,244 1602.8,243.4 1602.9,239.4 1603.1,244 1603.2,242.2 1603.4,246.8 1603.6,242.3 1603.7,241.7 1603.9,243.7 1604,243.8 1604.2,237.1 1604.4,245 1604.5,244.6 1604.7,244 1604.9,238.8 1605,236.5 1605.2,241.1 1605.3,243.8 1605.5,243 1605.7,239.2 1605.8,244.3 1606,238.2 1606.1,238.3 1606.3,241.7 1606.5,240.2 1606.6,240 1606.8,237.9 1607,244.6 1607.1,238.9 1607.3,242.9 1607.4,243.9 1607.6,241.6 1607.8,242.5 1607.9,244.5 1608.1,246 1608.3,244.3 1608.4,238.2 1608.6,236.9 1608.7,240.2 1608.9,238.9 1609.1,243.2 1609.2,242.1 1609.4,241.2 1609.5,244.7 1609.7,244.5 1609.9,241.7 1610,242.7 1610.2,244.7 1610.4,240.9 1610.5,242.6 1610.7,239.3 1610.8,241.9 1611,242.7 1611.2,241.6 1611.3,242.4 1611.5,243.6 1611.7,242.9 1611.8,240 1612,240.2 1612.1,238.6 1612.3,246.3 1612.5,242.9 1612.6,243 1612.8,241.5 1612.9,243.1 1613.1,243.2 1613.3,239.9 1613.4,241.5 1613.6,244.9 1613.8,238.5 1613.9,239.3 1614.1,243.4 1614.2,239.8 1614.4,243.8 1614.6,239 1614.7,242.5 1614.9,244 1615,242.9 1615.2,243.9 1615.4,241.4 1615.5,241.5 1615.7,241.8 1615.9,243.3 1616,250.2 1616.2,241.7 1616.3,246.8 1616.5,241.3 1616.7,239 1616.8,241.2 1617,242.9 1617.2,242.4 1617.3,242.3 1617.5,243.3 1617.6,243.4 1617.8,244.3 1618,238.9 1618.1,242 1618.3,239.5 1618.4,242.6 1618.6,241.7 1618.8,242.4 1618.9,240.7 1619.1,239.8 1619.3,241.3 1619.4,243.6 1619.6,243.9 1619.7,237.6 1619.9,242.6 1620.1,242.7 1620.2,238.1 1620.4,239.1 1620.6,240.5 1620.7,242.9 1620.9,235.9 1621,240.9 1621.2,240.5 1621.4,242.4 1621.5,245.6 1621.7,245.4 1621.8,240.9 1622,240.9 1622.2,242.5 1622.3,244.9 1622.5,245.6 1622.7,242.8 1622.8,245.7 1623,239.6 1623.1,238.9 1623.3,234.6 1623.5,239.7 1623.6,243.4 1623.8,244.2 1623.9,250.2 1624.1,243.4 1624.3,242.4 1624.4,239.4 1624.6,240.3 1624.8,240.4 1624.9,241.4 1625.1,240.2 1625.2,238.2 1625.4,244.7 1625.6,243.1 1625.7,245.5 1625.9,237.7 1626.1,238.6 1626.2,240 1626.4,245 1626.5,241.5 1626.7,242.5 1626.9,241.7 1627,242.4 1627.2,240.6 1627.3,242.9 1627.5,239.7 1627.7,241.3 1627.8,242.7 1628,242.2 1628.2,243 1628.3,239.8 1628.5,242.6 1628.6,241.2 1628.8,242.9 1629,245.7 1629.1,239.6 1629.3,244.6 1629.4,240.2 1629.6,240.8 1629.8,246.2 1629.9,244.3 1630.1,243.2 1630.3,244 1630.4,245 1630.6,240 1630.7,242.5 1630.9,240.9 1631.1,243 1631.2,241.1 1631.4,243.8 1631.6,242 1631.7,240.4 1631.9,241.8 1632,243.1 1632.2,244.7 1632.4,241.5 1632.5,241 1632.7,242.6 1632.8,243.9 1633,240.5 1633.2,235.5 1633.3,242.7 1633.5,241 1633.7,240.9 1633.8,248.5 1634,241.6 1634.1,243.7 1634.3,238.4 1634.5,242.6 1634.6,243.9 1634.8,242.5 1635,241.5 1635.1,243.4 1635.3,242.1 1635.4,245.4 1635.6,242.5 1635.8,239.9 1635.9,236.8 1636.1,240.1 1636.2,241.2 1636.4,238.9 1636.6,239.3 1636.7,237.6 1636.9,239.1 1637.1,242.2 1637.2,241.3 1637.4,241.5 1637.5,241.1 1637.7,241.4 1637.9,243.9 1638,247.3 1638.2,243.6 1638.3,247.1 1638.5,241.7 1638.7,241.9 1638.8,246.2 1639,240.1 1639.2,239.7 1639.3,241.7 1639.5,237.6 1639.6,237.1 1639.8,245 1640,239.2 1640.1,240.8 1640.3,240.8 1640.5,239.5 1640.6,243.8 1640.8,243.4 1640.9,244 1641.1,243.9 1641.3,242.2 1641.4,245.7 1641.6,244.6 1641.7,240.4 1641.9,242.1 1642.1,240.9 1642.2,246.8 1642.4,243.9 1642.6,243.3 1642.7,241.8 1642.9,243.4 1643,239.5 1643.2,242.1 1643.4,241.9 1643.5,241.9 1643.7,240.1 1643.8,243.1 1644,239 1644.2,240.7 1644.3,241.5 1644.5,241.8 1644.7,240.6 1644.8,239.3 1645,239.5 1645.1,241 1645.3,239.7 1645.5,241.6 1645.6,238.7 1645.8,242 1646,247.3 1646.1,238.5 1646.3,241.6 1646.4,244.9 1646.6,156.6 1646.8,244.2 1646.9,236.5 1647.1,240.6 1647.2,246 1647.4,240.5 1647.6,242.9 1647.7,237 1647.9,244.6 1648.1,247.7 1648.2,241.7 1648.4,242.8 1648.5,243 1648.7,247.4 1648.9,240.8 1649,237.6 1649.2,246.8 1649.4,238.9 1649.5,243.4 1649.7,235.9 1649.8,240.8 1650,242.4 1650.2,239.1 1650.3,240.6 1650.5,243.4 1650.6,240.1 1650.8,243.2 1651,246.5 1651.1,236.7 1651.3,242.8 1651.5,243.5 1651.6,241 1651.8,245.9 1651.9,245.4 1652.1,243.2 1652.3,243.3 1652.4,241.7 1652.6,239 1652.7,243.1 1652.9,240.7 1653.1,240.4 1653.2,244.7 1653.4,241.3 1653.6,244.3 1653.7,239.2 1653.9,240.7 1654,241.9 1654.2,245.4 1654.4,241.6 1654.5,243.9 1654.7,240.1 1654.9,242.2 1655,244 1655.2,239.5 1655.3,240.1 1655.5,243.4 1655.7,238.9 1655.8,242.7 1656,242.7 1656.1,241.6 1656.3,243.9 1656.5,243.1 1656.6,242.3 1656.8,238 1657,238.1 1657.1,242.6 1657.3,237.8 1657.4,242 1657.6,240.9 1657.8,239.6 1657.9,241.2 1658.1,235.7 1658.2,241.3 1658.4,245 1658.6,238.6 1658.7,243 1658.9,242.7 1659.1,249.6 1659.2,239.3 1659.4,239.8 1659.5,239.9 1659.7,239.4 1659.9,237.6 1660,242 1660.2,239.5 1660.4,243.8 1660.5,242.8 1660.7,239.2 1660.8,240.9 1661,245.4 1661.2,241 1661.3,242.4 1661.5,244 1661.6,240.8 1661.8,243 1662,246 1662.1,244.8 1662.3,237.4 1662.5,245.8 1662.6,241.3 1662.8,240.3 1662.9,240.3 1663.1,245.1 1663.3,242.7 1663.4,241.6 1663.6,239.9 1663.8,243.6 1663.9,244.9 1664.1,239.3 1664.2,239.1 1664.4,241 1664.6,243.5 1664.7,240.9 1664.9,241.6 1665,239.8 1665.2,245.1 1665.4,241.6 1665.5,242.3 1665.7,244.8 1665.9,241.4 1666,241.8 1666.2,243 1666.3,240.9 1666.5,245.6 1666.7,242.1 1666.8,240.8 1667,241.2 1667.1,239.1 1667.3,245 1667.5,245.8 1667.6,241.3 1667.8,240.7 1668,236.5 1668.1,240.3 1668.3,244.2 1668.4,239.8 1668.6,244.1 1668.8,245.7 1668.9,235.2 1669.1,241.1 1669.3,240.1 1669.4,240.5 1669.6,237.3 1669.7,241.2 1669.9,238.8 1670.1,244.6 1670.2,245.5 1670.4,238.2 1670.5,238.1 1670.7,240.6 1670.9,241.3 1671,241.5 1671.2,243.7 1671.4,238 1671.5,240.2 1671.7,240.6 1671.8,241 1672,239.2 1672.2,240.6 1672.3,240 1672.5,244.9 1672.6,240.6 1672.8,236.3 1673,243.3 1673.1,242.3 1673.3,239.6 1673.5,239.5 1673.6,240.3 1673.8,246.1 1673.9,240.6 1674.1,245 1674.3,244 1674.4,240.5 1674.6,242.7 1674.8,239.8 1674.9,233.8 1675.1,239.9 1675.2,240.1 1675.4,244.2 1675.6,243.6 1675.7,244.7 1675.9,243.3 1676,244.7 1676.2,243.6 1676.4,242.5 1676.5,244.5 1676.7,245.6 1676.9,245.4 1677,240.8 1677.2,241.8 1677.3,239.3 1677.5,239.2 1677.7,242.8 1677.8,240.2 1678,245.6 1678.2,236 1678.3,238.8 1678.5,242.5 1678.6,244.9 1678.8,240.9 1679,246.7 1679.1,243.9 1679.3,240 1679.4,241.7 1679.6,243.2 1679.8,239.5 1679.9,244.6 1680.1,241.2 1680.3,243.2 1680.4,244.1 1680.6,240.7 1680.7,244.5 1680.9,237 1681.1,243.4 1681.2,236.8 1681.4,244.7 1681.5,240.4 1681.7,245 1681.9,245.4 1682,241.5 1682.2,240.2 1682.4,245.2 1682.5,238.9 1682.7,244 1682.8,241.6 1683,240.9 1683.2,240.4 1683.3,246.5 1683.5,237.8 1683.7,240.5 1683.8,243 1684,244.6 1684.1,246.3 1684.3,245.4 1684.5,240.5 1684.6,242.8 1684.8,244.8 1684.9,243.3 1685.1,237.9 1685.3,242.8 1685.4,243.4 1685.6,238.4 1685.8,240.7 1685.9,241.8 1686.1,243.5 1686.2,245.9 1686.4,244.9 1686.6,243.2 1686.7,242.5 1686.9,241 1687,240.5 1687.2,241.3 1687.4,241.4 1687.5,244.5 1687.7,247.5 1687.9,243.3 1688,244.4 1688.2,243.6 1688.3,242.6 1688.5,245.1 1688.7,244.8 1688.8,242.2 1689,241.6 1689.2,243.6 1689.3,240.6 1689.5,242.5 1689.6,244.5 1689.8,241.8 1690,237.1 1690.1,243.7 1690.3,238.9 1690.4,238.4 1690.6,238.1 1690.8,244 1690.9,236.7 1691.1,241.6 1691.3,242.6 1691.4,242.5 1691.6,240.4 1691.7,241.8 1691.9,242.4 1692.1,238.6 1692.2,243.8 1692.4,244.6 1692.6,239.9 1692.7,240.1 1692.9,239.1 1693,244.7 1693.2,239.1 1693.4,240.7 1693.5,237.4 1693.7,245.1 1693.8,241.4 1694,242.6 1694.2,246 1694.3,243.8 1694.5,239 1694.7,243.1 1694.8,243.8 1695,239.7 1695.1,239.4 1695.3,239.4 1695.5,244 1695.6,242.1 1695.8,239.3 1695.9,243.6 1696.1,243.9 1696.3,239.8 1696.4,237.9 1696.6,244.9 1696.8,248.6 1696.9,245.7 1697.1,244.5 1697.2,242.3 1697.4,240.3 1697.6,242.3 1697.7,243.7 1697.9,241.5 1698.1,244.4 1698.2,242 1698.4,243.6 1698.5,235 1698.7,239.8 1698.9,244.1 1699,244.5 1699.2,243 1699.3,246.2 1699.5,243.8 1699.7,243.8 1699.8,239.6 1700,243 1700.2,244 1700.3,245.4 1700.5,245 1700.6,242.1 1700.8,242.5 1701,239 1701.1,243.5 1701.3,239.2 1701.5,241.3 1701.6,241.9 1701.8,247.1 1701.9,245.2 1702.1,240 1702.3,238.3 1702.4,241.4 1702.6,240 1702.7,243 1702.9,242.9 1703.1,243.6 1703.2,239.4 1703.4,241 1703.6,242.5 1703.7,242.8 1703.9,240.5 1704,241.1 1704.2,244.1 1704.4,237.5 1704.5,241.3 1704.7,241.9 1704.8,238.1 1705,239.3 1705.2,242.1 1705.3,240.5 1705.5,244.7 1705.7,243.6 1705.8,247.7 1706,238.8 1706.1,246.8 1706.3,240.2 1706.5,244.1 1706.6,244.4 1706.8,242.4 1707,241.2 1707.1,240.3 1707.3,237.4 1707.4,241 1707.6,239.7 1707.8,243.5 1707.9,240.1 1708.1,241.5 1708.2,243.1 1708.4,242.2 1708.6,242.1 1708.7,241.4 1708.9,240.9 1709.1,243.2 1709.2,243.8 1709.4,240 1709.5,246.3 1709.7,243.5 1709.9,237.9 1710,248.9 1710.2,243.7 1710.3,240.2 1710.5,246.2 1710.7,235.2 1710.8,248.6 1711,238.2 1711.2,237.9 1711.3,239.6 1711.5,242.5 1711.6,241 1711.8,244.2 1712,239.8 1712.1,244.8 1712.3,242.6 1712.5,239.4 1712.6,244.8 1712.8,242.9 1712.9,241.5 1713.1,245.4 1713.3,238.9 1713.4,241 1713.6,245.8 1713.7,242 1713.9,243.9 1714.1,243.6 1714.2,241.7 1714.4,243.7 1714.6,239.4 1714.7,243.7 1714.9,239.4 1715,242 1715.2,239.7 1715.4,243.3 1715.5,243.2 1715.7,244.9 1715.9,240.4 1716,239.5 1716.2,236.5 1716.3,238.6 1716.5,241.3 1716.7,242.5 1716.8,240.9 1717,242 1717.1,238.2 1717.3,239.5 1717.5,244.1 1717.6,243.7 1717.8,238.4 1718,241.1 1718.1,242.5 1718.3,238.9 1718.4,242.9 1718.6,242.6 1718.8,243.1 1718.9,247 1719.1,239.7 1719.2,245 1719.4,243.4 1719.6,243.8 1719.7,240.1 1719.9,242.1 1720.1,241.9 1720.2,246.2 1720.4,242.1 1720.5,245.7 1720.7,241.1 1720.9,241 1721,242 1721.2,236.7 1721.4,240.6 1721.5,240.4 1721.7,241.6 1721.8,242.4 1722,239.4 1722.2,239.1 1722.3,245.3 1722.5,239.2 1722.6,240.6 1722.8,239.4 1723,240.7 1723.1,245.1 1723.3,244.9 1723.5,237.2 1723.6,241.3 1723.8,245.6 1723.9,241 1724.1,242.9 1724.3,246.7 1724.4,247.8 1724.6,246 1724.7,241.2 1724.9,242 1725.1,242.6 1725.2,241.2 1725.4,240.4 1725.6,247.3 1725.7,242.7 1725.9,244.1 1726,245.1 1726.2,243.3 1726.4,242.2 1726.5,242.6 1726.7,245.7 1726.9,243.2 1727,236.7 1727.2,244.6 1727.3,246.3 1727.5,241.2" fill="none" stroke="#333" stroke-width="3.9" stroke-linejoin="round" stroke-linecap="round" clip-path="url(#cb1)"/>
<path d="M1485 31V200" stroke="#333" stroke-width="4.8" stroke-linecap="round" fill="none"/>
<polygon points="1480.8,187.5 1489.2,187.5 1490,230 1490.8,240 1488.6,247 1487,242.5 1485,223.5 1483,242.5 1481.4,247 1479.2,240 1480,230" fill="#333"/>
<path d="M1323 19.1v10.4M1323 262.5v-10.4M1403.9 19.1v10.4M1403.9 262.5v-10.4M1484.8 19.1v10.4M1484.8 262.5v-10.4M1565.7 19.1v10.4M1565.7 262.5v-10.4M1646.6 19.1v10.4M1646.6 262.5v-10.4M1241.8 30h10.4M1727.5 30h-10.4M1241.8 115.8h10.4M1727.5 115.8h-10.4M1241.8 201.6h10.4M1727.5 201.6h-10.4" fill="none" stroke="#000" stroke-width="2.9"/>
<rect x="1241.8" y="19.1" width="485.7" height="243.4" fill="none" stroke="#000" stroke-width="3.0"/>
<circle cx="1485.1" cy="30.3" r="9" fill="#5f1639"/>
<polygon points="1322.8,146.6 1312.8,166 1332.8,166" fill="#b00000"/>
<rect x="1637.9" y="148.3" width="18" height="17.8" fill="#142870"/>
<text x="1242.4" y="294.2" font-size="25.2" text-anchor="middle" font-family='"DejaVu Sans","Liberation Sans",sans-serif'>−150</text>
<text x="1323.3" y="294.2" font-size="25.2" text-anchor="middle" font-family='"DejaVu Sans","Liberation Sans",sans-serif'>−100</text>
<text x="1404.2" y="294.2" font-size="25.2" text-anchor="middle" font-family='"DejaVu Sans","Liberation Sans",sans-serif'>−50</text>
<text x="1485.1" y="294.2" font-size="25.2" text-anchor="middle" font-family='"DejaVu Sans","Liberation Sans",sans-serif'>0</text>
<text x="1566" y="294.2" font-size="25.2" text-anchor="middle" font-family='"DejaVu Sans","Liberation Sans",sans-serif'>50</text>
<text x="1646.9" y="294.2" font-size="25.2" text-anchor="middle" font-family='"DejaVu Sans","Liberation Sans",sans-serif'>100</text>
<text x="1727.8" y="294.2" font-size="25.2" text-anchor="middle" font-family='"DejaVu Sans","Liberation Sans",sans-serif'>150</text>
<text><tspan x="1183.5" y="39.7" font-size="25.2" font-family='"DejaVu Sans","Liberation Sans",sans-serif'>10</tspan><tspan x="1215" y="30.6" font-size="17.6" font-family='"DejaVu Sans","Liberation Sans",sans-serif'>0</tspan></text>
<text><tspan x="1176.6" y="125.3" font-size="25.2" font-family='"DejaVu Sans","Liberation Sans",sans-serif'>10</tspan><tspan x="1208.2" y="115.8" font-size="17.6" font-family='"DejaVu Sans","Liberation Sans",sans-serif'>-2</tspan></text>
<text><tspan x="1176.6" y="211" font-size="25.2" font-family='"DejaVu Sans","Liberation Sans",sans-serif'>10</tspan><tspan x="1208.2" y="201.6" font-size="17.6" font-family='"DejaVu Sans","Liberation Sans",sans-serif'>-4</tspan></text>
<text><tspan x="1288.5" y="328" font-size="28.5" font-family='"DejaVu Sans","Liberation Sans",sans-serif'>Signal Detuning </tspan><tspan x="1525.5" y="328" font-size="29.1" font-family='"Liberation Serif","DejaVu Serif",serif' font-style="italic">δ</tspan><tspan x="1538.7" y="332.7" font-size="21.1" font-family='"Liberation Serif","DejaVu Serif",serif'>S</tspan><tspan x="1552.3" y="332" font-size="35.2" font-family='"DejaVu Sans Light","DejaVu Sans","Liberation Sans",sans-serif' font-weight="200">/</tspan><tspan x="1565.5" y="328" font-size="29.6" font-family='"Liberation Serif","DejaVu Serif",serif'>2</tspan><tspan x="1581.8" y="328" font-size="27.4" font-family='"Liberation Serif","DejaVu Serif",serif' font-style="italic">π </tspan><tspan x="1605.2" y="328" font-size="28.5" font-family='"DejaVu Sans","Liberation Sans",sans-serif'>(kHz)</tspan></text>
<text transform="translate(1157.8 225.4) rotate(-90)"><tspan x="-2.6" y="0" font-size="28.5" font-family='"DejaVu Sans","Liberation Sans",sans-serif'>Rel. Eff. </tspan><tspan x="115.5" y="0" font-size="29.9" font-family='"Liberation Serif","DejaVu Serif",serif' font-style="italic">η</tspan><tspan x="131.9" y="4" font-size="35.2" font-family='"DejaVu Sans Light","DejaVu Sans","Liberation Sans",sans-serif' font-weight="200">/</tspan><tspan x="144.6" y="0" font-size="29.9" font-family='"Liberation Serif","DejaVu Serif",serif' font-style="italic">η</tspan><tspan x="158.2" y="5.2" font-size="20.5" font-family='"Liberation Serif","DejaVu Serif",serif'>0</tspan></text>
<text><tspan x="1089.4" y="25.8" font-size="34.7" font-family='"DejaVu Sans","Liberation Sans",sans-serif' textLength="16.43" lengthAdjust="spacingAndGlyphs">(</tspan><tspan x="1105.1" y="24.2" font-size="32.4" font-family='"DejaVu Sans","Liberation Sans",sans-serif'>b</tspan><tspan x="1125" y="24.2" font-size="35" font-family='"DejaVu Sans","Liberation Sans",sans-serif' textLength="13.68" lengthAdjust="spacingAndGlyphs">-</tspan><tspan x="1139.1" y="24.2" font-size="32.4" font-family='"DejaVu Sans","Liberation Sans",sans-serif'>i</tspan><tspan x="1147.4" y="25.8" font-size="34.7" font-family='"DejaVu Sans","Liberation Sans",sans-serif' textLength="16.43" lengthAdjust="spacingAndGlyphs">)</tspan></text>
<text><tspan x="1089.4" y="352.2" font-size="34.7" font-family='"DejaVu Sans","Liberation Sans",sans-serif' textLength="16.43" lengthAdjust="spacingAndGlyphs">(</tspan><tspan x="1105.1" y="350.6" font-size="32.4" font-family='"DejaVu Sans","Liberation Sans",sans-serif'>b</tspan><tspan x="1125" y="350.6" font-size="35" font-family='"DejaVu Sans","Liberation Sans",sans-serif' textLength="13.68" lengthAdjust="spacingAndGlyphs">-</tspan><tspan x="1139.1" y="350.6" font-size="32.4" font-family='"DejaVu Sans","Liberation Sans",sans-serif'>i</tspan><tspan x="1148.2" y="350.6" font-size="32.4" font-family='"DejaVu Sans","Liberation Sans",sans-serif'>i</tspan><tspan x="1156.5" y="352.2" font-size="34.7" font-family='"DejaVu Sans","Liberation Sans",sans-serif' textLength="16.43" lengthAdjust="spacingAndGlyphs">)</tspan></text>
<clipPath id="cb2"><rect x="1241.8" y="389.5" width="485.7" height="243"/></clipPath>
<g clip-path="url(#cb2)">
<polyline points="1241.8,489.6 1243.3,485 1244.8,485.4 1246.2,491.7 1247.7,478.2 1249.2,478.5 1250.7,481.6 1252.1,473.6 1253.6,472.7 1255.1,471 1256.6,470.5 1258,465.6 1259.5,470.8 1261,465.7 1262.5,465.6 1263.9,457.4 1265.4,458.8 1266.9,458.8 1268.4,459.9 1269.8,455 1271.3,451.6 1272.8,451.5 1274.3,440.1 1275.8,440.1 1277.2,461.5 1278.7,454.8 1280.2,442.4 1281.7,442.3 1283.1,436.6 1284.6,435 1286.1,421.1 1287.6,440.6 1289,434.3 1290.5,416.9 1292,424.6 1293.5,423.1 1294.9,429.6 1296.4,436 1297.9,422.4 1299.4,421.5 1300.9,429.4 1302.3,424.5 1303.8,419.1 1305.3,424.1 1306.8,417.1 1308.2,414.6 1309.7,414 1311.2,416.9 1312.7,408.1 1314.1,405.1 1315.6,408.2 1317.1,415.5 1318.6,403.6 1320,411.7 1321.5,401 1323,414.4 1324.5,399.4 1325.9,405.5 1327.4,413.9 1328.9,406.6 1330.4,403.4 1331.9,401.3 1333.3,410.1 1334.8,410.7 1336.3,400.7 1337.8,405.4 1339.2,399.9 1340.7,395.8 1342.2,413.5 1343.7,399.3 1345.1,392 1346.6,403.2 1348.1,407 1349.6,395.5 1351,399.2 1352.5,394.6 1354,403.9 1355.5,412.5 1357,402.6 1358.4,405.4 1359.9,396.7 1361.4,401.4 1362.9,415.2 1364.3,412.4 1365.8,397.6 1367.3,399.7 1368.8,409.9 1370.2,405.8 1371.7,403.2 1373.2,403.7 1374.7,401.5 1376.1,406.7 1377.6,410 1379.1,412.1 1380.6,403.5 1382,428 1383.5,413.9 1385,413.7 1386.5,424.9 1388,413.6 1389.4,421.6 1390.9,412.2 1392.4,420.2 1393.9,415.9 1395.3,413.4 1396.8,420.4 1398.3,430.3 1399.8,435.9 1401.2,415.3 1402.7,429.2 1404.2,434.4 1405.7,430.3 1407.1,434 1408.6,428.7 1410.1,435.6 1411.6,437.3 1413,443.6 1414.5,437.7 1416,448.8 1417.5,439.8 1419,436.2 1420.4,456.8 1421.9,464.2 1423.4,447.2 1424.9,437.4 1426.3,460.5 1427.8,463.8 1429.3,454.8 1430.8,465.1 1432.2,465 1433.7,466 1435.2,462.9 1436.7,470.2 1438.1,468.4 1439.6,472.9 1441.1,478.5 1442.6,477.7 1444.1,483 1445.5,480 1447,488 1448.5,489.8 1450,478.8 1451.4,488.6 1452.9,490.8 1454.4,490.1 1455.9,496.8 1457.3,498 1458.8,497 1460.3,499.8 1461.8,508.7 1463.2,501.7 1464.7,510.3 1466.2,514.5 1467.7,516 1469.1,515.8 1470.6,509.3 1472.1,523.5 1473.6,520 1475.1,531.6 1476.5,525 1478,523.5 1479.5,530.2 1481,533.9 1482.4,532.7 1483.9,533.1 1485.4,535.4 1486.9,532.8 1488.3,541.4 1489.8,546.3 1491.3,546.7 1492.8,548.6 1494.2,550.1 1495.7,552.6 1497.2,554 1498.7,562 1500.2,556 1501.6,562.4 1503.1,566.2 1504.6,562.7 1506.1,562.7 1507.5,567 1509,569.9 1510.5,574.9 1512,566.3 1513.4,573.6 1514.9,580.8 1516.4,581.7 1517.9,581.2 1519.3,587.1 1520.8,584.5 1522.3,587.8 1523.8,585.5 1525.2,587.8 1526.7,597.8 1528.2,593.2 1529.7,598.3 1531.2,594 1532.6,597.6 1534.1,598.3 1535.6,603 1537.1,598.7 1538.5,599.8 1540,607.1 1541.5,605.7 1543,608.9 1544.4,609 1545.9,612.5 1547.4,608.2 1548.9,614.3 1550.3,614.2 1551.8,614 1553.3,617 1554.8,617.3 1556.3,618.8 1557.7,619.1 1559.2,621.6 1560.7,621.3 1562.2,621.8 1563.6,622.8 1565.1,623 1566.6,624.3 1568.1,623.5 1569.5,625.6 1571,626 1572.5,627.3 1574,627.6 1575.4,629 1576.9,627.2 1578.4,629.7 1579.9,629.6 1581.3,628.5 1582.8,628.8 1584.3,630 1585.8,632.2 1587.3,629.4 1588.7,629.7 1590.2,631.9 1591.7,629.2 1593.2,631 1594.6,631.5 1596.1,630 1597.6,630.2 1599.1,629.5 1600.5,631.6 1602,627.1 1603.5,629.8 1605,630.7 1606.4,627.6 1607.9,628.4 1609.4,627.1 1610.9,627.5 1612.3,626.6 1613.8,625.7 1615.3,626.4 1616.8,623.8 1618.3,624.7 1619.7,624.6 1621.2,622.5 1622.7,621.1 1624.2,621.3 1625.6,621.4 1627.1,618.2 1628.6,620.9 1630.1,618.9 1631.5,616.2 1633,617.4 1634.5,614 1636,613 1637.4,610.2 1638.9,612.2 1640.4,610.5 1641.9,607.5 1643.4,611.3 1644.8,599.6 1646.3,605.4 1647.8,604.1 1649.3,599.6 1650.7,599.9 1652.2,602 1653.7,595.5 1655.2,593.4 1656.6,594.7 1658.1,592.7 1659.6,589.4 1661.1,591 1662.5,586.1 1664,585 1665.5,585.4 1667,585.5 1668.4,580.8 1669.9,580.7 1671.4,573.9 1672.9,574.3 1674.4,570.7 1675.8,570.6 1677.3,568.3 1678.8,569.4 1680.3,563.2 1681.7,557.8 1683.2,562.2 1684.7,561.1 1686.2,557.7 1687.6,556.7 1689.1,555.4 1690.6,550.6 1692.1,550 1693.5,541.9 1695,544.8 1696.5,541.6 1698,537.1 1699.5,539.6 1700.9,531 1702.4,536.6 1703.9,535.2 1705.4,531.4 1706.8,528.2 1708.3,531.3 1709.8,523.6 1711.3,528.2 1712.7,513.2 1714.2,517.3 1715.7,517.6 1717.2,516.6 1718.6,512.2 1720.1,509.3 1721.6,510.9 1723.1,508.2 1724.5,502.7 1726,502.1 1727.5,493" fill="none" stroke="#b00000" stroke-width="4.0" stroke-linejoin="round" stroke-linecap="round" stroke-opacity="0.8"/>
<polyline points="1241.8,493.4 1243.3,499 1244.8,500.5 1246.2,512.2 1247.7,494.4 1249.2,499.6 1250.7,508.5 1252.1,505.7 1253.6,510 1255.1,515.8 1256.6,511.3 1258,519 1259.5,521.2 1261,525.2 1262.5,522.2 1263.9,526.6 1265.4,526.1 1266.9,532.8 1268.4,532 1269.8,538 1271.3,533.5 1272.8,538 1274.3,539.6 1275.8,541.4 1277.2,548.5 1278.7,544.2 1280.2,542 1281.7,556.5 1283.1,558.7 1284.6,559.9 1286.1,554.3 1287.6,558.5 1289,557.5 1290.5,560.6 1292,564 1293.5,565.7 1294.9,568.9 1296.4,567.8 1297.9,575.2 1299.4,575 1300.9,575 1302.3,572.7 1303.8,581.1 1305.3,583.6 1306.8,584 1308.2,581.8 1309.7,586.4 1311.2,584.3 1312.7,593.4 1314.1,588 1315.6,589.8 1317.1,596.8 1318.6,594.8 1320,594 1321.5,597.8 1323,597.3 1324.5,595.9 1325.9,601.5 1327.4,603.9 1328.9,606.1 1330.4,604.6 1331.9,607.4 1333.3,608.5 1334.8,609.5 1336.3,609.2 1337.8,613.3 1339.2,615 1340.7,617.5 1342.2,612.4 1343.7,615.1 1345.1,613.7 1346.6,617 1348.1,618.9 1349.6,617.8 1351,619.4 1352.5,621.8 1354,621.9 1355.5,618.6 1357,621.2 1358.4,621.7 1359.9,623.2 1361.4,624.2 1362.9,622.4 1364.3,624.2 1365.8,625.4 1367.3,624.8 1368.8,626.1 1370.2,624.8 1371.7,623.7 1373.2,626.5 1374.7,623.6 1376.1,626.4 1377.6,625.3 1379.1,626.6 1380.6,625.8 1382,625.3 1383.5,625.8 1385,626 1386.5,625.7 1388,625.6 1389.4,626.4 1390.9,624.2 1392.4,622.9 1393.9,621.7 1395.3,621.6 1396.8,618.5 1398.3,621 1399.8,621.6 1401.2,617.5 1402.7,621.2 1404.2,617.4 1405.7,619.6 1407.1,616.8 1408.6,619.7 1410.1,614.2 1411.6,615.1 1413,615.5 1414.5,610.1 1416,610.6 1417.5,610.8 1419,611.1 1420.4,608.8 1421.9,607.9 1423.4,605 1424.9,603.7 1426.3,605.2 1427.8,603.8 1429.3,602.4 1430.8,602.8 1432.2,599.9 1433.7,597.5 1435.2,594.4 1436.7,591.5 1438.1,594.7 1439.6,590.1 1441.1,590.9 1442.6,583.4 1444.1,586.8 1445.5,583.8 1447,585.7 1448.5,583.8 1450,579.5 1451.4,579.3 1452.9,575.6 1454.4,579 1455.9,571.1 1457.3,573.7 1458.8,564.4 1460.3,568.3 1461.8,562.3 1463.2,567.9 1464.7,560.5 1466.2,562.6 1467.7,559.5 1469.1,555.9 1470.6,555 1472.1,551.1 1473.6,547.4 1475.1,545.7 1476.5,546.2 1478,548.7 1479.5,544.7 1481,540.5 1482.4,545.6 1483.9,532.8 1485.4,534.4 1486.9,532.4 1488.3,525.6 1489.8,524.5 1491.3,524.2 1492.8,527.1 1494.2,519.5 1495.7,517.2 1497.2,520.4 1498.7,509.9 1500.2,510.1 1501.6,519 1503.1,507.5 1504.6,511.7 1506.1,498.5 1507.5,497.9 1509,504.8 1510.5,501.7 1512,494.9 1513.4,494.4 1514.9,483.6 1516.4,485.4 1517.9,488.4 1519.3,482 1520.8,493.4 1522.3,479.2 1523.8,474.2 1525.2,477.7 1526.7,478.6 1528.2,469.7 1529.7,460 1531.2,467.7 1532.6,473.2 1534.1,456.8 1535.6,473.8 1537.1,458.2 1538.5,462.7 1540,451.9 1541.5,460.6 1543,445.8 1544.4,450.2 1545.9,460.7 1547.4,460.5 1548.9,448.7 1550.3,437 1551.8,442.5 1553.3,441.3 1554.8,441.6 1556.3,433.7 1557.7,434.5 1559.2,433.5 1560.7,440.2 1562.2,424.5 1563.6,421.9 1565.1,438.1 1566.6,412.7 1568.1,421.8 1569.5,428.6 1571,436.9 1572.5,418.3 1574,417.7 1575.4,424.4 1576.9,431.5 1578.4,410.1 1579.9,421 1581.3,419.1 1582.8,394.7 1584.3,398.7 1585.8,406 1587.3,415.1 1588.7,406.3 1590.2,426.4 1591.7,408.5 1593.2,414 1594.6,417 1596.1,418.5 1597.6,402.5 1599.1,405.1 1600.5,404 1602,398.4 1603.5,410.3 1605,412.7 1606.4,416.2 1607.9,405.2 1609.4,396.8 1610.9,403.2 1612.3,397.1 1613.8,410.3 1615.3,404.9 1616.8,406.9 1618.3,410.4 1619.7,387.3 1621.2,394.7 1622.7,406.7 1624.2,406.7 1625.6,401.6 1627.1,411.9 1628.6,398.2 1630.1,411.2 1631.5,404.6 1633,409.7 1634.5,406 1636,412.7 1637.4,414.8 1638.9,410.8 1640.4,409.2 1641.9,406.9 1643.4,404.8 1644.8,394.8 1646.3,400.7 1647.8,409.1 1649.3,402.7 1650.7,413.7 1652.2,399.1 1653.7,406.4 1655.2,420.9 1656.6,406.7 1658.1,407.3 1659.6,433 1661.1,420.3 1662.5,419.4 1664,430.6 1665.5,425.7 1667,426 1668.4,417.1 1669.9,419.8 1671.4,405.2 1672.9,427.1 1674.4,417.9 1675.8,426.5 1677.3,426.6 1678.8,437.5 1680.3,443.9 1681.7,437.8 1683.2,429.3 1684.7,425.5 1686.2,433.5 1687.6,435.7 1689.1,445.8 1690.6,432.5 1692.1,435.4 1693.5,448.8 1695,447.5 1696.5,455 1698,441.8 1699.5,450 1700.9,454.9 1702.4,453.7 1703.9,455.4 1705.4,462.2 1706.8,468.9 1708.3,470.9 1709.8,475.4 1711.3,464.9 1712.7,457.1 1714.2,480.7 1715.7,472.6 1717.2,473.1 1718.6,482.6 1720.1,478.3 1721.6,487.2 1723.1,477.3 1724.5,488.6 1726,487.1 1727.5,486.3" fill="none" stroke="#142870" stroke-width="4.0" stroke-linejoin="round" stroke-linecap="round" stroke-opacity="0.8"/>
<polyline points="1241.8,400.1 1243.3,402.2 1244.8,400.8 1246.2,401.3 1247.7,401.2 1249.2,401.1 1250.7,401.9 1252.1,401.1 1253.6,401.4 1255.1,399.5 1256.6,400.9 1258,401.2 1259.5,401.1 1261,401.3 1262.5,401.5 1263.9,401.2 1265.4,400.8 1266.9,401.1 1268.4,400.6 1269.8,401.1 1271.3,401 1272.8,400.3 1274.3,400.7 1275.8,401.2 1277.2,401.1 1278.7,400.7 1280.2,400.1 1281.7,401.1 1283.1,401.1 1284.6,400.5 1286.1,401.4 1287.6,401.1 1289,400.6 1290.5,400.7 1292,401 1293.5,400.7 1294.9,402.3 1296.4,400.5 1297.9,401.4 1299.4,401.8 1300.9,400.9 1302.3,400.7 1303.8,401.2 1305.3,401.5 1306.8,401 1308.2,401 1309.7,400.3 1311.2,400.7 1312.7,400.9 1314.1,400.5 1315.6,401.1 1317.1,401.4 1318.6,400.7 1320,400.7 1321.5,401.1 1323,401.4 1324.5,400.9 1325.9,402.2 1327.4,400.7 1328.9,400.8 1330.4,401.8 1331.9,401 1333.3,401.4 1334.8,400.6 1336.3,401.9 1337.8,401.4 1339.2,400.7 1340.7,400.5 1342.2,402 1343.7,401.2 1345.1,400.8 1346.6,401.3 1348.1,400.3 1349.6,401.6 1351,400.8 1352.5,401.5 1354,400.3 1355.5,401 1357,401.2 1358.4,401.8 1359.9,400.2 1361.4,400.7 1362.9,400.7 1364.3,400.5 1365.8,400.8 1367.3,401.3 1368.8,401.4 1370.2,401.4 1371.7,400.4 1373.2,401.7 1374.7,401.3 1376.1,401.1 1377.6,400.9 1379.1,400.7 1380.6,401.6 1382,401.8 1383.5,401 1385,400.4 1386.5,400.6 1388,400.9 1389.4,401.1 1390.9,400.9 1392.4,401.1 1393.9,400.6 1395.3,401.4 1396.8,400.9 1398.3,401.1 1399.8,400.7 1401.2,400.9 1402.7,399.8 1404.2,400.3 1405.7,400.3 1407.1,401.9 1408.6,401.2 1410.1,401.3 1411.6,400.8 1413,402.1 1414.5,400.5 1416,400.5 1417.5,401.6 1419,401.5 1420.4,401.4 1421.9,401 1423.4,400.7 1424.9,400.1 1426.3,401.1 1427.8,400.6 1429.3,400.9 1430.8,400.2 1432.2,400.7 1433.7,400.4 1435.2,401.5 1436.7,401.1 1438.1,401.4 1439.6,400.3 1441.1,400.7 1442.6,401.1 1444.1,401.2 1445.5,400.8 1447,401.3 1448.5,401.4 1450,400.8 1451.4,399.9 1452.9,401.1 1454.4,401.3 1455.9,401.5 1457.3,401.6 1458.8,400.8 1460.3,400.6 1461.8,401 1463.2,400.8 1464.7,400.9 1466.2,400.9 1467.7,401.7 1469.1,401.2 1470.6,400.9 1472.1,401.4 1473.6,401.2 1475.1,401.4 1476.5,401.2 1478,400.6 1479.5,401.2 1481,401.1 1482.4,400.6 1483.9,400.7 1485.4,400.2 1486.9,402 1488.3,400.6 1489.8,401.2 1491.3,400.9 1492.8,400.6 1494.2,400.5 1495.7,400.5 1497.2,400.9 1498.7,400.3 1500.2,401.1 1501.6,401.1 1503.1,400.6 1504.6,401.3 1506.1,400 1507.5,400.5 1509,400 1510.5,401 1512,401.2 1513.4,400.9 1514.9,400.7 1516.4,401.3 1517.9,400.8 1519.3,401 1520.8,400.3 1522.3,401.3 1523.8,400.5 1525.2,401.3 1526.7,401.4 1528.2,401.3 1529.7,401.6 1531.2,400.9 1532.6,400.5 1534.1,400.9 1535.6,400.7 1537.1,400.2 1538.5,400.9 1540,400.9 1541.5,401.1 1543,401.7 1544.4,400.6 1545.9,401.8 1547.4,400.7 1548.9,401 1550.3,400.5 1551.8,401 1553.3,401.4 1554.8,400.8 1556.3,401.3 1557.7,401.1 1559.2,401 1560.7,401.1 1562.2,401.1 1563.6,401.4 1565.1,401.1 1566.6,402 1568.1,401.1 1569.5,401.6 1571,400.5 1572.5,400.4 1574,401.9 1575.4,400.9 1576.9,401.1 1578.4,401.5 1579.9,400.8 1581.3,401.2 1582.8,401.8 1584.3,401.1 1585.8,401.1 1587.3,401 1588.7,401.6 1590.2,400.7 1591.7,400.7 1593.2,401.5 1594.6,401.3 1596.1,401 1597.6,401.3 1599.1,400.2 1600.5,400.9 1602,401.5 1603.5,401.4 1605,401 1606.4,399.9 1607.9,401.1 1609.4,400.9 1610.9,400.8 1612.3,401 1613.8,399.9 1615.3,401.2 1616.8,400.7 1618.3,400.9 1619.7,400.7 1621.2,401.5 1622.7,400.2 1624.2,401.1 1625.6,401 1627.1,401.4 1628.6,401.3 1630.1,400.7 1631.5,400.5 1633,400.7 1634.5,400.4 1636,400.7 1637.4,401 1638.9,400.6 1640.4,400.7 1641.9,401 1643.4,400.7 1644.8,400.4 1646.3,400.9 1647.8,401.2 1649.3,400.7 1650.7,400.1 1652.2,401.1 1653.7,401 1655.2,401.1 1656.6,400.4 1658.1,401.9 1659.6,400.8 1661.1,400.4 1662.5,401.4 1664,400.3 1665.5,400.8 1667,401.3 1668.4,400.9 1669.9,401.7 1671.4,401.3 1672.9,400.2 1674.4,401.4 1675.8,400.1 1677.3,401 1678.8,400.5 1680.3,401 1681.7,402 1683.2,401.3 1684.7,400.9 1686.2,401.5 1687.6,401.6 1689.1,400.8 1690.6,401.3 1692.1,401.8 1693.5,401.3 1695,400.6 1696.5,401.2 1698,400.6 1699.5,400.3 1700.9,401 1702.4,401.5 1703.9,401.6 1705.4,401 1706.8,400.6 1708.3,400.9 1709.8,400.7 1711.3,401.2 1712.7,400.9 1714.2,401.2 1715.7,401.2 1717.2,401.6 1718.6,401.7 1720.1,401.2 1721.6,401.5 1723.1,401.4 1724.5,400.7 1726,401 1727.5,399.7" fill="none" stroke="#5f1639" stroke-width="4.2" stroke-linejoin="round" stroke-linecap="round" stroke-opacity="0.8"/>
<polyline points="1241.8,491.3 1244.8,487.1 1247.7,482.9 1250.7,478.7 1253.6,474.7 1256.6,470.6 1259.5,466.7 1262.5,462.8 1265.4,459 1268.4,455.3 1271.3,451.6 1274.3,448.1 1277.2,444.6 1280.2,441.2 1283.1,438 1286.1,434.9 1289,431.8 1292,428.9 1294.9,426.2 1297.9,423.5 1300.9,421 1303.8,418.6 1306.8,416.4 1309.7,414.3 1312.7,412.3 1315.6,410.5 1318.6,408.9 1321.5,407.4 1324.5,406 1327.4,404.8 1330.4,403.8 1333.3,402.9 1336.3,402.2 1339.2,401.7 1342.2,401.3 1345.1,401.1 1348.1,401 1351,401.1 1354,401.4 1357,401.8 1359.9,402.4 1362.9,403.2 1365.8,404.1 1368.8,405.2 1371.7,406.4 1374.7,407.8 1377.6,409.4 1380.6,411.1 1383.5,412.9 1386.5,414.9 1389.4,417.1 1392.4,419.4 1395.3,421.8 1398.3,424.3 1401.2,427 1404.2,429.8 1407.1,432.8 1410.1,435.8 1413,439 1416,442.3 1419,445.7 1421.9,449.2 1424.9,452.7 1427.8,456.4 1430.8,460.2 1433.7,464 1436.7,467.9 1439.6,471.9 1442.6,475.9 1445.5,480 1448.5,484.2 1451.4,488.4 1454.4,492.6 1457.3,496.9 1460.3,501.2 1463.2,505.5 1466.2,509.8 1469.1,514.1 1472.1,518.5 1475.1,522.8 1478,527.1 1481,531.4 1483.9,535.7 1486.9,540 1489.8,544.2 1492.8,548.4 1495.7,552.5 1498.7,556.6 1501.6,560.6 1504.6,564.6 1507.5,568.5 1510.5,572.3 1513.4,576 1516.4,579.6 1519.3,583.2 1522.3,586.7 1525.2,590 1528.2,593.2 1531.2,596.4 1534.1,599.4 1537.1,602.3 1540,605.1 1543,607.7 1545.9,610.2 1548.9,612.6 1551.8,614.8 1554.8,616.9 1557.7,618.9 1560.7,620.7 1563.6,622.4 1566.6,623.9 1569.5,625.2 1572.5,626.4 1575.4,627.4 1578.4,628.3 1581.3,629 1584.3,629.5 1587.3,629.9 1590.2,630.1 1593.2,630.2 1596.1,630.1 1599.1,629.8 1602,629.4 1605,628.8 1607.9,628 1610.9,627.1 1613.8,626 1616.8,624.7 1619.7,623.3 1622.7,621.8 1625.6,620.1 1628.6,618.2 1631.5,616.2 1634.5,614.1 1637.4,611.8 1640.4,609.4 1643.4,606.8 1646.3,604.1 1649.3,601.3 1652.2,598.3 1655.2,595.3 1658.1,592.1 1661.1,588.8 1664,585.4 1667,582 1669.9,578.4 1672.9,574.7 1675.8,570.9 1678.8,567.1 1681.7,563.2 1684.7,559.2 1687.6,555.2 1690.6,551.1 1693.5,546.9 1696.5,542.7 1699.5,538.5 1702.4,534.2 1705.4,529.9 1708.3,525.6 1711.3,521.3 1714.2,517 1717.2,512.6 1720.1,508.3 1723.1,504 1726,499.7" fill="none" stroke="#000" stroke-opacity="0.84" stroke-width="3.7" stroke-dasharray="12.8 6.1"/>
<polyline points="1241.8,494.3 1244.8,498.5 1247.7,502.8 1250.7,507 1253.6,511.3 1256.6,515.5 1259.5,519.8 1262.5,524 1265.4,528.3 1268.4,532.5 1271.3,536.7 1274.3,540.8 1277.2,544.9 1280.2,549 1283.1,553 1286.1,556.9 1289,560.8 1292,564.7 1294.9,568.4 1297.9,572.1 1300.9,575.7 1303.8,579.2 1306.8,582.6 1309.7,585.9 1312.7,589.1 1315.6,592.2 1318.6,595.1 1321.5,598 1324.5,600.7 1327.4,603.3 1330.4,605.8 1333.3,608.1 1336.3,610.4 1339.2,612.4 1342.2,614.4 1345.1,616.1 1348.1,617.8 1351,619.3 1354,620.6 1357,621.8 1359.9,622.8 1362.9,623.6 1365.8,624.3 1368.8,624.9 1371.7,625.3 1374.7,625.5 1377.6,625.6 1380.6,625.5 1383.5,625.2 1386.5,624.8 1389.4,624.2 1392.4,623.4 1395.3,622.5 1398.3,621.5 1401.2,620.3 1404.2,618.9 1407.1,617.4 1410.1,615.7 1413,613.9 1416,611.9 1419,609.8 1421.9,607.6 1424.9,605.2 1427.8,602.7 1430.8,600 1433.7,597.3 1436.7,594.4 1439.6,591.4 1442.6,588.3 1445.5,585 1448.5,581.7 1451.4,578.3 1454.4,574.8 1457.3,571.2 1460.3,567.5 1463.2,563.7 1466.2,559.9 1469.1,555.9 1472.1,552 1475.1,548 1478,543.9 1481,539.8 1483.9,535.6 1486.9,531.4 1489.8,527.2 1492.8,523 1495.7,518.7 1498.7,514.5 1501.6,510.2 1504.6,505.9 1507.5,501.7 1510.5,497.5 1513.4,493.3 1516.4,489.1 1519.3,484.9 1522.3,480.8 1525.2,476.8 1528.2,472.8 1531.2,468.8 1534.1,465 1537.1,461.2 1540,457.4 1543,453.8 1545.9,450.2 1548.9,446.7 1551.8,443.3 1554.8,440.1 1557.7,436.9 1560.7,433.8 1563.6,430.9 1566.6,428 1569.5,425.3 1572.5,422.7 1575.4,420.3 1578.4,418 1581.3,415.8 1584.3,413.7 1587.3,411.8 1590.2,410.1 1593.2,408.5 1596.1,407 1599.1,405.7 1602,404.6 1605,403.6 1607.9,402.8 1610.9,402.1 1613.8,401.6 1616.8,401.2 1619.7,401 1622.7,401 1625.6,401.1 1628.6,401.4 1631.5,401.9 1634.5,402.5 1637.4,403.3 1640.4,404.2 1643.4,405.3 1646.3,406.6 1649.3,407.9 1652.2,409.5 1655.2,411.2 1658.1,413 1661.1,415 1664,417.2 1667,419.4 1669.9,421.8 1672.9,424.4 1675.8,427.1 1678.8,429.8 1681.7,432.8 1684.7,435.8 1687.6,438.9 1690.6,442.2 1693.5,445.5 1696.5,449 1699.5,452.5 1702.4,456.1 1705.4,459.8 1708.3,463.6 1711.3,467.5 1714.2,471.4 1717.2,475.4 1720.1,479.4 1723.1,483.5 1726,487.6" fill="none" stroke="#000" stroke-opacity="0.84" stroke-width="3.7" stroke-dasharray="12.8 6.1"/>
<polyline points="1241.8,401 1244.8,401 1247.7,401 1250.7,401 1253.6,401 1256.6,401 1259.5,401 1262.5,401 1265.4,401 1268.4,401 1271.3,401 1274.3,401 1277.2,401 1280.2,401 1283.1,401 1286.1,401 1289,401 1292,401 1294.9,401 1297.9,401 1300.9,401 1303.8,401 1306.8,401 1309.7,401 1312.7,401 1315.6,401 1318.6,401 1321.5,401 1324.5,401 1327.4,401 1330.4,401 1333.3,401 1336.3,401 1339.2,401 1342.2,401 1345.1,401 1348.1,401 1351,401 1354,401 1357,401 1359.9,401 1362.9,401 1365.8,401 1368.8,401 1371.7,401 1374.7,401 1377.6,401 1380.6,401 1383.5,401 1386.5,401 1389.4,401 1392.4,401 1395.3,401 1398.3,401 1401.2,401 1404.2,401 1407.1,401 1410.1,401 1413,401 1416,401 1419,401 1421.9,401 1424.9,401 1427.8,401 1430.8,401 1433.7,401 1436.7,401 1439.6,401 1442.6,401 1445.5,401 1448.5,401 1451.4,401 1454.4,401 1457.3,401 1460.3,401 1463.2,401 1466.2,401 1469.1,401 1472.1,401 1475.1,401 1478,401 1481,401 1483.9,401 1486.9,401 1489.8,401 1492.8,401 1495.7,401 1498.7,401 1501.6,401 1504.6,401 1507.5,401 1510.5,401 1513.4,401 1516.4,401 1519.3,401 1522.3,401 1525.2,401 1528.2,401 1531.2,401 1534.1,401 1537.1,401 1540,401 1543,401 1545.9,401 1548.9,401 1551.8,401 1554.8,401 1557.7,401 1560.7,401 1563.6,401 1566.6,401 1569.5,401 1572.5,401 1575.4,401 1578.4,401 1581.3,401 1584.3,401 1587.3,401 1590.2,401 1593.2,401 1596.1,401 1599.1,401 1602,401 1605,401 1607.9,401 1610.9,401 1613.8,401 1616.8,401 1619.7,401 1622.7,401 1625.6,401 1628.6,401 1631.5,401 1634.5,401 1637.4,401 1640.4,401 1643.4,401 1646.3,401 1649.3,401 1652.2,401 1655.2,401 1658.1,401 1661.1,401 1664,401 1667,401 1669.9,401 1672.9,401 1675.8,401 1678.8,401 1681.7,401 1684.7,401 1687.6,401 1690.6,401 1693.5,401 1696.5,401 1699.5,401 1702.4,401 1705.4,401 1708.3,401 1711.3,401 1714.2,401 1717.2,401 1720.1,401 1723.1,401 1726,401" fill="none" stroke="#000" stroke-opacity="0.84" stroke-width="3.7" stroke-dasharray="12.8 6.1"/>
</g>
<path d="M1363.2 389.5v10.4M1363.2 632.5v-10.4M1484.7 389.5v10.4M1484.7 632.5v-10.4M1606.1 389.5v10.4M1606.1 632.5v-10.4M1241.8 586.2h10.4M1727.5 586.2h-10.4M1241.8 539.9h10.4M1727.5 539.9h-10.4M1241.8 493.6h10.4M1727.5 493.6h-10.4M1241.8 447.3h10.4M1727.5 447.3h-10.4M1241.8 401h10.4M1727.5 401h-10.4" fill="none" stroke="#000" stroke-width="2.9"/>
<rect x="1241.8" y="389.5" width="485.7" height="243" fill="none" stroke="#000" stroke-width="3.0"/>
<circle cx="1484.8" cy="423.6" r="10.8" fill="#5f1639"/>
<polygon points="1296,447 1284.2,469.6 1307.8,469.6" fill="#b00000"/>
<rect x="1656.4" y="448.4" width="21.2" height="21.2" fill="#142870"/>
<text x="1229" y="641.9" font-size="25.2" text-anchor="end" font-family='"DejaVu Sans","Liberation Sans",sans-serif'>0.0</text>
<text x="1229" y="595.6" font-size="25.2" text-anchor="end" font-family='"DejaVu Sans","Liberation Sans",sans-serif'>0.2</text>
<text x="1229" y="549.3" font-size="25.2" text-anchor="end" font-family='"DejaVu Sans","Liberation Sans",sans-serif'>0.4</text>
<text x="1229" y="503" font-size="25.2" text-anchor="end" font-family='"DejaVu Sans","Liberation Sans",sans-serif'>0.6</text>
<text x="1229" y="456.7" font-size="25.2" text-anchor="end" font-family='"DejaVu Sans","Liberation Sans",sans-serif'>0.8</text>
<text x="1229" y="410.4" font-size="25.2" text-anchor="end" font-family='"DejaVu Sans","Liberation Sans",sans-serif'>1.0</text>
<text><tspan x="1234.6" y="663.7" font-size="26.2" font-family='"Liberation Serif","DejaVu Serif",serif'>0</tspan></text>
<text><tspan x="1344.2" y="663.7" font-size="24.2" font-family='"Liberation Serif","DejaVu Serif",serif' font-style="italic">π</tspan><tspan x="1358.9" y="667.2" font-size="30" font-family='"DejaVu Sans Light","DejaVu Sans","Liberation Sans",sans-serif' font-weight="200">/</tspan><tspan x="1370.9" y="663.7" font-size="26.2" font-family='"Liberation Serif","DejaVu Serif",serif'>2</tspan></text>
<text><tspan x="1478.1" y="663.7" font-size="24.2" font-family='"Liberation Serif","DejaVu Serif",serif' font-style="italic">π</tspan></text>
<text><tspan x="1579.2" y="663.7" font-size="26.2" font-family='"Liberation Serif","DejaVu Serif",serif'>3</tspan><tspan x="1593.4" y="663.7" font-size="24.2" font-family='"Liberation Serif","DejaVu Serif",serif' font-style="italic">π</tspan><tspan x="1607.3" y="667.2" font-size="30" font-family='"DejaVu Sans Light","DejaVu Sans","Liberation Sans",sans-serif' font-weight="200">/</tspan><tspan x="1618.9" y="663.7" font-size="26.2" font-family='"Liberation Serif","DejaVu Serif",serif'>2</tspan></text>
<text><tspan x="1713.5" y="663.7" font-size="26.2" font-family='"Liberation Serif","DejaVu Serif",serif'>2</tspan><tspan x="1726.9" y="663.7" font-size="24.2" font-family='"Liberation Serif","DejaVu Serif",serif' font-style="italic">π</tspan></text>
<text><tspan x="1298.6" y="702.9" font-size="28.8" font-family='"DejaVu Sans","Liberation Sans",sans-serif'>Phase Difference </tspan><tspan x="1552" y="702.9" font-size="28.5" font-family='"DejaVu Sans","Liberation Sans",sans-serif' textLength="21.44" lengthAdjust="spacingAndGlyphs">Δ</tspan><tspan x="1574.7" y="702.7" font-size="29.4" font-family='"Liberation Serif","DejaVu Serif",serif' font-style="italic">ϕ </tspan><tspan x="1600.9" y="702.7" font-size="28.5" font-family='"DejaVu Sans","Liberation Sans",sans-serif'>(rad)</tspan></text>
<text transform="translate(1177.0 603.7) rotate(-90)"><tspan x="-2.7" y="0" font-size="28.5" font-family='"DejaVu Sans","Liberation Sans",sans-serif'>Rel. Power (-)</tspan></text>
</g>
</svg>
</body></html>
